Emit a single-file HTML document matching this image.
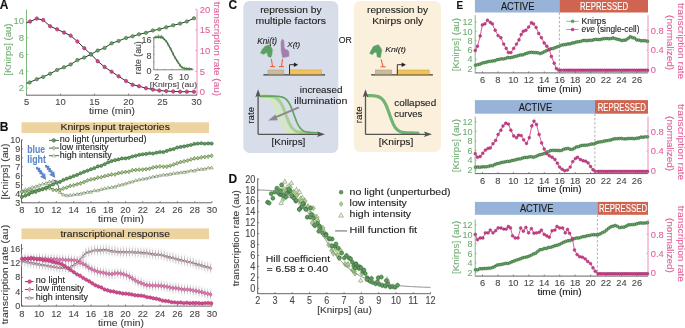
<!DOCTYPE html>
<html><head><meta charset="utf-8"><style>
html,body{margin:0;padding:0;background:#fff;}
body{width:685px;height:328px;overflow:hidden;}
svg{display:block;filter:blur(0.3px);}
svg text{font-family:"Liberation Sans", sans-serif;}
</style></head><body>
<svg width="685" height="328" viewBox="0 0 685 328">
<rect width="685" height="328" fill="#fff"/>
<text x="-0.30" y="8.80" font-size="12" text-anchor="start" fill="#111" font-weight="bold" font-style="normal" stroke="#111" stroke-width="0.1">A</text>
<line x1="26.50" y1="9.60" x2="26.50" y2="95.40" stroke="#7fb77f" stroke-width="1"/>
<line x1="26.50" y1="95.20" x2="197.00" y2="95.20" stroke="#666" stroke-width="1"/>
<line x1="197.00" y1="9.60" x2="197.00" y2="95.40" stroke="#ea8cb8" stroke-width="1"/>
<line x1="26.50" y1="88.00" x2="28.30" y2="88.00" stroke="#7fb77f" stroke-width="0.8"/>
<text x="24.00" y="91.34" font-size="9.4" text-anchor="end" fill="#6fae72" font-weight="normal" font-style="normal" stroke="#6fae72" stroke-width="0.1">2</text>
<line x1="26.50" y1="71.25" x2="28.30" y2="71.25" stroke="#7fb77f" stroke-width="0.8"/>
<text x="24.00" y="74.59" font-size="9.4" text-anchor="end" fill="#6fae72" font-weight="normal" font-style="normal" stroke="#6fae72" stroke-width="0.1">4</text>
<line x1="26.50" y1="54.50" x2="28.30" y2="54.50" stroke="#7fb77f" stroke-width="0.8"/>
<text x="24.00" y="57.84" font-size="9.4" text-anchor="end" fill="#6fae72" font-weight="normal" font-style="normal" stroke="#6fae72" stroke-width="0.1">6</text>
<line x1="26.50" y1="37.75" x2="28.30" y2="37.75" stroke="#7fb77f" stroke-width="0.8"/>
<text x="24.00" y="41.09" font-size="9.4" text-anchor="end" fill="#6fae72" font-weight="normal" font-style="normal" stroke="#6fae72" stroke-width="0.1">8</text>
<line x1="26.50" y1="21.00" x2="28.30" y2="21.00" stroke="#7fb77f" stroke-width="0.8"/>
<text x="24.00" y="24.34" font-size="9.4" text-anchor="end" fill="#6fae72" font-weight="normal" font-style="normal" stroke="#6fae72" stroke-width="0.1">10</text>
<line x1="195.20" y1="92.00" x2="197.00" y2="92.00" stroke="#ea8cb8" stroke-width="0.8"/>
<text x="199.80" y="95.34" font-size="9.4" text-anchor="start" fill="#e0609c" font-weight="normal" font-style="normal" stroke="#e0609c" stroke-width="0.1">0</text>
<line x1="195.20" y1="71.33" x2="197.00" y2="71.33" stroke="#ea8cb8" stroke-width="0.8"/>
<text x="199.80" y="74.66" font-size="9.4" text-anchor="start" fill="#e0609c" font-weight="normal" font-style="normal" stroke="#e0609c" stroke-width="0.1">5</text>
<line x1="195.20" y1="50.65" x2="197.00" y2="50.65" stroke="#ea8cb8" stroke-width="0.8"/>
<text x="199.80" y="53.99" font-size="9.4" text-anchor="start" fill="#e0609c" font-weight="normal" font-style="normal" stroke="#e0609c" stroke-width="0.1">10</text>
<line x1="195.20" y1="29.98" x2="197.00" y2="29.98" stroke="#ea8cb8" stroke-width="0.8"/>
<text x="199.80" y="33.31" font-size="9.4" text-anchor="start" fill="#e0609c" font-weight="normal" font-style="normal" stroke="#e0609c" stroke-width="0.1">15</text>
<line x1="195.20" y1="9.30" x2="197.00" y2="9.30" stroke="#ea8cb8" stroke-width="0.8"/>
<text x="199.80" y="12.64" font-size="9.4" text-anchor="start" fill="#e0609c" font-weight="normal" font-style="normal" stroke="#e0609c" stroke-width="0.1">20</text>
<line x1="26.50" y1="95.20" x2="26.50" y2="93.60" stroke="#666" stroke-width="0.8"/>
<text x="26.50" y="105.24" font-size="9.4" text-anchor="middle" fill="#474747" font-weight="normal" font-style="normal" stroke="#474747" stroke-width="0.1">5</text>
<line x1="60.50" y1="95.20" x2="60.50" y2="93.60" stroke="#666" stroke-width="0.8"/>
<text x="60.50" y="105.24" font-size="9.4" text-anchor="middle" fill="#474747" font-weight="normal" font-style="normal" stroke="#474747" stroke-width="0.1">10</text>
<line x1="94.50" y1="95.20" x2="94.50" y2="93.60" stroke="#666" stroke-width="0.8"/>
<text x="94.50" y="105.24" font-size="9.4" text-anchor="middle" fill="#474747" font-weight="normal" font-style="normal" stroke="#474747" stroke-width="0.1">15</text>
<line x1="128.50" y1="95.20" x2="128.50" y2="93.60" stroke="#666" stroke-width="0.8"/>
<text x="128.50" y="105.24" font-size="9.4" text-anchor="middle" fill="#474747" font-weight="normal" font-style="normal" stroke="#474747" stroke-width="0.1">20</text>
<line x1="162.50" y1="95.20" x2="162.50" y2="93.60" stroke="#666" stroke-width="0.8"/>
<text x="162.50" y="105.24" font-size="9.4" text-anchor="middle" fill="#474747" font-weight="normal" font-style="normal" stroke="#474747" stroke-width="0.1">25</text>
<line x1="196.50" y1="95.20" x2="196.50" y2="93.60" stroke="#666" stroke-width="0.8"/>
<text x="196.50" y="105.24" font-size="9.4" text-anchor="middle" fill="#474747" font-weight="normal" font-style="normal" stroke="#474747" stroke-width="0.1">30</text>
<text x="112.00" y="114.20" font-size="9.3" text-anchor="middle" fill="#3a3a3a" font-weight="normal" font-style="normal" textLength="46" lengthAdjust="spacingAndGlyphs" stroke="#3a3a3a" stroke-width="0.1">time (min)</text>
<text x="10.70" y="49.60" font-size="8.93" text-anchor="middle" fill="#6fae72" font-weight="normal" font-style="normal" transform="rotate(-90 10.70 49.60)" textLength="52.3" lengthAdjust="spacingAndGlyphs" stroke="#6fae72" stroke-width="0.1">[Knirps] (au)</text>
<text x="213.80" y="48.85" font-size="9.3" text-anchor="middle" fill="#e0609c" font-weight="normal" font-style="normal" transform="rotate(90 213.80 48.85)" textLength="94.3" lengthAdjust="spacingAndGlyphs" stroke="#e0609c" stroke-width="0.1">transcription rate (au)</text>
<polyline points="26.50,23.00 30.10,21.50 36.80,18.60 43.20,20.10 50.10,26.20 57.10,29.30 64.00,32.50 70.70,35.70 77.40,41.50 84.30,48.20 91.00,54.30 97.70,61.20 104.60,67.00 111.60,71.70 118.60,76.30 126.00,81.00 132.60,84.70 139.00,86.20 146.00,88.20 152.90,89.60 159.30,90.50 166.20,91.10 173.20,91.40 180.10,91.70 186.80,91.70 194.00,91.70" fill="none" stroke="#333" stroke-width="1" stroke-linejoin="round"/>
<polyline points="26.50,83.30 29.60,82.40 36.80,79.20 43.20,76.90 50.10,73.70 57.10,69.90 64.00,67.30 70.70,64.40 77.40,60.10 84.30,57.50 91.00,54.30 97.70,50.50 104.60,47.90 111.60,43.30 118.60,40.90 126.00,38.00 132.60,36.30 139.00,34.30 146.00,32.80 152.90,30.50 159.30,29.30 166.20,27.30 173.20,25.30 180.10,23.60 186.80,21.50 194.00,18.30" fill="none" stroke="#333" stroke-width="1" stroke-linejoin="round"/>
<line x1="30.10" y1="19.30" x2="30.10" y2="23.70" stroke="#888" stroke-width="0.5"/>
<circle cx="30.10" cy="21.50" r="1.75" fill="#d3458b" stroke="#8e2459" stroke-width="0.45"/>
<line x1="36.80" y1="16.40" x2="36.80" y2="20.80" stroke="#888" stroke-width="0.5"/>
<circle cx="36.80" cy="18.60" r="1.75" fill="#d3458b" stroke="#8e2459" stroke-width="0.45"/>
<line x1="43.20" y1="17.90" x2="43.20" y2="22.30" stroke="#888" stroke-width="0.5"/>
<circle cx="43.20" cy="20.10" r="1.75" fill="#d3458b" stroke="#8e2459" stroke-width="0.45"/>
<line x1="50.10" y1="24.00" x2="50.10" y2="28.40" stroke="#888" stroke-width="0.5"/>
<circle cx="50.10" cy="26.20" r="1.75" fill="#d3458b" stroke="#8e2459" stroke-width="0.45"/>
<line x1="57.10" y1="27.10" x2="57.10" y2="31.50" stroke="#888" stroke-width="0.5"/>
<circle cx="57.10" cy="29.30" r="1.75" fill="#d3458b" stroke="#8e2459" stroke-width="0.45"/>
<line x1="64.00" y1="30.30" x2="64.00" y2="34.70" stroke="#888" stroke-width="0.5"/>
<circle cx="64.00" cy="32.50" r="1.75" fill="#d3458b" stroke="#8e2459" stroke-width="0.45"/>
<line x1="70.70" y1="33.50" x2="70.70" y2="37.90" stroke="#888" stroke-width="0.5"/>
<circle cx="70.70" cy="35.70" r="1.75" fill="#d3458b" stroke="#8e2459" stroke-width="0.45"/>
<line x1="77.40" y1="39.30" x2="77.40" y2="43.70" stroke="#888" stroke-width="0.5"/>
<circle cx="77.40" cy="41.50" r="1.75" fill="#d3458b" stroke="#8e2459" stroke-width="0.45"/>
<line x1="84.30" y1="46.00" x2="84.30" y2="50.40" stroke="#888" stroke-width="0.5"/>
<circle cx="84.30" cy="48.20" r="1.75" fill="#d3458b" stroke="#8e2459" stroke-width="0.45"/>
<line x1="91.00" y1="52.10" x2="91.00" y2="56.50" stroke="#888" stroke-width="0.5"/>
<circle cx="91.00" cy="54.30" r="1.75" fill="#d3458b" stroke="#8e2459" stroke-width="0.45"/>
<line x1="97.70" y1="59.00" x2="97.70" y2="63.40" stroke="#888" stroke-width="0.5"/>
<circle cx="97.70" cy="61.20" r="1.75" fill="#d3458b" stroke="#8e2459" stroke-width="0.45"/>
<line x1="104.60" y1="64.80" x2="104.60" y2="69.20" stroke="#888" stroke-width="0.5"/>
<circle cx="104.60" cy="67.00" r="1.75" fill="#d3458b" stroke="#8e2459" stroke-width="0.45"/>
<line x1="111.60" y1="69.50" x2="111.60" y2="73.90" stroke="#888" stroke-width="0.5"/>
<circle cx="111.60" cy="71.70" r="1.75" fill="#d3458b" stroke="#8e2459" stroke-width="0.45"/>
<line x1="118.60" y1="74.10" x2="118.60" y2="78.50" stroke="#888" stroke-width="0.5"/>
<circle cx="118.60" cy="76.30" r="1.75" fill="#d3458b" stroke="#8e2459" stroke-width="0.45"/>
<line x1="126.00" y1="78.80" x2="126.00" y2="83.20" stroke="#888" stroke-width="0.5"/>
<circle cx="126.00" cy="81.00" r="1.75" fill="#d3458b" stroke="#8e2459" stroke-width="0.45"/>
<line x1="132.60" y1="82.50" x2="132.60" y2="86.90" stroke="#888" stroke-width="0.5"/>
<circle cx="132.60" cy="84.70" r="1.75" fill="#d3458b" stroke="#8e2459" stroke-width="0.45"/>
<line x1="139.00" y1="84.00" x2="139.00" y2="88.40" stroke="#888" stroke-width="0.5"/>
<circle cx="139.00" cy="86.20" r="1.75" fill="#d3458b" stroke="#8e2459" stroke-width="0.45"/>
<line x1="146.00" y1="86.00" x2="146.00" y2="90.40" stroke="#888" stroke-width="0.5"/>
<circle cx="146.00" cy="88.20" r="1.75" fill="#d3458b" stroke="#8e2459" stroke-width="0.45"/>
<line x1="152.90" y1="87.40" x2="152.90" y2="91.80" stroke="#888" stroke-width="0.5"/>
<circle cx="152.90" cy="89.60" r="1.75" fill="#d3458b" stroke="#8e2459" stroke-width="0.45"/>
<line x1="159.30" y1="88.30" x2="159.30" y2="92.70" stroke="#888" stroke-width="0.5"/>
<circle cx="159.30" cy="90.50" r="1.75" fill="#d3458b" stroke="#8e2459" stroke-width="0.45"/>
<line x1="166.20" y1="88.90" x2="166.20" y2="93.30" stroke="#888" stroke-width="0.5"/>
<circle cx="166.20" cy="91.10" r="1.75" fill="#d3458b" stroke="#8e2459" stroke-width="0.45"/>
<line x1="173.20" y1="89.20" x2="173.20" y2="93.60" stroke="#888" stroke-width="0.5"/>
<circle cx="173.20" cy="91.40" r="1.75" fill="#d3458b" stroke="#8e2459" stroke-width="0.45"/>
<line x1="180.10" y1="89.50" x2="180.10" y2="93.90" stroke="#888" stroke-width="0.5"/>
<circle cx="180.10" cy="91.70" r="1.75" fill="#d3458b" stroke="#8e2459" stroke-width="0.45"/>
<line x1="186.80" y1="89.50" x2="186.80" y2="93.90" stroke="#888" stroke-width="0.5"/>
<circle cx="186.80" cy="91.70" r="1.75" fill="#d3458b" stroke="#8e2459" stroke-width="0.45"/>
<line x1="194.00" y1="89.50" x2="194.00" y2="93.90" stroke="#888" stroke-width="0.5"/>
<circle cx="194.00" cy="91.70" r="1.75" fill="#d3458b" stroke="#8e2459" stroke-width="0.45"/>
<circle cx="29.60" cy="82.40" r="1.75" fill="#62a462" stroke="#2f5c2f" stroke-width="0.45"/>
<circle cx="36.80" cy="79.20" r="1.75" fill="#62a462" stroke="#2f5c2f" stroke-width="0.45"/>
<circle cx="43.20" cy="76.90" r="1.75" fill="#62a462" stroke="#2f5c2f" stroke-width="0.45"/>
<circle cx="50.10" cy="73.70" r="1.75" fill="#62a462" stroke="#2f5c2f" stroke-width="0.45"/>
<circle cx="57.10" cy="69.90" r="1.75" fill="#62a462" stroke="#2f5c2f" stroke-width="0.45"/>
<circle cx="64.00" cy="67.30" r="1.75" fill="#62a462" stroke="#2f5c2f" stroke-width="0.45"/>
<circle cx="70.70" cy="64.40" r="1.75" fill="#62a462" stroke="#2f5c2f" stroke-width="0.45"/>
<circle cx="77.40" cy="60.10" r="1.75" fill="#62a462" stroke="#2f5c2f" stroke-width="0.45"/>
<circle cx="84.30" cy="57.50" r="1.75" fill="#62a462" stroke="#2f5c2f" stroke-width="0.45"/>
<circle cx="91.00" cy="54.30" r="1.75" fill="#62a462" stroke="#2f5c2f" stroke-width="0.45"/>
<circle cx="97.70" cy="50.50" r="1.75" fill="#62a462" stroke="#2f5c2f" stroke-width="0.45"/>
<circle cx="104.60" cy="47.90" r="1.75" fill="#62a462" stroke="#2f5c2f" stroke-width="0.45"/>
<circle cx="111.60" cy="43.30" r="1.75" fill="#62a462" stroke="#2f5c2f" stroke-width="0.45"/>
<circle cx="118.60" cy="40.90" r="1.75" fill="#62a462" stroke="#2f5c2f" stroke-width="0.45"/>
<circle cx="126.00" cy="38.00" r="1.75" fill="#62a462" stroke="#2f5c2f" stroke-width="0.45"/>
<circle cx="132.60" cy="36.30" r="1.75" fill="#62a462" stroke="#2f5c2f" stroke-width="0.45"/>
<circle cx="139.00" cy="34.30" r="1.75" fill="#62a462" stroke="#2f5c2f" stroke-width="0.45"/>
<circle cx="146.00" cy="32.80" r="1.75" fill="#62a462" stroke="#2f5c2f" stroke-width="0.45"/>
<circle cx="152.90" cy="30.50" r="1.75" fill="#62a462" stroke="#2f5c2f" stroke-width="0.45"/>
<circle cx="159.30" cy="29.30" r="1.75" fill="#62a462" stroke="#2f5c2f" stroke-width="0.45"/>
<circle cx="166.20" cy="27.30" r="1.75" fill="#62a462" stroke="#2f5c2f" stroke-width="0.45"/>
<circle cx="173.20" cy="25.30" r="1.75" fill="#62a462" stroke="#2f5c2f" stroke-width="0.45"/>
<circle cx="180.10" cy="23.60" r="1.75" fill="#62a462" stroke="#2f5c2f" stroke-width="0.45"/>
<circle cx="186.80" cy="21.50" r="1.75" fill="#62a462" stroke="#2f5c2f" stroke-width="0.45"/>
<circle cx="194.00" cy="18.30" r="1.75" fill="#62a462" stroke="#2f5c2f" stroke-width="0.45"/>
<line x1="153.80" y1="37.10" x2="153.80" y2="70.00" stroke="#666" stroke-width="0.8"/>
<line x1="153.80" y1="69.80" x2="193.50" y2="69.80" stroke="#666" stroke-width="0.8"/>
<line x1="153.80" y1="39.00" x2="155.00" y2="39.00" stroke="#777" stroke-width="0.5"/>
<line x1="153.80" y1="46.70" x2="155.00" y2="46.70" stroke="#777" stroke-width="0.5"/>
<line x1="153.80" y1="54.40" x2="155.00" y2="54.40" stroke="#777" stroke-width="0.5"/>
<line x1="153.80" y1="62.10" x2="155.00" y2="62.10" stroke="#777" stroke-width="0.5"/>
<line x1="157.40" y1="69.80" x2="157.40" y2="68.60" stroke="#777" stroke-width="0.5"/>
<line x1="164.70" y1="69.80" x2="164.70" y2="68.60" stroke="#777" stroke-width="0.5"/>
<line x1="171.80" y1="69.80" x2="171.80" y2="68.60" stroke="#777" stroke-width="0.5"/>
<line x1="179.20" y1="69.80" x2="179.20" y2="68.60" stroke="#777" stroke-width="0.5"/>
<line x1="186.50" y1="69.80" x2="186.50" y2="68.60" stroke="#777" stroke-width="0.5"/>
<text x="151.50" y="43.49" font-size="9" text-anchor="end" fill="#474747" font-weight="normal" font-style="normal" stroke="#474747" stroke-width="0.1">16</text>
<text x="151.50" y="58.59" font-size="9" text-anchor="end" fill="#474747" font-weight="normal" font-style="normal" stroke="#474747" stroke-width="0.1">8</text>
<text x="151.50" y="73.69" font-size="9" text-anchor="end" fill="#474747" font-weight="normal" font-style="normal" stroke="#474747" stroke-width="0.1">0</text>
<text x="156.80" y="80.29" font-size="9" text-anchor="middle" fill="#474747" font-weight="normal" font-style="normal" stroke="#474747" stroke-width="0.1">2</text>
<text x="170.60" y="80.29" font-size="9" text-anchor="middle" fill="#474747" font-weight="normal" font-style="normal" stroke="#474747" stroke-width="0.1">6</text>
<text x="184.00" y="80.29" font-size="9" text-anchor="middle" fill="#474747" font-weight="normal" font-style="normal" stroke="#474747" stroke-width="0.1">10</text>
<text x="173.40" y="86.60" font-size="8.09" text-anchor="middle" fill="#474747" font-weight="normal" font-style="normal" textLength="47.3" lengthAdjust="spacingAndGlyphs" stroke="#474747" stroke-width="0.1">[Knirps] (au)</text>
<text x="141.20" y="57.70" font-size="8.18" text-anchor="middle" fill="#474747" font-weight="normal" font-style="normal" transform="rotate(-90 141.20 57.70)" textLength="33" lengthAdjust="spacingAndGlyphs" stroke="#474747" stroke-width="0.1">rate (au)</text>
<line x1="184.00" y1="68.60" x2="193.00" y2="69.10" stroke="#999" stroke-width="0.8"/>
<polyline points="153.80,37.40 158.00,37.20 162.20,37.20 166.60,41.60 170.50,48.60 174.30,56.30 178.20,62.70 181.40,67.20 184.60,68.50 192.30,69.10" fill="none" stroke="#3a5e3a" stroke-width="1.3" stroke-linejoin="round"/>
<line x1="156.00" y1="35.50" x2="156.00" y2="39.10" stroke="#6f926f" stroke-width="0.6"/>
<circle cx="156.00" cy="37.30" r="1.0" fill="#4f8a4f" stroke="none" stroke-width="0.5"/>
<line x1="158.50" y1="35.40" x2="158.50" y2="39.00" stroke="#6f926f" stroke-width="0.6"/>
<circle cx="158.50" cy="37.20" r="1.0" fill="#4f8a4f" stroke="none" stroke-width="0.5"/>
<line x1="161.00" y1="35.40" x2="161.00" y2="39.00" stroke="#6f926f" stroke-width="0.6"/>
<circle cx="161.00" cy="37.20" r="1.0" fill="#4f8a4f" stroke="none" stroke-width="0.5"/>
<line x1="163.50" y1="36.70" x2="163.50" y2="40.30" stroke="#6f926f" stroke-width="0.6"/>
<circle cx="163.50" cy="38.50" r="1.0" fill="#4f8a4f" stroke="none" stroke-width="0.5"/>
<line x1="166.00" y1="39.20" x2="166.00" y2="42.80" stroke="#6f926f" stroke-width="0.6"/>
<circle cx="166.00" cy="41.00" r="1.0" fill="#4f8a4f" stroke="none" stroke-width="0.5"/>
<line x1="168.30" y1="42.85" x2="168.30" y2="46.45" stroke="#6f926f" stroke-width="0.6"/>
<circle cx="168.30" cy="44.65" r="1.0" fill="#4f8a4f" stroke="none" stroke-width="0.5"/>
<line x1="170.60" y1="47.00" x2="170.60" y2="50.60" stroke="#6f926f" stroke-width="0.6"/>
<circle cx="170.60" cy="48.80" r="1.0" fill="#4f8a4f" stroke="none" stroke-width="0.5"/>
<line x1="172.90" y1="51.66" x2="172.90" y2="55.26" stroke="#6f926f" stroke-width="0.6"/>
<circle cx="172.90" cy="53.46" r="1.0" fill="#4f8a4f" stroke="none" stroke-width="0.5"/>
<line x1="175.20" y1="55.98" x2="175.20" y2="59.58" stroke="#6f926f" stroke-width="0.6"/>
<circle cx="175.20" cy="57.78" r="1.0" fill="#4f8a4f" stroke="none" stroke-width="0.5"/>
<line x1="177.50" y1="59.75" x2="177.50" y2="63.35" stroke="#6f926f" stroke-width="0.6"/>
<circle cx="177.50" cy="61.55" r="1.0" fill="#4f8a4f" stroke="none" stroke-width="0.5"/>
<line x1="179.80" y1="63.15" x2="179.80" y2="66.75" stroke="#6f926f" stroke-width="0.6"/>
<circle cx="179.80" cy="64.95" r="1.0" fill="#4f8a4f" stroke="none" stroke-width="0.5"/>
<line x1="182.10" y1="65.68" x2="182.10" y2="69.28" stroke="#6f926f" stroke-width="0.6"/>
<circle cx="182.10" cy="67.48" r="1.0" fill="#4f8a4f" stroke="none" stroke-width="0.5"/>
<line x1="184.40" y1="66.62" x2="184.40" y2="70.22" stroke="#6f926f" stroke-width="0.6"/>
<circle cx="184.40" cy="68.42" r="1.0" fill="#4f8a4f" stroke="none" stroke-width="0.5"/>
<line x1="186.70" y1="66.86" x2="186.70" y2="70.46" stroke="#6f926f" stroke-width="0.6"/>
<circle cx="186.70" cy="68.66" r="1.0" fill="#4f8a4f" stroke="none" stroke-width="0.5"/>
<line x1="189.00" y1="67.04" x2="189.00" y2="70.64" stroke="#6f926f" stroke-width="0.6"/>
<circle cx="189.00" cy="68.84" r="1.0" fill="#4f8a4f" stroke="none" stroke-width="0.5"/>
<path d="M158.50 34.60L160.20 37.57L156.80 37.57Z" fill="none" stroke="#557755" stroke-width="0.5"/>
<path d="M161.50 35.10L163.20 38.07L159.80 38.07Z" fill="none" stroke="#557755" stroke-width="0.5"/>
<text x="-0.30" y="130.60" font-size="12" text-anchor="start" fill="#111" font-weight="bold" font-style="normal" stroke="#111" stroke-width="0.1">B</text>
<rect x="21.50" y="122.30" width="187.50" height="10.80" rx="0" fill="#edd39f"/>
<text x="115.15" y="130.30" font-size="9.3" text-anchor="middle" fill="#222" font-weight="normal" font-style="normal" textLength="109.5" lengthAdjust="spacingAndGlyphs" stroke="#222" stroke-width="0.1">Knirps input trajectories</text>
<rect x="21.50" y="228.40" width="187.50" height="10.80" rx="0" fill="#edd39f"/>
<text x="115.15" y="236.80" font-size="9.3" text-anchor="middle" fill="#222" font-weight="normal" font-style="normal" textLength="109.5" lengthAdjust="spacingAndGlyphs" stroke="#222" stroke-width="0.1">transcriptional response</text>
<line x1="21.50" y1="139.80" x2="21.50" y2="203.00" stroke="#666" stroke-width="1"/>
<line x1="21.50" y1="202.80" x2="211.80" y2="202.80" stroke="#666" stroke-width="1"/>
<line x1="21.50" y1="202.70" x2="23.00" y2="202.70" stroke="#666" stroke-width="0.8"/>
<text x="20.20" y="205.89" font-size="9" text-anchor="end" fill="#474747" font-weight="normal" font-style="normal" stroke="#474747" stroke-width="0.1">3</text>
<line x1="21.50" y1="193.73" x2="23.00" y2="193.73" stroke="#666" stroke-width="0.8"/>
<text x="20.20" y="196.92" font-size="9" text-anchor="end" fill="#474747" font-weight="normal" font-style="normal" stroke="#474747" stroke-width="0.1">4</text>
<line x1="21.50" y1="184.76" x2="23.00" y2="184.76" stroke="#666" stroke-width="0.8"/>
<text x="20.20" y="187.95" font-size="9" text-anchor="end" fill="#474747" font-weight="normal" font-style="normal" stroke="#474747" stroke-width="0.1">5</text>
<line x1="21.50" y1="175.79" x2="23.00" y2="175.79" stroke="#666" stroke-width="0.8"/>
<text x="20.20" y="178.98" font-size="9" text-anchor="end" fill="#474747" font-weight="normal" font-style="normal" stroke="#474747" stroke-width="0.1">6</text>
<line x1="21.50" y1="166.82" x2="23.00" y2="166.82" stroke="#666" stroke-width="0.8"/>
<text x="20.20" y="170.01" font-size="9" text-anchor="end" fill="#474747" font-weight="normal" font-style="normal" stroke="#474747" stroke-width="0.1">7</text>
<line x1="21.50" y1="157.85" x2="23.00" y2="157.85" stroke="#666" stroke-width="0.8"/>
<text x="20.20" y="161.04" font-size="9" text-anchor="end" fill="#474747" font-weight="normal" font-style="normal" stroke="#474747" stroke-width="0.1">8</text>
<line x1="21.50" y1="148.88" x2="23.00" y2="148.88" stroke="#666" stroke-width="0.8"/>
<text x="20.20" y="152.07" font-size="9" text-anchor="end" fill="#474747" font-weight="normal" font-style="normal" stroke="#474747" stroke-width="0.1">9</text>
<line x1="21.50" y1="139.91" x2="23.00" y2="139.91" stroke="#666" stroke-width="0.8"/>
<text x="20.20" y="143.10" font-size="9" text-anchor="end" fill="#474747" font-weight="normal" font-style="normal" stroke="#474747" stroke-width="0.1">10</text>
<line x1="21.80" y1="202.80" x2="21.80" y2="201.20" stroke="#666" stroke-width="0.8"/>
<text x="21.80" y="212.60" font-size="9.3" text-anchor="middle" fill="#474747" font-weight="normal" font-style="normal" stroke="#474747" stroke-width="0.1">8</text>
<line x1="39.09" y1="202.80" x2="39.09" y2="201.20" stroke="#666" stroke-width="0.8"/>
<text x="39.09" y="212.60" font-size="9.3" text-anchor="middle" fill="#474747" font-weight="normal" font-style="normal" stroke="#474747" stroke-width="0.1">10</text>
<line x1="56.38" y1="202.80" x2="56.38" y2="201.20" stroke="#666" stroke-width="0.8"/>
<text x="56.38" y="212.60" font-size="9.3" text-anchor="middle" fill="#474747" font-weight="normal" font-style="normal" stroke="#474747" stroke-width="0.1">12</text>
<line x1="73.67" y1="202.80" x2="73.67" y2="201.20" stroke="#666" stroke-width="0.8"/>
<text x="73.67" y="212.60" font-size="9.3" text-anchor="middle" fill="#474747" font-weight="normal" font-style="normal" stroke="#474747" stroke-width="0.1">14</text>
<line x1="90.96" y1="202.80" x2="90.96" y2="201.20" stroke="#666" stroke-width="0.8"/>
<text x="90.96" y="212.60" font-size="9.3" text-anchor="middle" fill="#474747" font-weight="normal" font-style="normal" stroke="#474747" stroke-width="0.1">16</text>
<line x1="108.25" y1="202.80" x2="108.25" y2="201.20" stroke="#666" stroke-width="0.8"/>
<text x="108.25" y="212.60" font-size="9.3" text-anchor="middle" fill="#474747" font-weight="normal" font-style="normal" stroke="#474747" stroke-width="0.1">18</text>
<line x1="125.54" y1="202.80" x2="125.54" y2="201.20" stroke="#666" stroke-width="0.8"/>
<text x="125.54" y="212.60" font-size="9.3" text-anchor="middle" fill="#474747" font-weight="normal" font-style="normal" stroke="#474747" stroke-width="0.1">20</text>
<line x1="142.83" y1="202.80" x2="142.83" y2="201.20" stroke="#666" stroke-width="0.8"/>
<text x="142.83" y="212.60" font-size="9.3" text-anchor="middle" fill="#474747" font-weight="normal" font-style="normal" stroke="#474747" stroke-width="0.1">22</text>
<line x1="160.12" y1="202.80" x2="160.12" y2="201.20" stroke="#666" stroke-width="0.8"/>
<text x="160.12" y="212.60" font-size="9.3" text-anchor="middle" fill="#474747" font-weight="normal" font-style="normal" stroke="#474747" stroke-width="0.1">24</text>
<line x1="177.41" y1="202.80" x2="177.41" y2="201.20" stroke="#666" stroke-width="0.8"/>
<text x="177.41" y="212.60" font-size="9.3" text-anchor="middle" fill="#474747" font-weight="normal" font-style="normal" stroke="#474747" stroke-width="0.1">26</text>
<line x1="194.70" y1="202.80" x2="194.70" y2="201.20" stroke="#666" stroke-width="0.8"/>
<text x="194.70" y="212.60" font-size="9.3" text-anchor="middle" fill="#474747" font-weight="normal" font-style="normal" stroke="#474747" stroke-width="0.1">28</text>
<line x1="211.99" y1="202.80" x2="211.99" y2="201.20" stroke="#666" stroke-width="0.8"/>
<text x="211.99" y="212.60" font-size="9.3" text-anchor="middle" fill="#474747" font-weight="normal" font-style="normal" stroke="#474747" stroke-width="0.1">30</text>
<text x="121.00" y="222.30" font-size="9.3" text-anchor="middle" fill="#3a3a3a" font-weight="normal" font-style="normal" textLength="46" lengthAdjust="spacingAndGlyphs" stroke="#3a3a3a" stroke-width="0.1">time (min)</text>
<text x="8.00" y="171.50" font-size="9.3" text-anchor="middle" fill="#3a3a3a" font-weight="normal" font-style="normal" transform="rotate(-90 8.00 171.50)" textLength="56" lengthAdjust="spacingAndGlyphs" stroke="#3a3a3a" stroke-width="0.1">[Knirps] (au)</text>
<polyline points="21.90,190.80 55.40,180.20 58.00,185.00 60.00,193.00 63.80,195.00 70.00,195.50 90.00,191.70 112.80,187.10 135.70,180.70 158.50,175.70 181.40,172.30 211.10,167.70" fill="none" stroke="#444" stroke-width="0.8" stroke-linejoin="round"/>
<polyline points="21.90,192.30 50.80,187.80 53.10,190.00 60.00,189.60 90.00,179.80 112.80,174.60 135.70,170.00 147.10,168.80 158.50,166.60 170.00,166.10 181.40,162.00 192.80,159.20 211.10,155.60" fill="none" stroke="#444" stroke-width="0.8" stroke-linejoin="round"/>
<polyline points="21.90,196.90 56.20,183.20 90.00,170.00 112.80,160.80 135.70,155.80 149.40,153.50 158.50,152.80 170.00,150.10 183.70,146.00 197.40,143.70 211.10,143.30" fill="none" stroke="#333" stroke-width="0.8" stroke-linejoin="round"/>
<path d="M21.90 188.92L23.60 191.90L20.20 191.90Z" fill="#e9f1da" stroke="#72906a" stroke-width="0.55"/>
<path d="M25.35 187.66L27.05 190.63L23.65 190.63Z" fill="#e9f1da" stroke="#72906a" stroke-width="0.55"/>
<path d="M28.80 187.07L30.50 190.04L27.10 190.04Z" fill="#e9f1da" stroke="#72906a" stroke-width="0.55"/>
<path d="M32.25 185.40L33.95 188.37L30.55 188.37Z" fill="#e9f1da" stroke="#72906a" stroke-width="0.55"/>
<path d="M35.70 184.77L37.40 187.74L34.00 187.74Z" fill="#e9f1da" stroke="#72906a" stroke-width="0.55"/>
<path d="M39.15 183.51L40.85 186.48L37.45 186.48Z" fill="#e9f1da" stroke="#72906a" stroke-width="0.55"/>
<path d="M42.60 182.11L44.30 185.08L40.90 185.08Z" fill="#e9f1da" stroke="#72906a" stroke-width="0.55"/>
<path d="M46.05 181.47L47.75 184.44L44.35 184.44Z" fill="#e9f1da" stroke="#72906a" stroke-width="0.55"/>
<path d="M49.50 179.90L51.20 182.88L47.80 182.88Z" fill="#e9f1da" stroke="#72906a" stroke-width="0.55"/>
<path d="M52.95 179.21L54.65 182.18L51.25 182.18Z" fill="#e9f1da" stroke="#72906a" stroke-width="0.55"/>
<path d="M56.40 179.92L58.10 182.89L54.70 182.89Z" fill="#e9f1da" stroke="#72906a" stroke-width="0.55"/>
<path d="M59.85 190.29L61.55 193.27L58.15 193.27Z" fill="#e9f1da" stroke="#72906a" stroke-width="0.55"/>
<path d="M63.30 192.96L65.00 195.94L61.60 195.94Z" fill="#e9f1da" stroke="#72906a" stroke-width="0.55"/>
<path d="M66.75 193.86L68.45 196.84L65.05 196.84Z" fill="#e9f1da" stroke="#72906a" stroke-width="0.55"/>
<path d="M70.20 193.39L71.90 196.36L68.50 196.36Z" fill="#e9f1da" stroke="#72906a" stroke-width="0.55"/>
<path d="M73.65 192.83L75.35 195.80L71.95 195.80Z" fill="#e9f1da" stroke="#72906a" stroke-width="0.55"/>
<path d="M77.10 192.58L78.80 195.55L75.40 195.55Z" fill="#e9f1da" stroke="#72906a" stroke-width="0.55"/>
<path d="M80.55 192.24L82.25 195.22L78.85 195.22Z" fill="#e9f1da" stroke="#72906a" stroke-width="0.55"/>
<path d="M84.00 191.22L85.70 194.19L82.30 194.19Z" fill="#e9f1da" stroke="#72906a" stroke-width="0.55"/>
<path d="M87.45 190.38L89.15 193.36L85.75 193.36Z" fill="#e9f1da" stroke="#72906a" stroke-width="0.55"/>
<path d="M90.90 190.29L92.60 193.27L89.20 193.27Z" fill="#e9f1da" stroke="#72906a" stroke-width="0.55"/>
<path d="M94.35 188.67L96.05 191.64L92.65 191.64Z" fill="#e9f1da" stroke="#72906a" stroke-width="0.55"/>
<path d="M97.80 188.78L99.50 191.76L96.10 191.76Z" fill="#e9f1da" stroke="#72906a" stroke-width="0.55"/>
<path d="M101.25 187.52L102.95 190.49L99.55 190.49Z" fill="#e9f1da" stroke="#72906a" stroke-width="0.55"/>
<path d="M104.70 186.68L106.40 189.65L103.00 189.65Z" fill="#e9f1da" stroke="#72906a" stroke-width="0.55"/>
<path d="M108.15 185.96L109.85 188.93L106.45 188.93Z" fill="#e9f1da" stroke="#72906a" stroke-width="0.55"/>
<path d="M111.60 185.45L113.30 188.43L109.90 188.43Z" fill="#e9f1da" stroke="#72906a" stroke-width="0.55"/>
<path d="M115.05 185.09L116.75 188.06L113.35 188.06Z" fill="#e9f1da" stroke="#72906a" stroke-width="0.55"/>
<path d="M118.50 183.49L120.20 186.46L116.80 186.46Z" fill="#e9f1da" stroke="#72906a" stroke-width="0.55"/>
<path d="M121.95 182.92L123.65 185.90L120.25 185.90Z" fill="#e9f1da" stroke="#72906a" stroke-width="0.55"/>
<path d="M125.40 182.02L127.10 184.99L123.70 184.99Z" fill="#e9f1da" stroke="#72906a" stroke-width="0.55"/>
<path d="M128.85 180.79L130.55 183.76L127.15 183.76Z" fill="#e9f1da" stroke="#72906a" stroke-width="0.55"/>
<path d="M132.30 180.00L134.00 182.97L130.60 182.97Z" fill="#e9f1da" stroke="#72906a" stroke-width="0.55"/>
<path d="M135.75 178.55L137.45 181.53L134.05 181.53Z" fill="#e9f1da" stroke="#72906a" stroke-width="0.55"/>
<path d="M139.20 177.79L140.90 180.77L137.50 180.77Z" fill="#e9f1da" stroke="#72906a" stroke-width="0.55"/>
<path d="M142.65 177.18L144.35 180.16L140.95 180.16Z" fill="#e9f1da" stroke="#72906a" stroke-width="0.55"/>
<path d="M146.10 176.90L147.80 179.87L144.40 179.87Z" fill="#e9f1da" stroke="#72906a" stroke-width="0.55"/>
<path d="M149.55 175.89L151.25 178.87L147.85 178.87Z" fill="#e9f1da" stroke="#72906a" stroke-width="0.55"/>
<path d="M153.00 175.02L154.70 178.00L151.30 178.00Z" fill="#e9f1da" stroke="#72906a" stroke-width="0.55"/>
<path d="M156.45 174.54L158.15 177.51L154.75 177.51Z" fill="#e9f1da" stroke="#72906a" stroke-width="0.55"/>
<path d="M159.90 173.75L161.60 176.72L158.20 176.72Z" fill="#e9f1da" stroke="#72906a" stroke-width="0.55"/>
<path d="M163.35 173.08L165.05 176.05L161.65 176.05Z" fill="#e9f1da" stroke="#72906a" stroke-width="0.55"/>
<path d="M166.80 173.06L168.50 176.04L165.10 176.04Z" fill="#e9f1da" stroke="#72906a" stroke-width="0.55"/>
<path d="M170.25 172.45L171.95 175.43L168.55 175.43Z" fill="#e9f1da" stroke="#72906a" stroke-width="0.55"/>
<path d="M173.70 171.49L175.40 174.46L172.00 174.46Z" fill="#e9f1da" stroke="#72906a" stroke-width="0.55"/>
<path d="M177.15 171.31L178.85 174.28L175.45 174.28Z" fill="#e9f1da" stroke="#72906a" stroke-width="0.55"/>
<path d="M180.60 170.74L182.30 173.72L178.90 173.72Z" fill="#e9f1da" stroke="#72906a" stroke-width="0.55"/>
<path d="M184.05 170.56L185.75 173.54L182.35 173.54Z" fill="#e9f1da" stroke="#72906a" stroke-width="0.55"/>
<path d="M187.50 169.88L189.20 172.86L185.80 172.86Z" fill="#e9f1da" stroke="#72906a" stroke-width="0.55"/>
<path d="M190.95 168.91L192.65 171.88L189.25 171.88Z" fill="#e9f1da" stroke="#72906a" stroke-width="0.55"/>
<path d="M194.40 169.07L196.10 172.04L192.70 172.04Z" fill="#e9f1da" stroke="#72906a" stroke-width="0.55"/>
<path d="M197.85 167.67L199.55 170.65L196.15 170.65Z" fill="#e9f1da" stroke="#72906a" stroke-width="0.55"/>
<path d="M201.30 167.44L203.00 170.41L199.60 170.41Z" fill="#e9f1da" stroke="#72906a" stroke-width="0.55"/>
<path d="M204.75 167.24L206.45 170.22L203.05 170.22Z" fill="#e9f1da" stroke="#72906a" stroke-width="0.55"/>
<path d="M208.20 166.10L209.90 169.08L206.50 169.08Z" fill="#e9f1da" stroke="#72906a" stroke-width="0.55"/>
<path d="M211.65 165.99L213.35 168.96L209.95 168.96Z" fill="#e9f1da" stroke="#72906a" stroke-width="0.55"/>
<path d="M21.90 189.84L23.50 191.84L21.90 193.84L20.30 191.84Z" fill="#aacd86" stroke="#4f703c" stroke-width="0.55"/>
<path d="M25.35 189.93L26.95 191.93L25.35 193.93L23.75 191.93Z" fill="#aacd86" stroke="#4f703c" stroke-width="0.55"/>
<path d="M28.80 189.49L30.40 191.49L28.80 193.49L27.20 191.49Z" fill="#aacd86" stroke="#4f703c" stroke-width="0.55"/>
<path d="M32.25 188.76L33.85 190.76L32.25 192.76L30.65 190.76Z" fill="#aacd86" stroke="#4f703c" stroke-width="0.55"/>
<path d="M35.70 188.53L37.30 190.53L35.70 192.53L34.10 190.53Z" fill="#aacd86" stroke="#4f703c" stroke-width="0.55"/>
<path d="M39.15 187.43L40.75 189.43L39.15 191.43L37.55 189.43Z" fill="#aacd86" stroke="#4f703c" stroke-width="0.55"/>
<path d="M42.60 187.27L44.20 189.27L42.60 191.27L41.00 189.27Z" fill="#aacd86" stroke="#4f703c" stroke-width="0.55"/>
<path d="M46.05 186.63L47.65 188.63L46.05 190.63L44.45 188.63Z" fill="#aacd86" stroke="#4f703c" stroke-width="0.55"/>
<path d="M49.50 186.08L51.10 188.08L49.50 190.08L47.90 188.08Z" fill="#aacd86" stroke="#4f703c" stroke-width="0.55"/>
<path d="M52.95 187.81L54.55 189.81L52.95 191.81L51.35 189.81Z" fill="#aacd86" stroke="#4f703c" stroke-width="0.55"/>
<path d="M56.40 188.15L58.00 190.15L56.40 192.15L54.80 190.15Z" fill="#aacd86" stroke="#4f703c" stroke-width="0.55"/>
<path d="M59.85 188.05L61.45 190.05L59.85 192.05L58.25 190.05Z" fill="#aacd86" stroke="#4f703c" stroke-width="0.55"/>
<path d="M63.30 186.50L64.90 188.50L63.30 190.50L61.70 188.50Z" fill="#aacd86" stroke="#4f703c" stroke-width="0.55"/>
<path d="M66.75 185.56L68.35 187.56L66.75 189.56L65.15 187.56Z" fill="#aacd86" stroke="#4f703c" stroke-width="0.55"/>
<path d="M70.20 183.83L71.80 185.83L70.20 187.83L68.60 185.83Z" fill="#aacd86" stroke="#4f703c" stroke-width="0.55"/>
<path d="M73.65 183.34L75.25 185.34L73.65 187.34L72.05 185.34Z" fill="#aacd86" stroke="#4f703c" stroke-width="0.55"/>
<path d="M77.10 182.16L78.70 184.16L77.10 186.16L75.50 184.16Z" fill="#aacd86" stroke="#4f703c" stroke-width="0.55"/>
<path d="M80.55 181.38L82.15 183.38L80.55 185.38L78.95 183.38Z" fill="#aacd86" stroke="#4f703c" stroke-width="0.55"/>
<path d="M84.00 180.08L85.60 182.08L84.00 184.08L82.40 182.08Z" fill="#aacd86" stroke="#4f703c" stroke-width="0.55"/>
<path d="M87.45 178.42L89.05 180.42L87.45 182.42L85.85 180.42Z" fill="#aacd86" stroke="#4f703c" stroke-width="0.55"/>
<path d="M90.90 177.48L92.50 179.48L90.90 181.48L89.30 179.48Z" fill="#aacd86" stroke="#4f703c" stroke-width="0.55"/>
<path d="M94.35 176.98L95.95 178.98L94.35 180.98L92.75 178.98Z" fill="#aacd86" stroke="#4f703c" stroke-width="0.55"/>
<path d="M97.80 175.54L99.40 177.54L97.80 179.54L96.20 177.54Z" fill="#aacd86" stroke="#4f703c" stroke-width="0.55"/>
<path d="M101.25 175.20L102.85 177.20L101.25 179.20L99.65 177.20Z" fill="#aacd86" stroke="#4f703c" stroke-width="0.55"/>
<path d="M104.70 174.12L106.30 176.12L104.70 178.12L103.10 176.12Z" fill="#aacd86" stroke="#4f703c" stroke-width="0.55"/>
<path d="M108.15 173.28L109.75 175.28L108.15 177.28L106.55 175.28Z" fill="#aacd86" stroke="#4f703c" stroke-width="0.55"/>
<path d="M111.60 172.43L113.20 174.43L111.60 176.43L110.00 174.43Z" fill="#aacd86" stroke="#4f703c" stroke-width="0.55"/>
<path d="M115.05 172.42L116.65 174.42L115.05 176.42L113.45 174.42Z" fill="#aacd86" stroke="#4f703c" stroke-width="0.55"/>
<path d="M118.50 171.08L120.10 173.08L118.50 175.08L116.90 173.08Z" fill="#aacd86" stroke="#4f703c" stroke-width="0.55"/>
<path d="M121.95 170.51L123.55 172.51L121.95 174.51L120.35 172.51Z" fill="#aacd86" stroke="#4f703c" stroke-width="0.55"/>
<path d="M125.40 169.96L127.00 171.96L125.40 173.96L123.80 171.96Z" fill="#aacd86" stroke="#4f703c" stroke-width="0.55"/>
<path d="M128.85 169.75L130.45 171.75L128.85 173.75L127.25 171.75Z" fill="#aacd86" stroke="#4f703c" stroke-width="0.55"/>
<path d="M132.30 168.26L133.90 170.26L132.30 172.26L130.70 170.26Z" fill="#aacd86" stroke="#4f703c" stroke-width="0.55"/>
<path d="M135.75 167.94L137.35 169.94L135.75 171.94L134.15 169.94Z" fill="#aacd86" stroke="#4f703c" stroke-width="0.55"/>
<path d="M139.20 167.68L140.80 169.68L139.20 171.68L137.60 169.68Z" fill="#aacd86" stroke="#4f703c" stroke-width="0.55"/>
<path d="M142.65 167.65L144.25 169.65L142.65 171.65L141.05 169.65Z" fill="#aacd86" stroke="#4f703c" stroke-width="0.55"/>
<path d="M146.10 167.22L147.70 169.22L146.10 171.22L144.50 169.22Z" fill="#aacd86" stroke="#4f703c" stroke-width="0.55"/>
<path d="M149.55 166.69L151.15 168.69L149.55 170.69L147.95 168.69Z" fill="#aacd86" stroke="#4f703c" stroke-width="0.55"/>
<path d="M153.00 165.44L154.60 167.44L153.00 169.44L151.40 167.44Z" fill="#aacd86" stroke="#4f703c" stroke-width="0.55"/>
<path d="M156.45 164.91L158.05 166.91L156.45 168.91L154.85 166.91Z" fill="#aacd86" stroke="#4f703c" stroke-width="0.55"/>
<path d="M159.90 164.40L161.50 166.40L159.90 168.40L158.30 166.40Z" fill="#aacd86" stroke="#4f703c" stroke-width="0.55"/>
<path d="M163.35 164.77L164.95 166.77L163.35 168.77L161.75 166.77Z" fill="#aacd86" stroke="#4f703c" stroke-width="0.55"/>
<path d="M166.80 164.70L168.40 166.70L166.80 168.70L165.20 166.70Z" fill="#aacd86" stroke="#4f703c" stroke-width="0.55"/>
<path d="M170.25 163.66L171.85 165.66L170.25 167.66L168.65 165.66Z" fill="#aacd86" stroke="#4f703c" stroke-width="0.55"/>
<path d="M173.70 162.45L175.30 164.45L173.70 166.45L172.10 164.45Z" fill="#aacd86" stroke="#4f703c" stroke-width="0.55"/>
<path d="M177.15 161.26L178.75 163.26L177.15 165.26L175.55 163.26Z" fill="#aacd86" stroke="#4f703c" stroke-width="0.55"/>
<path d="M180.60 160.02L182.20 162.02L180.60 164.02L179.00 162.02Z" fill="#aacd86" stroke="#4f703c" stroke-width="0.55"/>
<path d="M184.05 159.33L185.65 161.33L184.05 163.33L182.45 161.33Z" fill="#aacd86" stroke="#4f703c" stroke-width="0.55"/>
<path d="M187.50 158.59L189.10 160.59L187.50 162.59L185.90 160.59Z" fill="#aacd86" stroke="#4f703c" stroke-width="0.55"/>
<path d="M190.95 157.42L192.55 159.42L190.95 161.42L189.35 159.42Z" fill="#aacd86" stroke="#4f703c" stroke-width="0.55"/>
<path d="M194.40 156.39L196.00 158.39L194.40 160.39L192.80 158.39Z" fill="#aacd86" stroke="#4f703c" stroke-width="0.55"/>
<path d="M197.85 156.13L199.45 158.13L197.85 160.13L196.25 158.13Z" fill="#aacd86" stroke="#4f703c" stroke-width="0.55"/>
<path d="M201.30 155.40L202.90 157.40L201.30 159.40L199.70 157.40Z" fill="#aacd86" stroke="#4f703c" stroke-width="0.55"/>
<path d="M204.75 154.92L206.35 156.92L204.75 158.92L203.15 156.92Z" fill="#aacd86" stroke="#4f703c" stroke-width="0.55"/>
<path d="M208.20 154.62L209.80 156.62L208.20 158.62L206.60 156.62Z" fill="#aacd86" stroke="#4f703c" stroke-width="0.55"/>
<path d="M211.65 153.79L213.25 155.79L211.65 157.79L210.05 155.79Z" fill="#aacd86" stroke="#4f703c" stroke-width="0.55"/>
<circle cx="21.90" cy="196.92" r="1.6" fill="#5f9f5f" stroke="#2f5c2f" stroke-width="0.55"/>
<circle cx="25.35" cy="195.64" r="1.6" fill="#5f9f5f" stroke="#2f5c2f" stroke-width="0.55"/>
<circle cx="28.80" cy="194.32" r="1.6" fill="#5f9f5f" stroke="#2f5c2f" stroke-width="0.55"/>
<circle cx="32.25" cy="192.32" r="1.6" fill="#5f9f5f" stroke="#2f5c2f" stroke-width="0.55"/>
<circle cx="35.70" cy="191.79" r="1.6" fill="#5f9f5f" stroke="#2f5c2f" stroke-width="0.55"/>
<circle cx="39.15" cy="190.29" r="1.6" fill="#5f9f5f" stroke="#2f5c2f" stroke-width="0.55"/>
<circle cx="42.60" cy="189.01" r="1.6" fill="#5f9f5f" stroke="#2f5c2f" stroke-width="0.55"/>
<circle cx="46.05" cy="187.55" r="1.6" fill="#5f9f5f" stroke="#2f5c2f" stroke-width="0.55"/>
<circle cx="49.50" cy="185.77" r="1.6" fill="#5f9f5f" stroke="#2f5c2f" stroke-width="0.55"/>
<circle cx="52.95" cy="184.40" r="1.6" fill="#5f9f5f" stroke="#2f5c2f" stroke-width="0.55"/>
<circle cx="56.40" cy="182.73" r="1.6" fill="#5f9f5f" stroke="#2f5c2f" stroke-width="0.55"/>
<circle cx="59.85" cy="181.91" r="1.6" fill="#5f9f5f" stroke="#2f5c2f" stroke-width="0.55"/>
<circle cx="63.30" cy="179.99" r="1.6" fill="#5f9f5f" stroke="#2f5c2f" stroke-width="0.55"/>
<circle cx="66.75" cy="178.65" r="1.6" fill="#5f9f5f" stroke="#2f5c2f" stroke-width="0.55"/>
<circle cx="70.20" cy="177.44" r="1.6" fill="#5f9f5f" stroke="#2f5c2f" stroke-width="0.55"/>
<circle cx="73.65" cy="176.05" r="1.6" fill="#5f9f5f" stroke="#2f5c2f" stroke-width="0.55"/>
<circle cx="77.10" cy="174.88" r="1.6" fill="#5f9f5f" stroke="#2f5c2f" stroke-width="0.55"/>
<circle cx="80.55" cy="173.24" r="1.6" fill="#5f9f5f" stroke="#2f5c2f" stroke-width="0.55"/>
<circle cx="84.00" cy="171.84" r="1.6" fill="#5f9f5f" stroke="#2f5c2f" stroke-width="0.55"/>
<circle cx="87.45" cy="170.65" r="1.6" fill="#5f9f5f" stroke="#2f5c2f" stroke-width="0.55"/>
<circle cx="90.90" cy="169.24" r="1.6" fill="#5f9f5f" stroke="#2f5c2f" stroke-width="0.55"/>
<circle cx="94.35" cy="168.11" r="1.6" fill="#5f9f5f" stroke="#2f5c2f" stroke-width="0.55"/>
<circle cx="97.80" cy="166.38" r="1.6" fill="#5f9f5f" stroke="#2f5c2f" stroke-width="0.55"/>
<circle cx="101.25" cy="165.83" r="1.6" fill="#5f9f5f" stroke="#2f5c2f" stroke-width="0.55"/>
<circle cx="104.70" cy="164.18" r="1.6" fill="#5f9f5f" stroke="#2f5c2f" stroke-width="0.55"/>
<circle cx="108.15" cy="162.32" r="1.6" fill="#5f9f5f" stroke="#2f5c2f" stroke-width="0.55"/>
<circle cx="111.60" cy="161.04" r="1.6" fill="#5f9f5f" stroke="#2f5c2f" stroke-width="0.55"/>
<circle cx="115.05" cy="160.16" r="1.6" fill="#5f9f5f" stroke="#2f5c2f" stroke-width="0.55"/>
<circle cx="118.50" cy="159.42" r="1.6" fill="#5f9f5f" stroke="#2f5c2f" stroke-width="0.55"/>
<circle cx="121.95" cy="158.43" r="1.6" fill="#5f9f5f" stroke="#2f5c2f" stroke-width="0.55"/>
<circle cx="125.40" cy="158.40" r="1.6" fill="#5f9f5f" stroke="#2f5c2f" stroke-width="0.55"/>
<circle cx="128.85" cy="157.79" r="1.6" fill="#5f9f5f" stroke="#2f5c2f" stroke-width="0.55"/>
<circle cx="132.30" cy="156.51" r="1.6" fill="#5f9f5f" stroke="#2f5c2f" stroke-width="0.55"/>
<circle cx="135.75" cy="155.78" r="1.6" fill="#5f9f5f" stroke="#2f5c2f" stroke-width="0.55"/>
<circle cx="139.20" cy="154.80" r="1.6" fill="#5f9f5f" stroke="#2f5c2f" stroke-width="0.55"/>
<circle cx="142.65" cy="154.24" r="1.6" fill="#5f9f5f" stroke="#2f5c2f" stroke-width="0.55"/>
<circle cx="146.10" cy="153.90" r="1.6" fill="#5f9f5f" stroke="#2f5c2f" stroke-width="0.55"/>
<circle cx="149.55" cy="153.25" r="1.6" fill="#5f9f5f" stroke="#2f5c2f" stroke-width="0.55"/>
<circle cx="153.00" cy="153.55" r="1.6" fill="#5f9f5f" stroke="#2f5c2f" stroke-width="0.55"/>
<circle cx="156.45" cy="152.62" r="1.6" fill="#5f9f5f" stroke="#2f5c2f" stroke-width="0.55"/>
<circle cx="159.90" cy="151.99" r="1.6" fill="#5f9f5f" stroke="#2f5c2f" stroke-width="0.55"/>
<circle cx="163.35" cy="152.11" r="1.6" fill="#5f9f5f" stroke="#2f5c2f" stroke-width="0.55"/>
<circle cx="166.80" cy="150.88" r="1.6" fill="#5f9f5f" stroke="#2f5c2f" stroke-width="0.55"/>
<circle cx="170.25" cy="149.67" r="1.6" fill="#5f9f5f" stroke="#2f5c2f" stroke-width="0.55"/>
<circle cx="173.70" cy="149.04" r="1.6" fill="#5f9f5f" stroke="#2f5c2f" stroke-width="0.55"/>
<circle cx="177.15" cy="147.49" r="1.6" fill="#5f9f5f" stroke="#2f5c2f" stroke-width="0.55"/>
<circle cx="180.60" cy="146.96" r="1.6" fill="#5f9f5f" stroke="#2f5c2f" stroke-width="0.55"/>
<circle cx="184.05" cy="146.42" r="1.6" fill="#5f9f5f" stroke="#2f5c2f" stroke-width="0.55"/>
<circle cx="187.50" cy="145.73" r="1.6" fill="#5f9f5f" stroke="#2f5c2f" stroke-width="0.55"/>
<circle cx="190.95" cy="144.98" r="1.6" fill="#5f9f5f" stroke="#2f5c2f" stroke-width="0.55"/>
<circle cx="194.40" cy="143.96" r="1.6" fill="#5f9f5f" stroke="#2f5c2f" stroke-width="0.55"/>
<circle cx="197.85" cy="143.55" r="1.6" fill="#5f9f5f" stroke="#2f5c2f" stroke-width="0.55"/>
<circle cx="201.30" cy="143.25" r="1.6" fill="#5f9f5f" stroke="#2f5c2f" stroke-width="0.55"/>
<circle cx="204.75" cy="143.76" r="1.6" fill="#5f9f5f" stroke="#2f5c2f" stroke-width="0.55"/>
<circle cx="208.20" cy="143.42" r="1.6" fill="#5f9f5f" stroke="#2f5c2f" stroke-width="0.55"/>
<circle cx="211.65" cy="143.58" r="1.6" fill="#5f9f5f" stroke="#2f5c2f" stroke-width="0.55"/>
<line x1="49.00" y1="140.40" x2="59.10" y2="140.40" stroke="#333" stroke-width="0.8"/>
<circle cx="53.80" cy="140.40" r="1.8" fill="#5c9e5c" stroke="#3a6a3a" stroke-width="0.5"/>
<text x="59.80" y="142.40" font-size="8.37" text-anchor="start" fill="#222" font-weight="normal" font-style="normal" textLength="86.7" lengthAdjust="spacingAndGlyphs" stroke="#222" stroke-width="0.1">no light (unperturbed)</text>
<line x1="49.00" y1="148.10" x2="59.10" y2="148.10" stroke="#333" stroke-width="0.8"/>
<path d="M53.80 146.00L55.48 148.10L53.80 150.20L52.12 148.10Z" fill="#b9d89a" stroke="#6f8f5a" stroke-width="0.5"/>
<text x="59.80" y="150.10" font-size="8.37" text-anchor="start" fill="#222" font-weight="normal" font-style="normal" textLength="48.6" lengthAdjust="spacingAndGlyphs" stroke="#222" stroke-width="0.1">low intensity</text>
<line x1="49.00" y1="155.70" x2="59.10" y2="155.70" stroke="#333" stroke-width="0.8"/>
<path d="M53.80 153.90L55.60 157.05L52.00 157.05Z" fill="#eef5e0" stroke="#8aa878" stroke-width="0.5"/>
<text x="59.80" y="158.10" font-size="8.37" text-anchor="start" fill="#222" font-weight="normal" font-style="normal" textLength="51.8" lengthAdjust="spacingAndGlyphs" stroke="#222" stroke-width="0.1">high intensity</text>
<text x="36.20" y="153.00" font-size="10" text-anchor="middle" fill="#5b87c9" font-weight="bold" font-style="normal" textLength="17.8" lengthAdjust="spacingAndGlyphs" stroke="#5b87c9" stroke-width="0.1">blue</text>
<text x="36.60" y="162.70" font-size="10" text-anchor="middle" fill="#5b87c9" font-weight="bold" font-style="normal" textLength="18.6" lengthAdjust="spacingAndGlyphs" stroke="#5b87c9" stroke-width="0.1">light</text>
<polyline points="37.00,167.00 37.06,168.66 39.33,168.77 38.64,170.95 40.92,171.06 40.23,173.23 42.51,173.35 42.56,175.01" fill="none" stroke="#5b87c9" stroke-width="2.1" stroke-linejoin="round"/>
<path d="M46.10 180.10L40.02 176.78L45.11 173.24Z" fill="#5b87c9"/>
<polyline points="46.10,165.00 46.16,166.66 48.43,166.77 47.74,168.95 50.02,169.06 49.33,171.23 51.61,171.35 51.66,173.01" fill="none" stroke="#5b87c9" stroke-width="2.1" stroke-linejoin="round"/>
<path d="M55.20 178.10L49.12 174.78L54.21 171.24Z" fill="#5b87c9"/>
<line x1="21.50" y1="244.00" x2="21.50" y2="306.30" stroke="#666" stroke-width="1"/>
<line x1="21.50" y1="306.10" x2="211.80" y2="306.10" stroke="#666" stroke-width="1"/>
<line x1="21.50" y1="305.80" x2="23.00" y2="305.80" stroke="#666" stroke-width="0.8"/>
<text x="20.20" y="309.00" font-size="9" text-anchor="end" fill="#474747" font-weight="normal" font-style="normal" stroke="#474747" stroke-width="0.1">0</text>
<line x1="21.50" y1="291.52" x2="23.00" y2="291.52" stroke="#666" stroke-width="0.8"/>
<text x="20.20" y="294.72" font-size="9" text-anchor="end" fill="#474747" font-weight="normal" font-style="normal" stroke="#474747" stroke-width="0.1">4</text>
<line x1="21.50" y1="277.24" x2="23.00" y2="277.24" stroke="#666" stroke-width="0.8"/>
<text x="20.20" y="280.44" font-size="9" text-anchor="end" fill="#474747" font-weight="normal" font-style="normal" stroke="#474747" stroke-width="0.1">8</text>
<line x1="21.50" y1="262.96" x2="23.00" y2="262.96" stroke="#666" stroke-width="0.8"/>
<text x="20.20" y="266.16" font-size="9" text-anchor="end" fill="#474747" font-weight="normal" font-style="normal" stroke="#474747" stroke-width="0.1">12</text>
<line x1="21.50" y1="248.68" x2="23.00" y2="248.68" stroke="#666" stroke-width="0.8"/>
<text x="20.20" y="251.88" font-size="9" text-anchor="end" fill="#474747" font-weight="normal" font-style="normal" stroke="#474747" stroke-width="0.1">16</text>
<line x1="21.80" y1="306.10" x2="21.80" y2="304.50" stroke="#666" stroke-width="0.8"/>
<text x="21.80" y="316.70" font-size="9.3" text-anchor="middle" fill="#474747" font-weight="normal" font-style="normal" stroke="#474747" stroke-width="0.1">8</text>
<line x1="39.09" y1="306.10" x2="39.09" y2="304.50" stroke="#666" stroke-width="0.8"/>
<text x="39.09" y="316.70" font-size="9.3" text-anchor="middle" fill="#474747" font-weight="normal" font-style="normal" stroke="#474747" stroke-width="0.1">10</text>
<line x1="56.38" y1="306.10" x2="56.38" y2="304.50" stroke="#666" stroke-width="0.8"/>
<text x="56.38" y="316.70" font-size="9.3" text-anchor="middle" fill="#474747" font-weight="normal" font-style="normal" stroke="#474747" stroke-width="0.1">12</text>
<line x1="73.67" y1="306.10" x2="73.67" y2="304.50" stroke="#666" stroke-width="0.8"/>
<text x="73.67" y="316.70" font-size="9.3" text-anchor="middle" fill="#474747" font-weight="normal" font-style="normal" stroke="#474747" stroke-width="0.1">14</text>
<line x1="90.96" y1="306.10" x2="90.96" y2="304.50" stroke="#666" stroke-width="0.8"/>
<text x="90.96" y="316.70" font-size="9.3" text-anchor="middle" fill="#474747" font-weight="normal" font-style="normal" stroke="#474747" stroke-width="0.1">16</text>
<line x1="108.25" y1="306.10" x2="108.25" y2="304.50" stroke="#666" stroke-width="0.8"/>
<text x="108.25" y="316.70" font-size="9.3" text-anchor="middle" fill="#474747" font-weight="normal" font-style="normal" stroke="#474747" stroke-width="0.1">18</text>
<line x1="125.54" y1="306.10" x2="125.54" y2="304.50" stroke="#666" stroke-width="0.8"/>
<text x="125.54" y="316.70" font-size="9.3" text-anchor="middle" fill="#474747" font-weight="normal" font-style="normal" stroke="#474747" stroke-width="0.1">20</text>
<line x1="142.83" y1="306.10" x2="142.83" y2="304.50" stroke="#666" stroke-width="0.8"/>
<text x="142.83" y="316.70" font-size="9.3" text-anchor="middle" fill="#474747" font-weight="normal" font-style="normal" stroke="#474747" stroke-width="0.1">22</text>
<line x1="160.12" y1="306.10" x2="160.12" y2="304.50" stroke="#666" stroke-width="0.8"/>
<text x="160.12" y="316.70" font-size="9.3" text-anchor="middle" fill="#474747" font-weight="normal" font-style="normal" stroke="#474747" stroke-width="0.1">24</text>
<line x1="177.41" y1="306.10" x2="177.41" y2="304.50" stroke="#666" stroke-width="0.8"/>
<text x="177.41" y="316.70" font-size="9.3" text-anchor="middle" fill="#474747" font-weight="normal" font-style="normal" stroke="#474747" stroke-width="0.1">26</text>
<line x1="194.70" y1="306.10" x2="194.70" y2="304.50" stroke="#666" stroke-width="0.8"/>
<text x="194.70" y="316.70" font-size="9.3" text-anchor="middle" fill="#474747" font-weight="normal" font-style="normal" stroke="#474747" stroke-width="0.1">28</text>
<line x1="211.99" y1="306.10" x2="211.99" y2="304.50" stroke="#666" stroke-width="0.8"/>
<text x="211.99" y="316.70" font-size="9.3" text-anchor="middle" fill="#474747" font-weight="normal" font-style="normal" stroke="#474747" stroke-width="0.1">30</text>
<text x="121.00" y="326.00" font-size="9.3" text-anchor="middle" fill="#3a3a3a" font-weight="normal" font-style="normal" textLength="46" lengthAdjust="spacingAndGlyphs" stroke="#3a3a3a" stroke-width="0.1">time (min)</text>
<text x="8.00" y="274.60" font-size="9.3" text-anchor="middle" fill="#3a3a3a" font-weight="normal" font-style="normal" transform="rotate(-90 8.00 274.60)" textLength="99.5" lengthAdjust="spacingAndGlyphs" stroke="#3a3a3a" stroke-width="0.1">transcription rate (au)</text>
<line x1="22.10" y1="254.78" x2="22.10" y2="266.78" stroke="#e4e4e4" stroke-width="0.7"/>
<line x1="22.10" y1="256.58" x2="22.10" y2="264.98" stroke="#a0a0a0" stroke-width="0.5"/>
<line x1="25.00" y1="255.25" x2="25.00" y2="267.25" stroke="#e4e4e4" stroke-width="0.7"/>
<line x1="25.00" y1="257.05" x2="25.00" y2="265.45" stroke="#a0a0a0" stroke-width="0.5"/>
<line x1="27.90" y1="256.21" x2="27.90" y2="268.21" stroke="#e4e4e4" stroke-width="0.7"/>
<line x1="27.90" y1="258.01" x2="27.90" y2="266.41" stroke="#a0a0a0" stroke-width="0.5"/>
<line x1="30.80" y1="256.87" x2="30.80" y2="268.87" stroke="#e4e4e4" stroke-width="0.7"/>
<line x1="30.80" y1="258.67" x2="30.80" y2="267.07" stroke="#a0a0a0" stroke-width="0.5"/>
<line x1="33.70" y1="257.32" x2="33.70" y2="269.32" stroke="#e4e4e4" stroke-width="0.7"/>
<line x1="33.70" y1="259.12" x2="33.70" y2="267.52" stroke="#a0a0a0" stroke-width="0.5"/>
<line x1="36.60" y1="257.83" x2="36.60" y2="269.83" stroke="#e4e4e4" stroke-width="0.7"/>
<line x1="36.60" y1="259.63" x2="36.60" y2="268.03" stroke="#a0a0a0" stroke-width="0.5"/>
<line x1="39.50" y1="258.39" x2="39.50" y2="270.39" stroke="#e4e4e4" stroke-width="0.7"/>
<line x1="39.50" y1="260.19" x2="39.50" y2="268.59" stroke="#a0a0a0" stroke-width="0.5"/>
<line x1="42.40" y1="258.87" x2="42.40" y2="270.87" stroke="#e4e4e4" stroke-width="0.7"/>
<line x1="42.40" y1="260.67" x2="42.40" y2="269.07" stroke="#a0a0a0" stroke-width="0.5"/>
<line x1="45.30" y1="259.06" x2="45.30" y2="271.06" stroke="#e4e4e4" stroke-width="0.7"/>
<line x1="45.30" y1="260.86" x2="45.30" y2="269.26" stroke="#a0a0a0" stroke-width="0.5"/>
<line x1="48.20" y1="259.80" x2="48.20" y2="271.80" stroke="#e4e4e4" stroke-width="0.7"/>
<line x1="48.20" y1="261.60" x2="48.20" y2="270.00" stroke="#a0a0a0" stroke-width="0.5"/>
<line x1="51.10" y1="260.23" x2="51.10" y2="272.23" stroke="#e4e4e4" stroke-width="0.7"/>
<line x1="51.10" y1="262.03" x2="51.10" y2="270.43" stroke="#a0a0a0" stroke-width="0.5"/>
<line x1="54.00" y1="260.55" x2="54.00" y2="272.55" stroke="#e4e4e4" stroke-width="0.7"/>
<line x1="54.00" y1="262.35" x2="54.00" y2="270.75" stroke="#a0a0a0" stroke-width="0.5"/>
<line x1="56.90" y1="261.09" x2="56.90" y2="273.09" stroke="#e4e4e4" stroke-width="0.7"/>
<line x1="56.90" y1="262.89" x2="56.90" y2="271.29" stroke="#a0a0a0" stroke-width="0.5"/>
<line x1="59.80" y1="261.55" x2="59.80" y2="273.55" stroke="#e4e4e4" stroke-width="0.7"/>
<line x1="59.80" y1="263.35" x2="59.80" y2="271.75" stroke="#a0a0a0" stroke-width="0.5"/>
<line x1="62.70" y1="261.53" x2="62.70" y2="273.53" stroke="#e4e4e4" stroke-width="0.7"/>
<line x1="62.70" y1="263.33" x2="62.70" y2="271.73" stroke="#a0a0a0" stroke-width="0.5"/>
<line x1="65.60" y1="261.83" x2="65.60" y2="273.83" stroke="#e4e4e4" stroke-width="0.7"/>
<line x1="65.60" y1="263.63" x2="65.60" y2="272.03" stroke="#a0a0a0" stroke-width="0.5"/>
<line x1="68.50" y1="262.02" x2="68.50" y2="274.02" stroke="#e4e4e4" stroke-width="0.7"/>
<line x1="68.50" y1="263.82" x2="68.50" y2="272.22" stroke="#a0a0a0" stroke-width="0.5"/>
<line x1="71.40" y1="260.18" x2="71.40" y2="272.18" stroke="#e4e4e4" stroke-width="0.7"/>
<line x1="71.40" y1="261.98" x2="71.40" y2="270.38" stroke="#a0a0a0" stroke-width="0.5"/>
<line x1="74.30" y1="258.74" x2="74.30" y2="270.74" stroke="#e4e4e4" stroke-width="0.7"/>
<line x1="74.30" y1="260.54" x2="74.30" y2="268.94" stroke="#a0a0a0" stroke-width="0.5"/>
<line x1="77.20" y1="256.99" x2="77.20" y2="268.99" stroke="#e4e4e4" stroke-width="0.7"/>
<line x1="77.20" y1="258.79" x2="77.20" y2="267.19" stroke="#a0a0a0" stroke-width="0.5"/>
<line x1="80.10" y1="253.89" x2="80.10" y2="265.89" stroke="#e4e4e4" stroke-width="0.7"/>
<line x1="80.10" y1="255.69" x2="80.10" y2="264.09" stroke="#a0a0a0" stroke-width="0.5"/>
<line x1="83.00" y1="250.21" x2="83.00" y2="262.21" stroke="#e4e4e4" stroke-width="0.7"/>
<line x1="83.00" y1="252.01" x2="83.00" y2="260.41" stroke="#a0a0a0" stroke-width="0.5"/>
<line x1="85.90" y1="246.83" x2="85.90" y2="258.83" stroke="#e4e4e4" stroke-width="0.7"/>
<line x1="85.90" y1="248.63" x2="85.90" y2="257.03" stroke="#a0a0a0" stroke-width="0.5"/>
<line x1="88.80" y1="245.78" x2="88.80" y2="257.78" stroke="#e4e4e4" stroke-width="0.7"/>
<line x1="88.80" y1="247.58" x2="88.80" y2="255.98" stroke="#a0a0a0" stroke-width="0.5"/>
<line x1="91.70" y1="244.87" x2="91.70" y2="256.87" stroke="#e4e4e4" stroke-width="0.7"/>
<line x1="91.70" y1="246.67" x2="91.70" y2="255.07" stroke="#a0a0a0" stroke-width="0.5"/>
<line x1="94.60" y1="243.99" x2="94.60" y2="255.99" stroke="#e4e4e4" stroke-width="0.7"/>
<line x1="94.60" y1="245.79" x2="94.60" y2="254.19" stroke="#a0a0a0" stroke-width="0.5"/>
<line x1="97.50" y1="244.12" x2="97.50" y2="256.12" stroke="#e4e4e4" stroke-width="0.7"/>
<line x1="97.50" y1="245.92" x2="97.50" y2="254.32" stroke="#a0a0a0" stroke-width="0.5"/>
<line x1="100.40" y1="244.15" x2="100.40" y2="256.15" stroke="#e4e4e4" stroke-width="0.7"/>
<line x1="100.40" y1="245.95" x2="100.40" y2="254.35" stroke="#a0a0a0" stroke-width="0.5"/>
<line x1="103.30" y1="243.95" x2="103.30" y2="255.95" stroke="#e4e4e4" stroke-width="0.7"/>
<line x1="103.30" y1="245.75" x2="103.30" y2="254.15" stroke="#a0a0a0" stroke-width="0.5"/>
<line x1="106.20" y1="243.76" x2="106.20" y2="255.76" stroke="#e4e4e4" stroke-width="0.7"/>
<line x1="106.20" y1="245.56" x2="106.20" y2="253.96" stroke="#a0a0a0" stroke-width="0.5"/>
<line x1="109.10" y1="244.45" x2="109.10" y2="256.45" stroke="#e4e4e4" stroke-width="0.7"/>
<line x1="109.10" y1="246.25" x2="109.10" y2="254.65" stroke="#a0a0a0" stroke-width="0.5"/>
<line x1="112.00" y1="245.12" x2="112.00" y2="257.12" stroke="#e4e4e4" stroke-width="0.7"/>
<line x1="112.00" y1="246.92" x2="112.00" y2="255.32" stroke="#a0a0a0" stroke-width="0.5"/>
<line x1="114.90" y1="245.19" x2="114.90" y2="257.19" stroke="#e4e4e4" stroke-width="0.7"/>
<line x1="114.90" y1="246.99" x2="114.90" y2="255.39" stroke="#a0a0a0" stroke-width="0.5"/>
<line x1="117.80" y1="245.81" x2="117.80" y2="257.81" stroke="#e4e4e4" stroke-width="0.7"/>
<line x1="117.80" y1="247.61" x2="117.80" y2="256.01" stroke="#a0a0a0" stroke-width="0.5"/>
<line x1="120.70" y1="245.99" x2="120.70" y2="257.99" stroke="#e4e4e4" stroke-width="0.7"/>
<line x1="120.70" y1="247.79" x2="120.70" y2="256.19" stroke="#a0a0a0" stroke-width="0.5"/>
<line x1="123.60" y1="245.93" x2="123.60" y2="257.93" stroke="#e4e4e4" stroke-width="0.7"/>
<line x1="123.60" y1="247.73" x2="123.60" y2="256.13" stroke="#a0a0a0" stroke-width="0.5"/>
<line x1="126.50" y1="246.01" x2="126.50" y2="258.01" stroke="#e4e4e4" stroke-width="0.7"/>
<line x1="126.50" y1="247.81" x2="126.50" y2="256.21" stroke="#a0a0a0" stroke-width="0.5"/>
<line x1="129.40" y1="245.93" x2="129.40" y2="257.93" stroke="#e4e4e4" stroke-width="0.7"/>
<line x1="129.40" y1="247.73" x2="129.40" y2="256.13" stroke="#a0a0a0" stroke-width="0.5"/>
<line x1="132.30" y1="245.82" x2="132.30" y2="257.82" stroke="#e4e4e4" stroke-width="0.7"/>
<line x1="132.30" y1="247.62" x2="132.30" y2="256.02" stroke="#a0a0a0" stroke-width="0.5"/>
<line x1="135.20" y1="246.35" x2="135.20" y2="258.35" stroke="#e4e4e4" stroke-width="0.7"/>
<line x1="135.20" y1="248.15" x2="135.20" y2="256.55" stroke="#a0a0a0" stroke-width="0.5"/>
<line x1="138.10" y1="246.14" x2="138.10" y2="258.14" stroke="#e4e4e4" stroke-width="0.7"/>
<line x1="138.10" y1="247.94" x2="138.10" y2="256.34" stroke="#a0a0a0" stroke-width="0.5"/>
<line x1="141.00" y1="246.57" x2="141.00" y2="258.57" stroke="#e4e4e4" stroke-width="0.7"/>
<line x1="141.00" y1="248.37" x2="141.00" y2="256.77" stroke="#a0a0a0" stroke-width="0.5"/>
<line x1="143.90" y1="246.98" x2="143.90" y2="258.98" stroke="#e4e4e4" stroke-width="0.7"/>
<line x1="143.90" y1="248.78" x2="143.90" y2="257.18" stroke="#a0a0a0" stroke-width="0.5"/>
<line x1="146.80" y1="246.95" x2="146.80" y2="258.95" stroke="#e4e4e4" stroke-width="0.7"/>
<line x1="146.80" y1="248.75" x2="146.80" y2="257.15" stroke="#a0a0a0" stroke-width="0.5"/>
<line x1="149.70" y1="247.33" x2="149.70" y2="259.33" stroke="#e4e4e4" stroke-width="0.7"/>
<line x1="149.70" y1="249.13" x2="149.70" y2="257.53" stroke="#a0a0a0" stroke-width="0.5"/>
<line x1="152.60" y1="248.09" x2="152.60" y2="260.09" stroke="#e4e4e4" stroke-width="0.7"/>
<line x1="152.60" y1="249.89" x2="152.60" y2="258.29" stroke="#a0a0a0" stroke-width="0.5"/>
<line x1="155.50" y1="248.32" x2="155.50" y2="260.32" stroke="#e4e4e4" stroke-width="0.7"/>
<line x1="155.50" y1="250.12" x2="155.50" y2="258.52" stroke="#a0a0a0" stroke-width="0.5"/>
<line x1="158.40" y1="248.30" x2="158.40" y2="260.30" stroke="#e4e4e4" stroke-width="0.7"/>
<line x1="158.40" y1="250.10" x2="158.40" y2="258.50" stroke="#a0a0a0" stroke-width="0.5"/>
<line x1="161.30" y1="248.66" x2="161.30" y2="260.66" stroke="#e4e4e4" stroke-width="0.7"/>
<line x1="161.30" y1="250.46" x2="161.30" y2="258.86" stroke="#a0a0a0" stroke-width="0.5"/>
<line x1="164.20" y1="249.41" x2="164.20" y2="261.41" stroke="#e4e4e4" stroke-width="0.7"/>
<line x1="164.20" y1="251.21" x2="164.20" y2="259.61" stroke="#a0a0a0" stroke-width="0.5"/>
<line x1="167.10" y1="250.66" x2="167.10" y2="262.66" stroke="#e4e4e4" stroke-width="0.7"/>
<line x1="167.10" y1="252.46" x2="167.10" y2="260.86" stroke="#a0a0a0" stroke-width="0.5"/>
<line x1="170.00" y1="251.31" x2="170.00" y2="263.31" stroke="#e4e4e4" stroke-width="0.7"/>
<line x1="170.00" y1="253.11" x2="170.00" y2="261.51" stroke="#a0a0a0" stroke-width="0.5"/>
<line x1="172.90" y1="251.58" x2="172.90" y2="263.58" stroke="#e4e4e4" stroke-width="0.7"/>
<line x1="172.90" y1="253.38" x2="172.90" y2="261.78" stroke="#a0a0a0" stroke-width="0.5"/>
<line x1="175.80" y1="252.78" x2="175.80" y2="264.78" stroke="#e4e4e4" stroke-width="0.7"/>
<line x1="175.80" y1="254.58" x2="175.80" y2="262.98" stroke="#a0a0a0" stroke-width="0.5"/>
<line x1="178.70" y1="253.62" x2="178.70" y2="265.62" stroke="#e4e4e4" stroke-width="0.7"/>
<line x1="178.70" y1="255.42" x2="178.70" y2="263.82" stroke="#a0a0a0" stroke-width="0.5"/>
<line x1="181.60" y1="254.12" x2="181.60" y2="266.12" stroke="#e4e4e4" stroke-width="0.7"/>
<line x1="181.60" y1="255.92" x2="181.60" y2="264.32" stroke="#a0a0a0" stroke-width="0.5"/>
<line x1="184.50" y1="254.64" x2="184.50" y2="266.64" stroke="#e4e4e4" stroke-width="0.7"/>
<line x1="184.50" y1="256.44" x2="184.50" y2="264.84" stroke="#a0a0a0" stroke-width="0.5"/>
<line x1="187.40" y1="255.50" x2="187.40" y2="267.50" stroke="#e4e4e4" stroke-width="0.7"/>
<line x1="187.40" y1="257.30" x2="187.40" y2="265.70" stroke="#a0a0a0" stroke-width="0.5"/>
<line x1="190.30" y1="255.94" x2="190.30" y2="267.94" stroke="#e4e4e4" stroke-width="0.7"/>
<line x1="190.30" y1="257.74" x2="190.30" y2="266.14" stroke="#a0a0a0" stroke-width="0.5"/>
<line x1="193.20" y1="256.64" x2="193.20" y2="268.64" stroke="#e4e4e4" stroke-width="0.7"/>
<line x1="193.20" y1="258.44" x2="193.20" y2="266.84" stroke="#a0a0a0" stroke-width="0.5"/>
<line x1="196.10" y1="258.11" x2="196.10" y2="270.11" stroke="#e4e4e4" stroke-width="0.7"/>
<line x1="196.10" y1="259.91" x2="196.10" y2="268.31" stroke="#a0a0a0" stroke-width="0.5"/>
<line x1="199.00" y1="258.69" x2="199.00" y2="270.69" stroke="#e4e4e4" stroke-width="0.7"/>
<line x1="199.00" y1="260.49" x2="199.00" y2="268.89" stroke="#a0a0a0" stroke-width="0.5"/>
<line x1="201.90" y1="259.40" x2="201.90" y2="271.40" stroke="#e4e4e4" stroke-width="0.7"/>
<line x1="201.90" y1="261.20" x2="201.90" y2="269.60" stroke="#a0a0a0" stroke-width="0.5"/>
<line x1="204.80" y1="260.49" x2="204.80" y2="272.49" stroke="#e4e4e4" stroke-width="0.7"/>
<line x1="204.80" y1="262.29" x2="204.80" y2="270.69" stroke="#a0a0a0" stroke-width="0.5"/>
<line x1="207.70" y1="260.94" x2="207.70" y2="272.94" stroke="#e4e4e4" stroke-width="0.7"/>
<line x1="207.70" y1="262.74" x2="207.70" y2="271.14" stroke="#a0a0a0" stroke-width="0.5"/>
<line x1="210.60" y1="261.96" x2="210.60" y2="273.96" stroke="#e4e4e4" stroke-width="0.7"/>
<line x1="210.60" y1="263.76" x2="210.60" y2="272.16" stroke="#a0a0a0" stroke-width="0.5"/>
<line x1="22.10" y1="253.43" x2="22.10" y2="265.43" stroke="#e4e4e4" stroke-width="0.7"/>
<line x1="22.10" y1="255.23" x2="22.10" y2="263.63" stroke="#a0a0a0" stroke-width="0.5"/>
<line x1="25.00" y1="252.94" x2="25.00" y2="264.94" stroke="#e4e4e4" stroke-width="0.7"/>
<line x1="25.00" y1="254.74" x2="25.00" y2="263.14" stroke="#a0a0a0" stroke-width="0.5"/>
<line x1="27.90" y1="252.91" x2="27.90" y2="264.91" stroke="#e4e4e4" stroke-width="0.7"/>
<line x1="27.90" y1="254.71" x2="27.90" y2="263.11" stroke="#a0a0a0" stroke-width="0.5"/>
<line x1="30.80" y1="252.87" x2="30.80" y2="264.87" stroke="#e4e4e4" stroke-width="0.7"/>
<line x1="30.80" y1="254.67" x2="30.80" y2="263.07" stroke="#a0a0a0" stroke-width="0.5"/>
<line x1="33.70" y1="252.78" x2="33.70" y2="264.78" stroke="#e4e4e4" stroke-width="0.7"/>
<line x1="33.70" y1="254.58" x2="33.70" y2="262.98" stroke="#a0a0a0" stroke-width="0.5"/>
<line x1="36.60" y1="252.96" x2="36.60" y2="264.96" stroke="#e4e4e4" stroke-width="0.7"/>
<line x1="36.60" y1="254.76" x2="36.60" y2="263.16" stroke="#a0a0a0" stroke-width="0.5"/>
<line x1="39.50" y1="252.67" x2="39.50" y2="264.67" stroke="#e4e4e4" stroke-width="0.7"/>
<line x1="39.50" y1="254.47" x2="39.50" y2="262.87" stroke="#a0a0a0" stroke-width="0.5"/>
<line x1="42.40" y1="252.78" x2="42.40" y2="264.78" stroke="#e4e4e4" stroke-width="0.7"/>
<line x1="42.40" y1="254.58" x2="42.40" y2="262.98" stroke="#a0a0a0" stroke-width="0.5"/>
<line x1="45.30" y1="252.69" x2="45.30" y2="264.69" stroke="#e4e4e4" stroke-width="0.7"/>
<line x1="45.30" y1="254.49" x2="45.30" y2="262.89" stroke="#a0a0a0" stroke-width="0.5"/>
<line x1="48.20" y1="253.35" x2="48.20" y2="265.35" stroke="#e4e4e4" stroke-width="0.7"/>
<line x1="48.20" y1="255.15" x2="48.20" y2="263.55" stroke="#a0a0a0" stroke-width="0.5"/>
<line x1="51.10" y1="253.07" x2="51.10" y2="265.07" stroke="#e4e4e4" stroke-width="0.7"/>
<line x1="51.10" y1="254.87" x2="51.10" y2="263.27" stroke="#a0a0a0" stroke-width="0.5"/>
<line x1="54.00" y1="253.25" x2="54.00" y2="265.25" stroke="#e4e4e4" stroke-width="0.7"/>
<line x1="54.00" y1="255.05" x2="54.00" y2="263.45" stroke="#a0a0a0" stroke-width="0.5"/>
<line x1="56.90" y1="253.44" x2="56.90" y2="265.44" stroke="#e4e4e4" stroke-width="0.7"/>
<line x1="56.90" y1="255.24" x2="56.90" y2="263.64" stroke="#a0a0a0" stroke-width="0.5"/>
<line x1="59.80" y1="253.78" x2="59.80" y2="265.78" stroke="#e4e4e4" stroke-width="0.7"/>
<line x1="59.80" y1="255.58" x2="59.80" y2="263.98" stroke="#a0a0a0" stroke-width="0.5"/>
<line x1="62.70" y1="253.55" x2="62.70" y2="265.55" stroke="#e4e4e4" stroke-width="0.7"/>
<line x1="62.70" y1="255.35" x2="62.70" y2="263.75" stroke="#a0a0a0" stroke-width="0.5"/>
<line x1="65.60" y1="254.06" x2="65.60" y2="266.06" stroke="#e4e4e4" stroke-width="0.7"/>
<line x1="65.60" y1="255.86" x2="65.60" y2="264.26" stroke="#a0a0a0" stroke-width="0.5"/>
<line x1="68.50" y1="253.92" x2="68.50" y2="265.92" stroke="#e4e4e4" stroke-width="0.7"/>
<line x1="68.50" y1="255.72" x2="68.50" y2="264.12" stroke="#a0a0a0" stroke-width="0.5"/>
<line x1="71.40" y1="254.10" x2="71.40" y2="266.10" stroke="#e4e4e4" stroke-width="0.7"/>
<line x1="71.40" y1="255.90" x2="71.40" y2="264.30" stroke="#a0a0a0" stroke-width="0.5"/>
<line x1="74.30" y1="254.26" x2="74.30" y2="266.26" stroke="#e4e4e4" stroke-width="0.7"/>
<line x1="74.30" y1="256.06" x2="74.30" y2="264.46" stroke="#a0a0a0" stroke-width="0.5"/>
<line x1="77.20" y1="254.84" x2="77.20" y2="266.84" stroke="#e4e4e4" stroke-width="0.7"/>
<line x1="77.20" y1="256.64" x2="77.20" y2="265.04" stroke="#a0a0a0" stroke-width="0.5"/>
<line x1="80.10" y1="256.55" x2="80.10" y2="268.55" stroke="#e4e4e4" stroke-width="0.7"/>
<line x1="80.10" y1="258.35" x2="80.10" y2="266.75" stroke="#a0a0a0" stroke-width="0.5"/>
<line x1="83.00" y1="257.79" x2="83.00" y2="269.79" stroke="#e4e4e4" stroke-width="0.7"/>
<line x1="83.00" y1="259.59" x2="83.00" y2="267.99" stroke="#a0a0a0" stroke-width="0.5"/>
<line x1="85.90" y1="259.36" x2="85.90" y2="271.36" stroke="#e4e4e4" stroke-width="0.7"/>
<line x1="85.90" y1="261.16" x2="85.90" y2="269.56" stroke="#a0a0a0" stroke-width="0.5"/>
<line x1="88.80" y1="261.76" x2="88.80" y2="273.76" stroke="#e4e4e4" stroke-width="0.7"/>
<line x1="88.80" y1="263.56" x2="88.80" y2="271.96" stroke="#a0a0a0" stroke-width="0.5"/>
<line x1="91.70" y1="263.16" x2="91.70" y2="275.16" stroke="#e4e4e4" stroke-width="0.7"/>
<line x1="91.70" y1="264.96" x2="91.70" y2="273.36" stroke="#a0a0a0" stroke-width="0.5"/>
<line x1="94.60" y1="264.50" x2="94.60" y2="276.50" stroke="#e4e4e4" stroke-width="0.7"/>
<line x1="94.60" y1="266.30" x2="94.60" y2="274.70" stroke="#a0a0a0" stroke-width="0.5"/>
<line x1="97.50" y1="265.53" x2="97.50" y2="277.53" stroke="#e4e4e4" stroke-width="0.7"/>
<line x1="97.50" y1="267.33" x2="97.50" y2="275.73" stroke="#a0a0a0" stroke-width="0.5"/>
<line x1="100.40" y1="266.26" x2="100.40" y2="278.26" stroke="#e4e4e4" stroke-width="0.7"/>
<line x1="100.40" y1="268.06" x2="100.40" y2="276.46" stroke="#a0a0a0" stroke-width="0.5"/>
<line x1="103.30" y1="266.71" x2="103.30" y2="278.71" stroke="#e4e4e4" stroke-width="0.7"/>
<line x1="103.30" y1="268.51" x2="103.30" y2="276.91" stroke="#a0a0a0" stroke-width="0.5"/>
<line x1="106.20" y1="267.40" x2="106.20" y2="279.40" stroke="#e4e4e4" stroke-width="0.7"/>
<line x1="106.20" y1="269.20" x2="106.20" y2="277.60" stroke="#a0a0a0" stroke-width="0.5"/>
<line x1="109.10" y1="267.97" x2="109.10" y2="279.97" stroke="#e4e4e4" stroke-width="0.7"/>
<line x1="109.10" y1="269.77" x2="109.10" y2="278.17" stroke="#a0a0a0" stroke-width="0.5"/>
<line x1="112.00" y1="268.06" x2="112.00" y2="280.06" stroke="#e4e4e4" stroke-width="0.7"/>
<line x1="112.00" y1="269.86" x2="112.00" y2="278.26" stroke="#a0a0a0" stroke-width="0.5"/>
<line x1="114.90" y1="267.25" x2="114.90" y2="279.25" stroke="#e4e4e4" stroke-width="0.7"/>
<line x1="114.90" y1="269.05" x2="114.90" y2="277.45" stroke="#a0a0a0" stroke-width="0.5"/>
<line x1="117.80" y1="267.22" x2="117.80" y2="279.22" stroke="#e4e4e4" stroke-width="0.7"/>
<line x1="117.80" y1="269.02" x2="117.80" y2="277.42" stroke="#a0a0a0" stroke-width="0.5"/>
<line x1="120.70" y1="267.46" x2="120.70" y2="279.46" stroke="#e4e4e4" stroke-width="0.7"/>
<line x1="120.70" y1="269.26" x2="120.70" y2="277.66" stroke="#a0a0a0" stroke-width="0.5"/>
<line x1="123.60" y1="268.19" x2="123.60" y2="280.19" stroke="#e4e4e4" stroke-width="0.7"/>
<line x1="123.60" y1="269.99" x2="123.60" y2="278.39" stroke="#a0a0a0" stroke-width="0.5"/>
<line x1="126.50" y1="269.24" x2="126.50" y2="281.24" stroke="#e4e4e4" stroke-width="0.7"/>
<line x1="126.50" y1="271.04" x2="126.50" y2="279.44" stroke="#a0a0a0" stroke-width="0.5"/>
<line x1="129.40" y1="270.59" x2="129.40" y2="282.59" stroke="#e4e4e4" stroke-width="0.7"/>
<line x1="129.40" y1="272.39" x2="129.40" y2="280.79" stroke="#a0a0a0" stroke-width="0.5"/>
<line x1="132.30" y1="272.38" x2="132.30" y2="284.38" stroke="#e4e4e4" stroke-width="0.7"/>
<line x1="132.30" y1="274.18" x2="132.30" y2="282.58" stroke="#a0a0a0" stroke-width="0.5"/>
<line x1="135.20" y1="274.27" x2="135.20" y2="286.27" stroke="#e4e4e4" stroke-width="0.7"/>
<line x1="135.20" y1="276.07" x2="135.20" y2="284.47" stroke="#a0a0a0" stroke-width="0.5"/>
<line x1="138.10" y1="276.06" x2="138.10" y2="288.06" stroke="#e4e4e4" stroke-width="0.7"/>
<line x1="138.10" y1="277.86" x2="138.10" y2="286.26" stroke="#a0a0a0" stroke-width="0.5"/>
<line x1="141.00" y1="276.94" x2="141.00" y2="288.94" stroke="#e4e4e4" stroke-width="0.7"/>
<line x1="141.00" y1="278.74" x2="141.00" y2="287.14" stroke="#a0a0a0" stroke-width="0.5"/>
<line x1="143.90" y1="278.27" x2="143.90" y2="290.27" stroke="#e4e4e4" stroke-width="0.7"/>
<line x1="143.90" y1="280.07" x2="143.90" y2="288.47" stroke="#a0a0a0" stroke-width="0.5"/>
<line x1="146.80" y1="279.22" x2="146.80" y2="291.22" stroke="#e4e4e4" stroke-width="0.7"/>
<line x1="146.80" y1="281.02" x2="146.80" y2="289.42" stroke="#a0a0a0" stroke-width="0.5"/>
<line x1="149.70" y1="279.35" x2="149.70" y2="291.35" stroke="#e4e4e4" stroke-width="0.7"/>
<line x1="149.70" y1="281.15" x2="149.70" y2="289.55" stroke="#a0a0a0" stroke-width="0.5"/>
<line x1="152.60" y1="279.59" x2="152.60" y2="291.59" stroke="#e4e4e4" stroke-width="0.7"/>
<line x1="152.60" y1="281.39" x2="152.60" y2="289.79" stroke="#a0a0a0" stroke-width="0.5"/>
<line x1="155.50" y1="279.54" x2="155.50" y2="291.54" stroke="#e4e4e4" stroke-width="0.7"/>
<line x1="155.50" y1="281.34" x2="155.50" y2="289.74" stroke="#a0a0a0" stroke-width="0.5"/>
<line x1="158.40" y1="279.72" x2="158.40" y2="291.72" stroke="#e4e4e4" stroke-width="0.7"/>
<line x1="158.40" y1="281.52" x2="158.40" y2="289.92" stroke="#a0a0a0" stroke-width="0.5"/>
<line x1="161.30" y1="279.80" x2="161.30" y2="291.80" stroke="#e4e4e4" stroke-width="0.7"/>
<line x1="161.30" y1="281.60" x2="161.30" y2="290.00" stroke="#a0a0a0" stroke-width="0.5"/>
<line x1="164.20" y1="280.37" x2="164.20" y2="292.37" stroke="#e4e4e4" stroke-width="0.7"/>
<line x1="164.20" y1="282.17" x2="164.20" y2="290.57" stroke="#a0a0a0" stroke-width="0.5"/>
<line x1="167.10" y1="280.77" x2="167.10" y2="292.77" stroke="#e4e4e4" stroke-width="0.7"/>
<line x1="167.10" y1="282.57" x2="167.10" y2="290.97" stroke="#a0a0a0" stroke-width="0.5"/>
<line x1="170.00" y1="281.47" x2="170.00" y2="293.47" stroke="#e4e4e4" stroke-width="0.7"/>
<line x1="170.00" y1="283.27" x2="170.00" y2="291.67" stroke="#a0a0a0" stroke-width="0.5"/>
<line x1="172.90" y1="282.09" x2="172.90" y2="294.09" stroke="#e4e4e4" stroke-width="0.7"/>
<line x1="172.90" y1="283.89" x2="172.90" y2="292.29" stroke="#a0a0a0" stroke-width="0.5"/>
<line x1="175.80" y1="282.05" x2="175.80" y2="294.05" stroke="#e4e4e4" stroke-width="0.7"/>
<line x1="175.80" y1="283.85" x2="175.80" y2="292.25" stroke="#a0a0a0" stroke-width="0.5"/>
<line x1="178.70" y1="282.62" x2="178.70" y2="294.62" stroke="#e4e4e4" stroke-width="0.7"/>
<line x1="178.70" y1="284.42" x2="178.70" y2="292.82" stroke="#a0a0a0" stroke-width="0.5"/>
<line x1="181.60" y1="283.24" x2="181.60" y2="295.24" stroke="#e4e4e4" stroke-width="0.7"/>
<line x1="181.60" y1="285.04" x2="181.60" y2="293.44" stroke="#a0a0a0" stroke-width="0.5"/>
<line x1="184.50" y1="283.53" x2="184.50" y2="295.53" stroke="#e4e4e4" stroke-width="0.7"/>
<line x1="184.50" y1="285.33" x2="184.50" y2="293.73" stroke="#a0a0a0" stroke-width="0.5"/>
<line x1="187.40" y1="283.39" x2="187.40" y2="295.39" stroke="#e4e4e4" stroke-width="0.7"/>
<line x1="187.40" y1="285.19" x2="187.40" y2="293.59" stroke="#a0a0a0" stroke-width="0.5"/>
<line x1="190.30" y1="283.74" x2="190.30" y2="295.74" stroke="#e4e4e4" stroke-width="0.7"/>
<line x1="190.30" y1="285.54" x2="190.30" y2="293.94" stroke="#a0a0a0" stroke-width="0.5"/>
<line x1="193.20" y1="284.50" x2="193.20" y2="296.50" stroke="#e4e4e4" stroke-width="0.7"/>
<line x1="193.20" y1="286.30" x2="193.20" y2="294.70" stroke="#a0a0a0" stroke-width="0.5"/>
<line x1="196.10" y1="284.84" x2="196.10" y2="296.84" stroke="#e4e4e4" stroke-width="0.7"/>
<line x1="196.10" y1="286.64" x2="196.10" y2="295.04" stroke="#a0a0a0" stroke-width="0.5"/>
<line x1="199.00" y1="285.56" x2="199.00" y2="297.56" stroke="#e4e4e4" stroke-width="0.7"/>
<line x1="199.00" y1="287.36" x2="199.00" y2="295.76" stroke="#a0a0a0" stroke-width="0.5"/>
<line x1="201.90" y1="286.04" x2="201.90" y2="298.04" stroke="#e4e4e4" stroke-width="0.7"/>
<line x1="201.90" y1="287.84" x2="201.90" y2="296.24" stroke="#a0a0a0" stroke-width="0.5"/>
<line x1="204.80" y1="287.06" x2="204.80" y2="299.06" stroke="#e4e4e4" stroke-width="0.7"/>
<line x1="204.80" y1="288.86" x2="204.80" y2="297.26" stroke="#a0a0a0" stroke-width="0.5"/>
<line x1="207.70" y1="287.75" x2="207.70" y2="299.75" stroke="#e4e4e4" stroke-width="0.7"/>
<line x1="207.70" y1="289.55" x2="207.70" y2="297.95" stroke="#a0a0a0" stroke-width="0.5"/>
<line x1="210.60" y1="288.43" x2="210.60" y2="300.43" stroke="#e4e4e4" stroke-width="0.7"/>
<line x1="210.60" y1="290.23" x2="210.60" y2="298.63" stroke="#a0a0a0" stroke-width="0.5"/>
<line x1="22.10" y1="256.09" x2="22.10" y2="261.09" stroke="#b8b8b8" stroke-width="0.5"/>
<line x1="25.15" y1="256.23" x2="25.15" y2="261.23" stroke="#b8b8b8" stroke-width="0.5"/>
<line x1="28.20" y1="256.00" x2="28.20" y2="261.00" stroke="#b8b8b8" stroke-width="0.5"/>
<line x1="31.25" y1="255.49" x2="31.25" y2="260.49" stroke="#b8b8b8" stroke-width="0.5"/>
<line x1="34.30" y1="256.09" x2="34.30" y2="261.09" stroke="#b8b8b8" stroke-width="0.5"/>
<line x1="37.35" y1="256.68" x2="37.35" y2="261.68" stroke="#b8b8b8" stroke-width="0.5"/>
<line x1="40.40" y1="256.77" x2="40.40" y2="261.77" stroke="#b8b8b8" stroke-width="0.5"/>
<line x1="43.45" y1="257.71" x2="43.45" y2="262.71" stroke="#b8b8b8" stroke-width="0.5"/>
<line x1="46.50" y1="257.87" x2="46.50" y2="262.87" stroke="#b8b8b8" stroke-width="0.5"/>
<line x1="49.55" y1="258.40" x2="49.55" y2="263.40" stroke="#b8b8b8" stroke-width="0.5"/>
<line x1="52.60" y1="259.28" x2="52.60" y2="264.28" stroke="#b8b8b8" stroke-width="0.5"/>
<line x1="55.65" y1="260.10" x2="55.65" y2="265.10" stroke="#b8b8b8" stroke-width="0.5"/>
<line x1="58.70" y1="260.62" x2="58.70" y2="265.62" stroke="#b8b8b8" stroke-width="0.5"/>
<line x1="61.75" y1="261.70" x2="61.75" y2="266.70" stroke="#b8b8b8" stroke-width="0.5"/>
<line x1="64.80" y1="263.55" x2="64.80" y2="268.55" stroke="#b8b8b8" stroke-width="0.5"/>
<line x1="67.85" y1="265.58" x2="67.85" y2="270.58" stroke="#b8b8b8" stroke-width="0.5"/>
<line x1="70.90" y1="267.64" x2="70.90" y2="272.64" stroke="#b8b8b8" stroke-width="0.5"/>
<line x1="73.95" y1="269.78" x2="73.95" y2="274.78" stroke="#b8b8b8" stroke-width="0.5"/>
<line x1="77.00" y1="271.85" x2="77.00" y2="276.85" stroke="#b8b8b8" stroke-width="0.5"/>
<line x1="80.05" y1="273.25" x2="80.05" y2="278.25" stroke="#b8b8b8" stroke-width="0.5"/>
<line x1="83.10" y1="275.39" x2="83.10" y2="280.39" stroke="#b8b8b8" stroke-width="0.5"/>
<line x1="86.15" y1="277.16" x2="86.15" y2="282.16" stroke="#b8b8b8" stroke-width="0.5"/>
<line x1="89.20" y1="278.75" x2="89.20" y2="283.75" stroke="#b8b8b8" stroke-width="0.5"/>
<line x1="92.25" y1="280.78" x2="92.25" y2="285.78" stroke="#b8b8b8" stroke-width="0.5"/>
<line x1="95.30" y1="282.68" x2="95.30" y2="287.68" stroke="#b8b8b8" stroke-width="0.5"/>
<line x1="98.35" y1="283.95" x2="98.35" y2="288.95" stroke="#b8b8b8" stroke-width="0.5"/>
<line x1="101.40" y1="285.03" x2="101.40" y2="290.03" stroke="#b8b8b8" stroke-width="0.5"/>
<line x1="104.45" y1="286.92" x2="104.45" y2="291.92" stroke="#b8b8b8" stroke-width="0.5"/>
<line x1="107.50" y1="287.76" x2="107.50" y2="292.76" stroke="#b8b8b8" stroke-width="0.5"/>
<line x1="110.55" y1="288.69" x2="110.55" y2="293.69" stroke="#b8b8b8" stroke-width="0.5"/>
<line x1="113.60" y1="288.98" x2="113.60" y2="293.98" stroke="#b8b8b8" stroke-width="0.5"/>
<line x1="116.65" y1="289.90" x2="116.65" y2="294.90" stroke="#b8b8b8" stroke-width="0.5"/>
<line x1="119.70" y1="290.30" x2="119.70" y2="295.30" stroke="#b8b8b8" stroke-width="0.5"/>
<line x1="122.75" y1="291.06" x2="122.75" y2="296.06" stroke="#b8b8b8" stroke-width="0.5"/>
<line x1="125.80" y1="291.15" x2="125.80" y2="296.15" stroke="#b8b8b8" stroke-width="0.5"/>
<line x1="128.85" y1="291.47" x2="128.85" y2="296.47" stroke="#b8b8b8" stroke-width="0.5"/>
<line x1="131.90" y1="292.04" x2="131.90" y2="297.04" stroke="#b8b8b8" stroke-width="0.5"/>
<line x1="134.95" y1="292.73" x2="134.95" y2="297.73" stroke="#b8b8b8" stroke-width="0.5"/>
<line x1="138.00" y1="293.07" x2="138.00" y2="298.07" stroke="#b8b8b8" stroke-width="0.5"/>
<line x1="141.05" y1="293.13" x2="141.05" y2="298.13" stroke="#b8b8b8" stroke-width="0.5"/>
<line x1="144.10" y1="293.60" x2="144.10" y2="298.60" stroke="#b8b8b8" stroke-width="0.5"/>
<line x1="147.15" y1="294.66" x2="147.15" y2="299.66" stroke="#b8b8b8" stroke-width="0.5"/>
<line x1="150.20" y1="295.05" x2="150.20" y2="300.05" stroke="#b8b8b8" stroke-width="0.5"/>
<line x1="153.25" y1="295.76" x2="153.25" y2="300.76" stroke="#b8b8b8" stroke-width="0.5"/>
<line x1="156.30" y1="296.20" x2="156.30" y2="301.20" stroke="#b8b8b8" stroke-width="0.5"/>
<line x1="159.35" y1="296.97" x2="159.35" y2="301.97" stroke="#b8b8b8" stroke-width="0.5"/>
<line x1="162.40" y1="298.15" x2="162.40" y2="303.15" stroke="#b8b8b8" stroke-width="0.5"/>
<line x1="165.45" y1="298.53" x2="165.45" y2="303.53" stroke="#b8b8b8" stroke-width="0.5"/>
<line x1="168.50" y1="298.72" x2="168.50" y2="303.72" stroke="#b8b8b8" stroke-width="0.5"/>
<line x1="171.55" y1="299.65" x2="171.55" y2="304.65" stroke="#b8b8b8" stroke-width="0.5"/>
<line x1="174.60" y1="299.87" x2="174.60" y2="304.87" stroke="#b8b8b8" stroke-width="0.5"/>
<line x1="177.65" y1="300.27" x2="177.65" y2="305.27" stroke="#b8b8b8" stroke-width="0.5"/>
<line x1="180.70" y1="300.01" x2="180.70" y2="305.01" stroke="#b8b8b8" stroke-width="0.5"/>
<line x1="183.75" y1="300.66" x2="183.75" y2="305.66" stroke="#b8b8b8" stroke-width="0.5"/>
<line x1="186.80" y1="300.26" x2="186.80" y2="305.26" stroke="#b8b8b8" stroke-width="0.5"/>
<line x1="189.85" y1="300.77" x2="189.85" y2="305.77" stroke="#b8b8b8" stroke-width="0.5"/>
<line x1="192.90" y1="300.56" x2="192.90" y2="305.56" stroke="#b8b8b8" stroke-width="0.5"/>
<line x1="195.95" y1="300.53" x2="195.95" y2="305.53" stroke="#b8b8b8" stroke-width="0.5"/>
<line x1="199.00" y1="300.69" x2="199.00" y2="305.69" stroke="#b8b8b8" stroke-width="0.5"/>
<line x1="202.05" y1="300.95" x2="202.05" y2="305.95" stroke="#b8b8b8" stroke-width="0.5"/>
<line x1="205.10" y1="300.59" x2="205.10" y2="305.59" stroke="#b8b8b8" stroke-width="0.5"/>
<line x1="208.15" y1="300.54" x2="208.15" y2="305.54" stroke="#b8b8b8" stroke-width="0.5"/>
<line x1="211.20" y1="300.81" x2="211.20" y2="305.81" stroke="#b8b8b8" stroke-width="0.5"/>
<polyline points="22.10,260.90 41.30,264.50 58.40,267.70 69.00,267.70 77.60,262.40 86.10,252.80 94.60,250.20 105.30,249.60 116.00,251.70 122.80,251.70 142.00,252.40 161.20,254.90 174.00,258.10 191.10,262.40 210.30,267.70" fill="none" stroke="#444" stroke-width="0.8" stroke-linejoin="round"/>
<polyline points="22.10,259.20 41.30,258.80 62.60,259.60 75.40,260.30 84.00,264.50 92.50,269.90 101.00,272.40 110.00,274.10 118.50,273.10 127.10,275.20 137.70,281.60 146.30,285.20 163.40,285.90 174.00,288.00 191.10,290.10 211.80,294.40" fill="none" stroke="#444" stroke-width="0.8" stroke-linejoin="round"/>
<polyline points="22.10,258.80 32.80,258.10 41.30,259.60 52.00,261.30 62.60,264.50 73.30,272.00 84.00,278.40 94.60,284.80 105.30,289.50 118.00,292.90 122.80,293.40 142.00,295.90 152.70,298.00 163.40,300.80 176.20,302.50 184.70,303.00 211.80,303.30" fill="none" stroke="#333" stroke-width="0.8" stroke-linejoin="round"/>
<path d="M22.10 259.33L23.55 261.87L20.65 261.87Z" fill="#e8c8d8" stroke="#86687a" stroke-width="0.5"/>
<path d="M25.00 259.80L26.45 262.34L23.55 262.34Z" fill="#e8c8d8" stroke="#86687a" stroke-width="0.5"/>
<path d="M27.90 260.76L29.35 263.29L26.45 263.29Z" fill="#e8c8d8" stroke="#86687a" stroke-width="0.5"/>
<path d="M30.80 261.42L32.25 263.96L29.35 263.96Z" fill="#e8c8d8" stroke="#86687a" stroke-width="0.5"/>
<path d="M33.70 261.87L35.15 264.41L32.25 264.41Z" fill="#e8c8d8" stroke="#86687a" stroke-width="0.5"/>
<path d="M36.60 262.38L38.05 264.92L35.15 264.92Z" fill="#e8c8d8" stroke="#86687a" stroke-width="0.5"/>
<path d="M39.50 262.94L40.95 265.47L38.05 265.47Z" fill="#e8c8d8" stroke="#86687a" stroke-width="0.5"/>
<path d="M42.40 263.42L43.85 265.96L40.95 265.96Z" fill="#e8c8d8" stroke="#86687a" stroke-width="0.5"/>
<path d="M45.30 263.61L46.75 266.14L43.85 266.14Z" fill="#e8c8d8" stroke="#86687a" stroke-width="0.5"/>
<path d="M48.20 264.35L49.65 266.89L46.75 266.89Z" fill="#e8c8d8" stroke="#86687a" stroke-width="0.5"/>
<path d="M51.10 264.78L52.55 267.32L49.65 267.32Z" fill="#e8c8d8" stroke="#86687a" stroke-width="0.5"/>
<path d="M54.00 265.10L55.45 267.63L52.55 267.63Z" fill="#e8c8d8" stroke="#86687a" stroke-width="0.5"/>
<path d="M56.90 265.64L58.35 268.18L55.45 268.18Z" fill="#e8c8d8" stroke="#86687a" stroke-width="0.5"/>
<path d="M59.80 266.10L61.25 268.63L58.35 268.63Z" fill="#e8c8d8" stroke="#86687a" stroke-width="0.5"/>
<path d="M62.70 266.08L64.15 268.62L61.25 268.62Z" fill="#e8c8d8" stroke="#86687a" stroke-width="0.5"/>
<path d="M65.60 266.38L67.05 268.92L64.15 268.92Z" fill="#e8c8d8" stroke="#86687a" stroke-width="0.5"/>
<path d="M68.50 266.57L69.95 269.11L67.05 269.11Z" fill="#e8c8d8" stroke="#86687a" stroke-width="0.5"/>
<path d="M71.40 264.73L72.85 267.27L69.95 267.27Z" fill="#e8c8d8" stroke="#86687a" stroke-width="0.5"/>
<path d="M74.30 263.29L75.75 265.83L72.85 265.83Z" fill="#e8c8d8" stroke="#86687a" stroke-width="0.5"/>
<path d="M77.20 261.54L78.65 264.08L75.75 264.08Z" fill="#e8c8d8" stroke="#86687a" stroke-width="0.5"/>
<path d="M80.10 258.44L81.55 260.98L78.65 260.98Z" fill="#e8c8d8" stroke="#86687a" stroke-width="0.5"/>
<path d="M83.00 254.76L84.45 257.29L81.55 257.29Z" fill="#e8c8d8" stroke="#86687a" stroke-width="0.5"/>
<path d="M85.90 251.38L87.35 253.92L84.45 253.92Z" fill="#e8c8d8" stroke="#86687a" stroke-width="0.5"/>
<path d="M88.80 250.33L90.25 252.87L87.35 252.87Z" fill="#e8c8d8" stroke="#86687a" stroke-width="0.5"/>
<path d="M91.70 249.42L93.15 251.96L90.25 251.96Z" fill="#e8c8d8" stroke="#86687a" stroke-width="0.5"/>
<path d="M94.60 248.54L96.05 251.08L93.15 251.08Z" fill="#e8c8d8" stroke="#86687a" stroke-width="0.5"/>
<path d="M97.50 248.67L98.95 251.21L96.05 251.21Z" fill="#e8c8d8" stroke="#86687a" stroke-width="0.5"/>
<path d="M100.40 248.70L101.85 251.24L98.95 251.24Z" fill="#e8c8d8" stroke="#86687a" stroke-width="0.5"/>
<path d="M103.30 248.50L104.75 251.04L101.85 251.04Z" fill="#e8c8d8" stroke="#86687a" stroke-width="0.5"/>
<path d="M106.20 248.31L107.65 250.85L104.75 250.85Z" fill="#e8c8d8" stroke="#86687a" stroke-width="0.5"/>
<path d="M109.10 249.00L110.55 251.54L107.65 251.54Z" fill="#e8c8d8" stroke="#86687a" stroke-width="0.5"/>
<path d="M112.00 249.67L113.45 252.21L110.55 252.21Z" fill="#e8c8d8" stroke="#86687a" stroke-width="0.5"/>
<path d="M114.90 249.74L116.35 252.28L113.45 252.28Z" fill="#e8c8d8" stroke="#86687a" stroke-width="0.5"/>
<path d="M117.80 250.36L119.25 252.90L116.35 252.90Z" fill="#e8c8d8" stroke="#86687a" stroke-width="0.5"/>
<path d="M120.70 250.54L122.15 253.07L119.25 253.07Z" fill="#e8c8d8" stroke="#86687a" stroke-width="0.5"/>
<path d="M123.60 250.48L125.05 253.01L122.15 253.01Z" fill="#e8c8d8" stroke="#86687a" stroke-width="0.5"/>
<path d="M126.50 250.56L127.95 253.10L125.05 253.10Z" fill="#e8c8d8" stroke="#86687a" stroke-width="0.5"/>
<path d="M129.40 250.48L130.85 253.01L127.95 253.01Z" fill="#e8c8d8" stroke="#86687a" stroke-width="0.5"/>
<path d="M132.30 250.37L133.75 252.91L130.85 252.91Z" fill="#e8c8d8" stroke="#86687a" stroke-width="0.5"/>
<path d="M135.20 250.90L136.65 253.44L133.75 253.44Z" fill="#e8c8d8" stroke="#86687a" stroke-width="0.5"/>
<path d="M138.10 250.69L139.55 253.23L136.65 253.23Z" fill="#e8c8d8" stroke="#86687a" stroke-width="0.5"/>
<path d="M141.00 251.12L142.45 253.66L139.55 253.66Z" fill="#e8c8d8" stroke="#86687a" stroke-width="0.5"/>
<path d="M143.90 251.53L145.35 254.07L142.45 254.07Z" fill="#e8c8d8" stroke="#86687a" stroke-width="0.5"/>
<path d="M146.80 251.50L148.25 254.04L145.35 254.04Z" fill="#e8c8d8" stroke="#86687a" stroke-width="0.5"/>
<path d="M149.70 251.88L151.15 254.42L148.25 254.42Z" fill="#e8c8d8" stroke="#86687a" stroke-width="0.5"/>
<path d="M152.60 252.64L154.05 255.18L151.15 255.18Z" fill="#e8c8d8" stroke="#86687a" stroke-width="0.5"/>
<path d="M155.50 252.87L156.95 255.40L154.05 255.40Z" fill="#e8c8d8" stroke="#86687a" stroke-width="0.5"/>
<path d="M158.40 252.85L159.85 255.39L156.95 255.39Z" fill="#e8c8d8" stroke="#86687a" stroke-width="0.5"/>
<path d="M161.30 253.21L162.75 255.75L159.85 255.75Z" fill="#e8c8d8" stroke="#86687a" stroke-width="0.5"/>
<path d="M164.20 253.96L165.65 256.49L162.75 256.49Z" fill="#e8c8d8" stroke="#86687a" stroke-width="0.5"/>
<path d="M167.10 255.21L168.55 257.75L165.65 257.75Z" fill="#e8c8d8" stroke="#86687a" stroke-width="0.5"/>
<path d="M170.00 255.86L171.45 258.40L168.55 258.40Z" fill="#e8c8d8" stroke="#86687a" stroke-width="0.5"/>
<path d="M172.90 256.13L174.35 258.66L171.45 258.66Z" fill="#e8c8d8" stroke="#86687a" stroke-width="0.5"/>
<path d="M175.80 257.33L177.25 259.87L174.35 259.87Z" fill="#e8c8d8" stroke="#86687a" stroke-width="0.5"/>
<path d="M178.70 258.17L180.15 260.71L177.25 260.71Z" fill="#e8c8d8" stroke="#86687a" stroke-width="0.5"/>
<path d="M181.60 258.67L183.05 261.21L180.15 261.21Z" fill="#e8c8d8" stroke="#86687a" stroke-width="0.5"/>
<path d="M184.50 259.19L185.95 261.72L183.05 261.72Z" fill="#e8c8d8" stroke="#86687a" stroke-width="0.5"/>
<path d="M187.40 260.05L188.85 262.59L185.95 262.59Z" fill="#e8c8d8" stroke="#86687a" stroke-width="0.5"/>
<path d="M190.30 260.49L191.75 263.03L188.85 263.03Z" fill="#e8c8d8" stroke="#86687a" stroke-width="0.5"/>
<path d="M193.20 261.19L194.65 263.73L191.75 263.73Z" fill="#e8c8d8" stroke="#86687a" stroke-width="0.5"/>
<path d="M196.10 262.66L197.55 265.20L194.65 265.20Z" fill="#e8c8d8" stroke="#86687a" stroke-width="0.5"/>
<path d="M199.00 263.24L200.45 265.77L197.55 265.77Z" fill="#e8c8d8" stroke="#86687a" stroke-width="0.5"/>
<path d="M201.90 263.95L203.35 266.49L200.45 266.49Z" fill="#e8c8d8" stroke="#86687a" stroke-width="0.5"/>
<path d="M204.80 265.04L206.25 267.57L203.35 267.57Z" fill="#e8c8d8" stroke="#86687a" stroke-width="0.5"/>
<path d="M207.70 265.49L209.15 268.02L206.25 268.02Z" fill="#e8c8d8" stroke="#86687a" stroke-width="0.5"/>
<path d="M210.60 266.51L212.05 269.05L209.15 269.05Z" fill="#e8c8d8" stroke="#86687a" stroke-width="0.5"/>
<path d="M22.10 257.33L23.78 259.43L22.10 261.53L20.42 259.43Z" fill="#e27cb4" stroke="#a04a78" stroke-width="0.45"/>
<path d="M25.00 256.84L26.68 258.94L25.00 261.04L23.32 258.94Z" fill="#e27cb4" stroke="#a04a78" stroke-width="0.45"/>
<path d="M27.90 256.81L29.58 258.91L27.90 261.01L26.22 258.91Z" fill="#e27cb4" stroke="#a04a78" stroke-width="0.45"/>
<path d="M30.80 256.77L32.48 258.87L30.80 260.97L29.12 258.87Z" fill="#e27cb4" stroke="#a04a78" stroke-width="0.45"/>
<path d="M33.70 256.68L35.38 258.78L33.70 260.88L32.02 258.78Z" fill="#e27cb4" stroke="#a04a78" stroke-width="0.45"/>
<path d="M36.60 256.86L38.28 258.96L36.60 261.06L34.92 258.96Z" fill="#e27cb4" stroke="#a04a78" stroke-width="0.45"/>
<path d="M39.50 256.57L41.18 258.67L39.50 260.77L37.82 258.67Z" fill="#e27cb4" stroke="#a04a78" stroke-width="0.45"/>
<path d="M42.40 256.68L44.08 258.78L42.40 260.88L40.72 258.78Z" fill="#e27cb4" stroke="#a04a78" stroke-width="0.45"/>
<path d="M45.30 256.59L46.98 258.69L45.30 260.79L43.62 258.69Z" fill="#e27cb4" stroke="#a04a78" stroke-width="0.45"/>
<path d="M48.20 257.25L49.88 259.35L48.20 261.45L46.52 259.35Z" fill="#e27cb4" stroke="#a04a78" stroke-width="0.45"/>
<path d="M51.10 256.97L52.78 259.07L51.10 261.17L49.42 259.07Z" fill="#e27cb4" stroke="#a04a78" stroke-width="0.45"/>
<path d="M54.00 257.15L55.68 259.25L54.00 261.35L52.32 259.25Z" fill="#e27cb4" stroke="#a04a78" stroke-width="0.45"/>
<path d="M56.90 257.34L58.58 259.44L56.90 261.54L55.22 259.44Z" fill="#e27cb4" stroke="#a04a78" stroke-width="0.45"/>
<path d="M59.80 257.68L61.48 259.78L59.80 261.88L58.12 259.78Z" fill="#e27cb4" stroke="#a04a78" stroke-width="0.45"/>
<path d="M62.70 257.45L64.38 259.55L62.70 261.65L61.02 259.55Z" fill="#e27cb4" stroke="#a04a78" stroke-width="0.45"/>
<path d="M65.60 257.96L67.28 260.06L65.60 262.16L63.92 260.06Z" fill="#e27cb4" stroke="#a04a78" stroke-width="0.45"/>
<path d="M68.50 257.82L70.18 259.92L68.50 262.02L66.82 259.92Z" fill="#e27cb4" stroke="#a04a78" stroke-width="0.45"/>
<path d="M71.40 258.00L73.08 260.10L71.40 262.20L69.72 260.10Z" fill="#e27cb4" stroke="#a04a78" stroke-width="0.45"/>
<path d="M74.30 258.16L75.98 260.26L74.30 262.36L72.62 260.26Z" fill="#e27cb4" stroke="#a04a78" stroke-width="0.45"/>
<path d="M77.20 258.74L78.88 260.84L77.20 262.94L75.52 260.84Z" fill="#e27cb4" stroke="#a04a78" stroke-width="0.45"/>
<path d="M80.10 260.45L81.78 262.55L80.10 264.65L78.42 262.55Z" fill="#e27cb4" stroke="#a04a78" stroke-width="0.45"/>
<path d="M83.00 261.69L84.68 263.79L83.00 265.89L81.32 263.79Z" fill="#e27cb4" stroke="#a04a78" stroke-width="0.45"/>
<path d="M85.90 263.26L87.58 265.36L85.90 267.46L84.22 265.36Z" fill="#e27cb4" stroke="#a04a78" stroke-width="0.45"/>
<path d="M88.80 265.66L90.48 267.76L88.80 269.86L87.12 267.76Z" fill="#e27cb4" stroke="#a04a78" stroke-width="0.45"/>
<path d="M91.70 267.06L93.38 269.16L91.70 271.26L90.02 269.16Z" fill="#e27cb4" stroke="#a04a78" stroke-width="0.45"/>
<path d="M94.60 268.40L96.28 270.50L94.60 272.60L92.92 270.50Z" fill="#e27cb4" stroke="#a04a78" stroke-width="0.45"/>
<path d="M97.50 269.43L99.18 271.53L97.50 273.63L95.82 271.53Z" fill="#e27cb4" stroke="#a04a78" stroke-width="0.45"/>
<path d="M100.40 270.16L102.08 272.26L100.40 274.36L98.72 272.26Z" fill="#e27cb4" stroke="#a04a78" stroke-width="0.45"/>
<path d="M103.30 270.61L104.98 272.71L103.30 274.81L101.62 272.71Z" fill="#e27cb4" stroke="#a04a78" stroke-width="0.45"/>
<path d="M106.20 271.30L107.88 273.40L106.20 275.50L104.52 273.40Z" fill="#e27cb4" stroke="#a04a78" stroke-width="0.45"/>
<path d="M109.10 271.87L110.78 273.97L109.10 276.07L107.42 273.97Z" fill="#e27cb4" stroke="#a04a78" stroke-width="0.45"/>
<path d="M112.00 271.96L113.68 274.06L112.00 276.16L110.32 274.06Z" fill="#e27cb4" stroke="#a04a78" stroke-width="0.45"/>
<path d="M114.90 271.15L116.58 273.25L114.90 275.35L113.22 273.25Z" fill="#e27cb4" stroke="#a04a78" stroke-width="0.45"/>
<path d="M117.80 271.12L119.48 273.22L117.80 275.32L116.12 273.22Z" fill="#e27cb4" stroke="#a04a78" stroke-width="0.45"/>
<path d="M120.70 271.36L122.38 273.46L120.70 275.56L119.02 273.46Z" fill="#e27cb4" stroke="#a04a78" stroke-width="0.45"/>
<path d="M123.60 272.09L125.28 274.19L123.60 276.29L121.92 274.19Z" fill="#e27cb4" stroke="#a04a78" stroke-width="0.45"/>
<path d="M126.50 273.14L128.18 275.24L126.50 277.34L124.82 275.24Z" fill="#e27cb4" stroke="#a04a78" stroke-width="0.45"/>
<path d="M129.40 274.49L131.08 276.59L129.40 278.69L127.72 276.59Z" fill="#e27cb4" stroke="#a04a78" stroke-width="0.45"/>
<path d="M132.30 276.28L133.98 278.38L132.30 280.48L130.62 278.38Z" fill="#e27cb4" stroke="#a04a78" stroke-width="0.45"/>
<path d="M135.20 278.17L136.88 280.27L135.20 282.37L133.52 280.27Z" fill="#e27cb4" stroke="#a04a78" stroke-width="0.45"/>
<path d="M138.10 279.96L139.78 282.06L138.10 284.16L136.42 282.06Z" fill="#e27cb4" stroke="#a04a78" stroke-width="0.45"/>
<path d="M141.00 280.84L142.68 282.94L141.00 285.04L139.32 282.94Z" fill="#e27cb4" stroke="#a04a78" stroke-width="0.45"/>
<path d="M143.90 282.17L145.58 284.27L143.90 286.37L142.22 284.27Z" fill="#e27cb4" stroke="#a04a78" stroke-width="0.45"/>
<path d="M146.80 283.12L148.48 285.22L146.80 287.32L145.12 285.22Z" fill="#e27cb4" stroke="#a04a78" stroke-width="0.45"/>
<path d="M149.70 283.25L151.38 285.35L149.70 287.45L148.02 285.35Z" fill="#e27cb4" stroke="#a04a78" stroke-width="0.45"/>
<path d="M152.60 283.49L154.28 285.59L152.60 287.69L150.92 285.59Z" fill="#e27cb4" stroke="#a04a78" stroke-width="0.45"/>
<path d="M155.50 283.44L157.18 285.54L155.50 287.64L153.82 285.54Z" fill="#e27cb4" stroke="#a04a78" stroke-width="0.45"/>
<path d="M158.40 283.62L160.08 285.72L158.40 287.82L156.72 285.72Z" fill="#e27cb4" stroke="#a04a78" stroke-width="0.45"/>
<path d="M161.30 283.70L162.98 285.80L161.30 287.90L159.62 285.80Z" fill="#e27cb4" stroke="#a04a78" stroke-width="0.45"/>
<path d="M164.20 284.27L165.88 286.37L164.20 288.47L162.52 286.37Z" fill="#e27cb4" stroke="#a04a78" stroke-width="0.45"/>
<path d="M167.10 284.67L168.78 286.77L167.10 288.87L165.42 286.77Z" fill="#e27cb4" stroke="#a04a78" stroke-width="0.45"/>
<path d="M170.00 285.37L171.68 287.47L170.00 289.57L168.32 287.47Z" fill="#e27cb4" stroke="#a04a78" stroke-width="0.45"/>
<path d="M172.90 285.99L174.58 288.09L172.90 290.19L171.22 288.09Z" fill="#e27cb4" stroke="#a04a78" stroke-width="0.45"/>
<path d="M175.80 285.95L177.48 288.05L175.80 290.15L174.12 288.05Z" fill="#e27cb4" stroke="#a04a78" stroke-width="0.45"/>
<path d="M178.70 286.52L180.38 288.62L178.70 290.72L177.02 288.62Z" fill="#e27cb4" stroke="#a04a78" stroke-width="0.45"/>
<path d="M181.60 287.14L183.28 289.24L181.60 291.34L179.92 289.24Z" fill="#e27cb4" stroke="#a04a78" stroke-width="0.45"/>
<path d="M184.50 287.43L186.18 289.53L184.50 291.63L182.82 289.53Z" fill="#e27cb4" stroke="#a04a78" stroke-width="0.45"/>
<path d="M187.40 287.29L189.08 289.39L187.40 291.49L185.72 289.39Z" fill="#e27cb4" stroke="#a04a78" stroke-width="0.45"/>
<path d="M190.30 287.64L191.98 289.74L190.30 291.84L188.62 289.74Z" fill="#e27cb4" stroke="#a04a78" stroke-width="0.45"/>
<path d="M193.20 288.40L194.88 290.50L193.20 292.60L191.52 290.50Z" fill="#e27cb4" stroke="#a04a78" stroke-width="0.45"/>
<path d="M196.10 288.74L197.78 290.84L196.10 292.94L194.42 290.84Z" fill="#e27cb4" stroke="#a04a78" stroke-width="0.45"/>
<path d="M199.00 289.46L200.68 291.56L199.00 293.66L197.32 291.56Z" fill="#e27cb4" stroke="#a04a78" stroke-width="0.45"/>
<path d="M201.90 289.94L203.58 292.04L201.90 294.14L200.22 292.04Z" fill="#e27cb4" stroke="#a04a78" stroke-width="0.45"/>
<path d="M204.80 290.96L206.48 293.06L204.80 295.16L203.12 293.06Z" fill="#e27cb4" stroke="#a04a78" stroke-width="0.45"/>
<path d="M207.70 291.65L209.38 293.75L207.70 295.85L206.02 293.75Z" fill="#e27cb4" stroke="#a04a78" stroke-width="0.45"/>
<path d="M210.60 292.33L212.28 294.43L210.60 296.53L208.92 294.43Z" fill="#e27cb4" stroke="#a04a78" stroke-width="0.45"/>
<circle cx="22.10" cy="258.59" r="1.7" fill="#d8488e" stroke="#9a2a60" stroke-width="0.4"/>
<circle cx="25.15" cy="258.73" r="1.7" fill="#d8488e" stroke="#9a2a60" stroke-width="0.4"/>
<circle cx="28.20" cy="258.50" r="1.7" fill="#d8488e" stroke="#9a2a60" stroke-width="0.4"/>
<circle cx="31.25" cy="257.99" r="1.7" fill="#d8488e" stroke="#9a2a60" stroke-width="0.4"/>
<circle cx="34.30" cy="258.59" r="1.7" fill="#d8488e" stroke="#9a2a60" stroke-width="0.4"/>
<circle cx="37.35" cy="259.18" r="1.7" fill="#d8488e" stroke="#9a2a60" stroke-width="0.4"/>
<circle cx="40.40" cy="259.27" r="1.7" fill="#d8488e" stroke="#9a2a60" stroke-width="0.4"/>
<circle cx="43.45" cy="260.21" r="1.7" fill="#d8488e" stroke="#9a2a60" stroke-width="0.4"/>
<circle cx="46.50" cy="260.37" r="1.7" fill="#d8488e" stroke="#9a2a60" stroke-width="0.4"/>
<circle cx="49.55" cy="260.90" r="1.7" fill="#d8488e" stroke="#9a2a60" stroke-width="0.4"/>
<circle cx="52.60" cy="261.78" r="1.7" fill="#d8488e" stroke="#9a2a60" stroke-width="0.4"/>
<circle cx="55.65" cy="262.60" r="1.7" fill="#d8488e" stroke="#9a2a60" stroke-width="0.4"/>
<circle cx="58.70" cy="263.12" r="1.7" fill="#d8488e" stroke="#9a2a60" stroke-width="0.4"/>
<circle cx="61.75" cy="264.20" r="1.7" fill="#d8488e" stroke="#9a2a60" stroke-width="0.4"/>
<circle cx="64.80" cy="266.05" r="1.7" fill="#d8488e" stroke="#9a2a60" stroke-width="0.4"/>
<circle cx="67.85" cy="268.08" r="1.7" fill="#d8488e" stroke="#9a2a60" stroke-width="0.4"/>
<circle cx="70.90" cy="270.14" r="1.7" fill="#d8488e" stroke="#9a2a60" stroke-width="0.4"/>
<circle cx="73.95" cy="272.28" r="1.7" fill="#d8488e" stroke="#9a2a60" stroke-width="0.4"/>
<circle cx="77.00" cy="274.35" r="1.7" fill="#d8488e" stroke="#9a2a60" stroke-width="0.4"/>
<circle cx="80.05" cy="275.75" r="1.7" fill="#d8488e" stroke="#9a2a60" stroke-width="0.4"/>
<circle cx="83.10" cy="277.89" r="1.7" fill="#d8488e" stroke="#9a2a60" stroke-width="0.4"/>
<circle cx="86.15" cy="279.66" r="1.7" fill="#d8488e" stroke="#9a2a60" stroke-width="0.4"/>
<circle cx="89.20" cy="281.25" r="1.7" fill="#d8488e" stroke="#9a2a60" stroke-width="0.4"/>
<circle cx="92.25" cy="283.28" r="1.7" fill="#d8488e" stroke="#9a2a60" stroke-width="0.4"/>
<circle cx="95.30" cy="285.18" r="1.7" fill="#d8488e" stroke="#9a2a60" stroke-width="0.4"/>
<circle cx="98.35" cy="286.45" r="1.7" fill="#d8488e" stroke="#9a2a60" stroke-width="0.4"/>
<circle cx="101.40" cy="287.53" r="1.7" fill="#d8488e" stroke="#9a2a60" stroke-width="0.4"/>
<circle cx="104.45" cy="289.42" r="1.7" fill="#d8488e" stroke="#9a2a60" stroke-width="0.4"/>
<circle cx="107.50" cy="290.26" r="1.7" fill="#d8488e" stroke="#9a2a60" stroke-width="0.4"/>
<circle cx="110.55" cy="291.19" r="1.7" fill="#d8488e" stroke="#9a2a60" stroke-width="0.4"/>
<circle cx="113.60" cy="291.48" r="1.7" fill="#d8488e" stroke="#9a2a60" stroke-width="0.4"/>
<circle cx="116.65" cy="292.40" r="1.7" fill="#d8488e" stroke="#9a2a60" stroke-width="0.4"/>
<circle cx="119.70" cy="292.80" r="1.7" fill="#d8488e" stroke="#9a2a60" stroke-width="0.4"/>
<circle cx="122.75" cy="293.56" r="1.7" fill="#d8488e" stroke="#9a2a60" stroke-width="0.4"/>
<circle cx="125.80" cy="293.65" r="1.7" fill="#d8488e" stroke="#9a2a60" stroke-width="0.4"/>
<circle cx="128.85" cy="293.97" r="1.7" fill="#d8488e" stroke="#9a2a60" stroke-width="0.4"/>
<circle cx="131.90" cy="294.54" r="1.7" fill="#d8488e" stroke="#9a2a60" stroke-width="0.4"/>
<circle cx="134.95" cy="295.23" r="1.7" fill="#d8488e" stroke="#9a2a60" stroke-width="0.4"/>
<circle cx="138.00" cy="295.57" r="1.7" fill="#d8488e" stroke="#9a2a60" stroke-width="0.4"/>
<circle cx="141.05" cy="295.63" r="1.7" fill="#d8488e" stroke="#9a2a60" stroke-width="0.4"/>
<circle cx="144.10" cy="296.10" r="1.7" fill="#d8488e" stroke="#9a2a60" stroke-width="0.4"/>
<circle cx="147.15" cy="297.16" r="1.7" fill="#d8488e" stroke="#9a2a60" stroke-width="0.4"/>
<circle cx="150.20" cy="297.55" r="1.7" fill="#d8488e" stroke="#9a2a60" stroke-width="0.4"/>
<circle cx="153.25" cy="298.26" r="1.7" fill="#d8488e" stroke="#9a2a60" stroke-width="0.4"/>
<circle cx="156.30" cy="298.70" r="1.7" fill="#d8488e" stroke="#9a2a60" stroke-width="0.4"/>
<circle cx="159.35" cy="299.47" r="1.7" fill="#d8488e" stroke="#9a2a60" stroke-width="0.4"/>
<circle cx="162.40" cy="300.65" r="1.7" fill="#d8488e" stroke="#9a2a60" stroke-width="0.4"/>
<circle cx="165.45" cy="301.03" r="1.7" fill="#d8488e" stroke="#9a2a60" stroke-width="0.4"/>
<circle cx="168.50" cy="301.22" r="1.7" fill="#d8488e" stroke="#9a2a60" stroke-width="0.4"/>
<circle cx="171.55" cy="302.15" r="1.7" fill="#d8488e" stroke="#9a2a60" stroke-width="0.4"/>
<circle cx="174.60" cy="302.37" r="1.7" fill="#d8488e" stroke="#9a2a60" stroke-width="0.4"/>
<circle cx="177.65" cy="302.77" r="1.7" fill="#d8488e" stroke="#9a2a60" stroke-width="0.4"/>
<circle cx="180.70" cy="302.51" r="1.7" fill="#d8488e" stroke="#9a2a60" stroke-width="0.4"/>
<circle cx="183.75" cy="303.16" r="1.7" fill="#d8488e" stroke="#9a2a60" stroke-width="0.4"/>
<circle cx="186.80" cy="302.76" r="1.7" fill="#d8488e" stroke="#9a2a60" stroke-width="0.4"/>
<circle cx="189.85" cy="303.27" r="1.7" fill="#d8488e" stroke="#9a2a60" stroke-width="0.4"/>
<circle cx="192.90" cy="303.06" r="1.7" fill="#d8488e" stroke="#9a2a60" stroke-width="0.4"/>
<circle cx="195.95" cy="303.03" r="1.7" fill="#d8488e" stroke="#9a2a60" stroke-width="0.4"/>
<circle cx="199.00" cy="303.19" r="1.7" fill="#d8488e" stroke="#9a2a60" stroke-width="0.4"/>
<circle cx="202.05" cy="303.45" r="1.7" fill="#d8488e" stroke="#9a2a60" stroke-width="0.4"/>
<circle cx="205.10" cy="303.09" r="1.7" fill="#d8488e" stroke="#9a2a60" stroke-width="0.4"/>
<circle cx="208.15" cy="303.04" r="1.7" fill="#d8488e" stroke="#9a2a60" stroke-width="0.4"/>
<circle cx="211.20" cy="303.31" r="1.7" fill="#d8488e" stroke="#9a2a60" stroke-width="0.4"/>
<line x1="24.90" y1="281.60" x2="33.70" y2="281.60" stroke="#333" stroke-width="0.8"/>
<circle cx="29.60" cy="281.60" r="1.9" fill="#d8488e" stroke="#9a2a60" stroke-width="0.4"/>
<text x="35.80" y="283.30" font-size="8.37" text-anchor="start" fill="#222" font-weight="normal" font-style="normal" textLength="29.2" lengthAdjust="spacingAndGlyphs" stroke="#222" stroke-width="0.1">no light</text>
<line x1="24.90" y1="289.50" x2="33.70" y2="289.50" stroke="#333" stroke-width="0.8"/>
<path d="M29.60 287.40L31.28 289.50L29.60 291.60L27.92 289.50Z" fill="#e8a4c4" stroke="#a05078" stroke-width="0.5"/>
<text x="35.80" y="291.30" font-size="8.37" text-anchor="start" fill="#222" font-weight="normal" font-style="normal" textLength="48.1" lengthAdjust="spacingAndGlyphs" stroke="#222" stroke-width="0.1">low intensity</text>
<line x1="24.90" y1="297.90" x2="33.70" y2="297.90" stroke="#333" stroke-width="0.8"/>
<path d="M29.60 296.00L31.50 299.32L27.70 299.32Z" fill="#f3dbe6" stroke="#a07088" stroke-width="0.5"/>
<text x="35.80" y="299.50" font-size="8.37" text-anchor="start" fill="#222" font-weight="normal" font-style="normal" textLength="52.2" lengthAdjust="spacingAndGlyphs" stroke="#222" stroke-width="0.1">high intensity</text>
<text x="228.50" y="8.80" font-size="12" text-anchor="start" fill="#111" font-weight="bold" font-style="normal" stroke="#111" stroke-width="0.1">C</text>
<rect x="243.30" y="0.90" width="95.00" height="152.00" rx="6.5" fill="#d7dde9"/>
<rect x="353.90" y="0.90" width="87.10" height="151.00" rx="6.5" fill="#faf0dc"/>
<text x="290.90" y="12.70" font-size="8.93" text-anchor="middle" fill="#222" font-weight="normal" font-style="normal" textLength="61.4" lengthAdjust="spacingAndGlyphs" stroke="#222" stroke-width="0.1">repression by</text>
<text x="290.80" y="23.70" font-size="8.93" text-anchor="middle" fill="#222" font-weight="normal" font-style="normal" textLength="70.5" lengthAdjust="spacingAndGlyphs" stroke="#222" stroke-width="0.1">multiple factors</text>
<text x="397.55" y="13.00" font-size="8.93" text-anchor="middle" fill="#222" font-weight="normal" font-style="normal" textLength="61.1" lengthAdjust="spacingAndGlyphs" stroke="#222" stroke-width="0.1">repression by</text>
<text x="397.70" y="24.10" font-size="8.93" text-anchor="middle" fill="#222" font-weight="normal" font-style="normal" textLength="51" lengthAdjust="spacingAndGlyphs" stroke="#222" stroke-width="0.1">Knirps only</text>
<text x="345.20" y="43.40" font-size="8.18" text-anchor="middle" fill="#222" font-weight="normal" font-style="normal" textLength="13" lengthAdjust="spacingAndGlyphs" stroke="#222" stroke-width="0.1">OR</text>
<path d="M265.10 46.30 L269.10 45.10 L271.00 47.00 L272.30 49.50 L271.90 54.30 L270.70 57.40 L267.90 56.20 L267.50 53.10 L265.90 52.70 L263.90 54.30 L260.60 53.10 L262.30 49.50Z" fill="#5c9f62" stroke="#5c9f62" stroke-width="0.6" stroke-linejoin="round"/>
<path d="M282.20 39.20 L283.80 40.40 L284.20 47.90 L285.80 49.50 L287.70 50.30 L288.90 51.90 L288.90 56.20 L286.20 57.00 L282.60 57.40 L281.20 50.30 L281.00 42.30Z" fill="#a47fae" stroke="#a47fae" stroke-width="0.6" stroke-linejoin="round"/>
<text x="257.20" y="43.50" font-size="8.18" text-anchor="start" fill="#222" font-weight="normal" font-style="italic" textLength="19.8" lengthAdjust="spacingAndGlyphs" stroke="#222" stroke-width="0.1">Kni(t)</text>
<text x="287.30" y="47.00" font-size="8.0" text-anchor="start" fill="#222" font-weight="normal" font-style="italic" textLength="13" lengthAdjust="spacingAndGlyphs" stroke="#222" stroke-width="0.1">X(t)</text>
<line x1="271.30" y1="59.00" x2="272.60" y2="66.60" stroke="#e6684c" stroke-width="1.15"/>
<line x1="270.00" y1="66.60" x2="275.20" y2="66.60" stroke="#e6684c" stroke-width="1.15"/>
<line x1="282.60" y1="59.00" x2="281.40" y2="66.60" stroke="#e6684c" stroke-width="1.15"/>
<line x1="278.80" y1="66.60" x2="284.00" y2="66.60" stroke="#e6684c" stroke-width="1.15"/>
<line x1="263.40" y1="74.80" x2="325.00" y2="74.80" stroke="#3c3c3c" stroke-width="1.3"/>
<rect x="268.00" y="70.00" width="15.80" height="4.20" rx="0" fill="#c9bd9a" stroke="#a89c7c" stroke-width="0.5"/>
<rect x="289.60" y="70.00" width="32.00" height="4.20" rx="0" fill="#f0c35c" stroke="#c79a3c" stroke-width="0.5"/>
<polyline points="289.50,74.50 289.50,64.70 294.50,64.70" fill="none" stroke="#222" stroke-width="0.9" stroke-linejoin="round"/>
<path d="M298.10 64.7L293.90 62.4L293.90 67Z" fill="#222"/>
<path d="M373.40 46.40 L378.40 44.80 L380.40 47.40 L381.80 50.10 L381.10 53.40 L380.40 57.60 L377.10 56.80 L376.80 52.80 L374.70 52.10 L372.70 54.40 L369.70 53.40 L371.40 50.10Z" fill="#5c9f62" stroke="#5c9f62" stroke-width="0.6" stroke-linejoin="round"/>
<line x1="381.10" y1="59.40" x2="383.10" y2="66.80" stroke="#e6684c" stroke-width="1.15"/>
<line x1="380.50" y1="66.80" x2="385.70" y2="66.80" stroke="#e6684c" stroke-width="1.15"/>
<text x="385.20" y="52.40" font-size="8.0" text-anchor="start" fill="#222" font-weight="normal" font-style="italic" textLength="20.8" lengthAdjust="spacingAndGlyphs" stroke="#222" stroke-width="0.1">Kni(t)</text>
<line x1="371.20" y1="74.80" x2="432.90" y2="74.80" stroke="#3c3c3c" stroke-width="1.3"/>
<rect x="375.30" y="70.00" width="16.50" height="4.20" rx="0" fill="#c9bd9a" stroke="#a89c7c" stroke-width="0.5"/>
<rect x="397.50" y="70.00" width="31.60" height="4.20" rx="0" fill="#f0c35c" stroke="#c79a3c" stroke-width="0.5"/>
<polyline points="397.30,74.50 397.30,64.70 402.30,64.70" fill="none" stroke="#222" stroke-width="0.9" stroke-linejoin="round"/>
<path d="M405.90 64.7L401.70 62.4L401.70 67Z" fill="#222"/>
<polyline points="261.50,96.33 262.00,96.37 262.50,96.41 263.00,96.46 263.50,96.51 264.00,96.57 264.50,96.64 265.00,96.72 265.50,96.82 266.00,96.93 266.50,97.05 267.00,97.19 267.50,97.35 268.00,97.54 268.50,97.75 269.00,97.99 269.50,98.26 270.00,98.57 270.50,98.92 271.00,99.32 271.50,99.76 272.00,100.26 272.50,100.82 273.00,101.43 273.50,102.12 274.00,102.87 274.50,103.70 275.00,104.60 275.50,105.56 276.00,106.60 276.50,107.70 277.00,108.87 277.50,110.08 278.00,111.33 278.50,112.62 279.00,113.93 279.50,115.24 280.00,116.54 280.50,117.82 281.00,119.07 281.50,120.27 282.00,121.42 282.50,122.51 283.00,123.54 283.50,124.49 284.00,125.37 284.50,126.18 285.00,126.92 285.50,127.59 286.00,128.20 286.50,128.74 287.00,129.23 287.50,129.67 288.00,130.05 288.50,130.39 289.00,130.70 289.50,130.96 290.00,131.20 290.50,131.40 291.00,131.58 291.50,131.74 292.00,131.88 292.50,132.00 293.00,132.10 293.50,132.19 294.00,132.27 294.50,132.34 295.00,132.40 295.50,132.45 296.00,132.50 296.50,132.54 297.00,132.57 297.50,132.60 298.00,132.63 298.50,132.65 299.00,132.67 299.50,132.69 300.00,132.70 300.50,132.72 301.00,132.73 301.50,132.74 302.00,132.75" fill="none" stroke="#d3e8c0" stroke-width="4.8" stroke-linejoin="round" stroke-linecap="round"/>
<polyline points="261.50,96.13 262.00,96.13 262.50,96.14 263.00,96.14 263.50,96.15 264.00,96.16 264.50,96.17 265.00,96.18 265.50,96.19 266.00,96.21 266.50,96.23 267.00,96.25 267.50,96.27 268.00,96.29 268.50,96.33 269.00,96.36 269.50,96.40 270.00,96.45 270.50,96.50 271.00,96.57 271.50,96.64 272.00,96.72 272.50,96.82 273.00,96.93 273.50,97.06 274.00,97.21 274.50,97.38 275.00,97.57 275.50,97.79 276.00,98.05 276.50,98.34 277.00,98.67 277.50,99.04 278.00,99.46 278.50,99.94 279.00,100.47 279.50,101.07 280.00,101.74 280.50,102.48 281.00,103.29 281.50,104.18 282.00,105.14 282.50,106.18 283.00,107.29 283.50,108.47 284.00,109.70 284.50,110.98 285.00,112.30 285.50,113.64 286.00,114.99 286.50,116.33 287.00,117.66 287.50,118.94 288.00,120.19 288.50,121.38 289.00,122.50 289.50,123.55 290.00,124.53 290.50,125.44 291.00,126.26 291.50,127.02 292.00,127.70 292.50,128.31 293.00,128.86 293.50,129.35 294.00,129.78 294.50,130.16 295.00,130.50 295.50,130.80 296.00,131.06 296.50,131.29 297.00,131.49 297.50,131.66 298.00,131.81 298.50,131.94 299.00,132.06 299.50,132.16 300.00,132.25 300.50,132.32 301.00,132.38 301.50,132.44 302.00,132.49 302.50,132.53 303.00,132.57 303.50,132.60 304.00,132.63 304.50,132.65 305.00,132.67 305.50,132.69 306.00,132.70 306.50,132.72 307.00,132.73 307.50,132.74 308.00,132.75 308.50,132.75 309.00,132.76 309.50,132.77 310.00,132.77" fill="none" stroke="#a8cf8c" stroke-width="3" stroke-linejoin="round" stroke-linecap="round"/>
<polyline points="261.50,96.10 262.00,96.10 262.50,96.10 263.00,96.10 263.50,96.10 264.00,96.10 264.50,96.10 265.00,96.11 265.50,96.11 266.00,96.11 266.50,96.11 267.00,96.11 267.50,96.11 268.00,96.11 268.50,96.12 269.00,96.12 269.50,96.12 270.00,96.13 270.50,96.13 271.00,96.14 271.50,96.14 272.00,96.15 272.50,96.16 273.00,96.17 273.50,96.18 274.00,96.19 274.50,96.20 275.00,96.22 275.50,96.24 276.00,96.26 276.50,96.29 277.00,96.32 277.50,96.35 278.00,96.39 278.50,96.44 279.00,96.50 279.50,96.56 280.00,96.64 280.50,96.72 281.00,96.82 281.50,96.94 282.00,97.07 282.50,97.22 283.00,97.40 283.50,97.61 284.00,97.84 284.50,98.11 285.00,98.42 285.50,98.77 286.00,99.17 286.50,99.62 287.00,100.14 287.50,100.71 288.00,101.36 288.50,102.08 289.00,102.88 289.50,103.76 290.00,104.71 290.50,105.75 291.00,106.87 291.50,108.06 292.00,109.31 292.50,110.61 293.00,111.96 293.50,113.34 294.00,114.73 294.50,116.11 295.00,117.48 295.50,118.81 296.00,120.10 296.50,121.33 297.00,122.49 297.50,123.57 298.00,124.58 298.50,125.50 299.00,126.35 299.50,127.12 300.00,127.81 300.50,128.43 301.00,128.98 301.50,129.46 302.00,129.90 302.50,130.28 303.00,130.61 303.50,130.90 304.00,131.16 304.50,131.38 305.00,131.57 305.50,131.74 306.00,131.89 306.50,132.01 307.00,132.12 307.50,132.21 308.00,132.30 308.50,132.37 309.00,132.43 309.50,132.48 310.00,132.52 310.50,132.56 311.00,132.59 311.50,132.62 312.00,132.65 312.50,132.67 313.00,132.69 313.50,132.70 314.00,132.72 314.50,132.73 315.00,132.74 315.50,132.75 316.00,132.75 316.50,132.76 317.00,132.77 317.50,132.77 318.00,132.78 318.50,132.78 319.00,132.78" fill="none" stroke="#62a462" stroke-width="1.7" stroke-linejoin="round" stroke-linecap="round"/>
<line x1="258.10" y1="134.30" x2="258.10" y2="95.30" stroke="#555" stroke-width="1.3"/>
<line x1="258.10" y1="134.30" x2="319.00" y2="134.30" stroke="#555" stroke-width="1.3"/>
<path d="M258.10 89.30L260.90 97.30L258.10 95.80L255.30 97.30Z" fill="#555"/>
<path d="M325.00 134.30L317.00 131.50L318.50 134.30L317.00 137.10Z" fill="#555"/>
<line x1="298.90" y1="107.30" x2="273.00" y2="118.30" stroke="#8a8a8a" stroke-width="2"/>
<path d="M268.2 120.4L275.4 114.6L277.8 120.2Z" fill="#8a8a8a"/>
<text x="254.40" y="115.30" font-size="9.86" text-anchor="middle" fill="#1a1a1a" font-weight="normal" font-style="normal" transform="rotate(-90 254.40 115.30)" textLength="16.9" lengthAdjust="spacingAndGlyphs" stroke="#1a1a1a" stroke-width="0.1">rate</text>
<text x="288.50" y="145.40" font-size="9.86" text-anchor="middle" fill="#1a1a1a" font-weight="normal" font-style="normal" textLength="33.8" lengthAdjust="spacingAndGlyphs" stroke="#1a1a1a" stroke-width="0.1">[Knirps]</text>
<text x="321.10" y="92.90" font-size="8.93" text-anchor="middle" fill="#222" font-weight="normal" font-style="normal" textLength="42.6" lengthAdjust="spacingAndGlyphs" stroke="#222" stroke-width="0.1">increased</text>
<text x="320.80" y="103.90" font-size="8.93" text-anchor="middle" fill="#222" font-weight="normal" font-style="normal" textLength="53.2" lengthAdjust="spacingAndGlyphs" stroke="#222" stroke-width="0.1">illumination</text>
<polyline points="368.00,95.56 368.50,95.56 369.00,95.58 369.50,95.59 370.00,95.60 370.50,95.62 371.00,95.64 371.50,95.66 372.00,95.69 372.50,95.72 373.00,95.75 373.50,95.79 374.00,95.84 374.50,95.89 375.00,95.96 375.50,96.03 376.00,96.12 376.50,96.22 377.00,96.33 377.50,96.46 378.00,96.62 378.50,96.79 379.00,96.99 379.50,97.23 380.00,97.50 380.50,97.80 381.00,98.15 381.50,98.55 382.00,99.00 382.50,99.51 383.00,100.09 383.50,100.74 384.00,101.46 384.50,102.26 385.00,103.14 385.50,104.10 386.00,105.14 386.50,106.27 387.00,107.47 387.50,108.74 388.00,110.06 388.50,111.43 389.00,112.83 389.50,114.25 390.00,115.67 390.50,117.07 391.00,118.44 391.50,119.76 392.00,121.03 392.50,122.23 393.00,123.36 393.50,124.40 394.00,125.36 394.50,126.24 395.00,127.04 395.50,127.76 396.00,128.41 396.50,128.99 397.00,129.50 397.50,129.95 398.00,130.35 398.50,130.70 399.00,131.00 399.50,131.27 400.00,131.51 400.50,131.71 401.00,131.88 401.50,132.04 402.00,132.17 402.50,132.28 403.00,132.38 403.50,132.47 404.00,132.54 404.50,132.61 405.00,132.66 405.50,132.71 406.00,132.75 406.50,132.78 407.00,132.81 407.50,132.84 408.00,132.86 408.50,132.88 409.00,132.90 409.50,132.91 410.00,132.92 410.50,132.94 411.00,132.94 411.50,132.95 412.00,132.96 412.50,132.96 413.00,132.97 413.50,132.97 414.00,132.98 414.50,132.98 415.00,132.98 415.50,132.99 416.00,132.99 416.50,132.99 417.00,132.99 417.50,132.99 418.00,132.99" fill="none" stroke="#72b272" stroke-width="3.2" stroke-linejoin="round" stroke-linecap="round"/>
<line x1="365.50" y1="134.30" x2="365.50" y2="95.30" stroke="#555" stroke-width="1.3"/>
<line x1="365.50" y1="134.30" x2="426.00" y2="134.30" stroke="#555" stroke-width="1.3"/>
<path d="M365.50 89.30L368.30 97.30L365.50 95.80L362.70 97.30Z" fill="#555"/>
<path d="M432.00 134.30L424.00 131.50L425.50 134.30L424.00 137.10Z" fill="#555"/>
<text x="362.30" y="114.70" font-size="9.86" text-anchor="middle" fill="#1a1a1a" font-weight="normal" font-style="normal" transform="rotate(-90 362.30 114.70)" textLength="16.9" lengthAdjust="spacingAndGlyphs" stroke="#1a1a1a" stroke-width="0.1">rate</text>
<text x="396.00" y="145.40" font-size="9.86" text-anchor="middle" fill="#1a1a1a" font-weight="normal" font-style="normal" textLength="34.5" lengthAdjust="spacingAndGlyphs" stroke="#1a1a1a" stroke-width="0.1">[Knirps]</text>
<text x="394.20" y="106.40" font-size="8.93" text-anchor="start" fill="#222" font-weight="normal" font-style="normal" textLength="42" lengthAdjust="spacingAndGlyphs" stroke="#222" stroke-width="0.1">collapsed</text>
<text x="394.20" y="116.70" font-size="8.93" text-anchor="start" fill="#222" font-weight="normal" font-style="normal" textLength="28.2" lengthAdjust="spacingAndGlyphs" stroke="#222" stroke-width="0.1">curves</text>
<text x="228.60" y="182.60" font-size="12" text-anchor="start" fill="#111" font-weight="bold" font-style="normal" stroke="#111" stroke-width="0.1">D</text>
<line x1="257.70" y1="178.40" x2="257.70" y2="293.90" stroke="#666" stroke-width="1"/>
<line x1="257.70" y1="293.70" x2="430.60" y2="293.70" stroke="#666" stroke-width="1"/>
<line x1="257.70" y1="288.30" x2="259.20" y2="288.30" stroke="#666" stroke-width="0.8"/>
<text x="255.40" y="291.92" font-size="10.2" text-anchor="end" fill="#474747" font-weight="normal" font-style="normal" textLength="5.1" lengthAdjust="spacingAndGlyphs" stroke="#474747" stroke-width="0.1">0</text>
<line x1="257.70" y1="277.37" x2="259.20" y2="277.37" stroke="#666" stroke-width="0.8"/>
<text x="255.40" y="280.99" font-size="10.2" text-anchor="end" fill="#474747" font-weight="normal" font-style="normal" textLength="5.1" lengthAdjust="spacingAndGlyphs" stroke="#474747" stroke-width="0.1">2</text>
<line x1="257.70" y1="266.44" x2="259.20" y2="266.44" stroke="#666" stroke-width="0.8"/>
<text x="255.40" y="270.06" font-size="10.2" text-anchor="end" fill="#474747" font-weight="normal" font-style="normal" textLength="5.1" lengthAdjust="spacingAndGlyphs" stroke="#474747" stroke-width="0.1">4</text>
<line x1="257.70" y1="255.51" x2="259.20" y2="255.51" stroke="#666" stroke-width="0.8"/>
<text x="255.40" y="259.13" font-size="10.2" text-anchor="end" fill="#474747" font-weight="normal" font-style="normal" textLength="5.1" lengthAdjust="spacingAndGlyphs" stroke="#474747" stroke-width="0.1">6</text>
<line x1="257.70" y1="244.58" x2="259.20" y2="244.58" stroke="#666" stroke-width="0.8"/>
<text x="255.40" y="248.20" font-size="10.2" text-anchor="end" fill="#474747" font-weight="normal" font-style="normal" textLength="5.1" lengthAdjust="spacingAndGlyphs" stroke="#474747" stroke-width="0.1">8</text>
<line x1="257.70" y1="233.65" x2="259.20" y2="233.65" stroke="#666" stroke-width="0.8"/>
<text x="255.40" y="237.27" font-size="10.2" text-anchor="end" fill="#474747" font-weight="normal" font-style="normal" textLength="10.2" lengthAdjust="spacingAndGlyphs" stroke="#474747" stroke-width="0.1">10</text>
<line x1="257.70" y1="222.72" x2="259.20" y2="222.72" stroke="#666" stroke-width="0.8"/>
<text x="255.40" y="226.34" font-size="10.2" text-anchor="end" fill="#474747" font-weight="normal" font-style="normal" textLength="10.2" lengthAdjust="spacingAndGlyphs" stroke="#474747" stroke-width="0.1">12</text>
<line x1="257.70" y1="211.79" x2="259.20" y2="211.79" stroke="#666" stroke-width="0.8"/>
<text x="255.40" y="215.41" font-size="10.2" text-anchor="end" fill="#474747" font-weight="normal" font-style="normal" textLength="10.2" lengthAdjust="spacingAndGlyphs" stroke="#474747" stroke-width="0.1">14</text>
<line x1="257.70" y1="200.86" x2="259.20" y2="200.86" stroke="#666" stroke-width="0.8"/>
<text x="255.40" y="204.48" font-size="10.2" text-anchor="end" fill="#474747" font-weight="normal" font-style="normal" textLength="10.2" lengthAdjust="spacingAndGlyphs" stroke="#474747" stroke-width="0.1">16</text>
<line x1="257.70" y1="189.93" x2="259.20" y2="189.93" stroke="#666" stroke-width="0.8"/>
<text x="255.40" y="193.55" font-size="10.2" text-anchor="end" fill="#474747" font-weight="normal" font-style="normal" textLength="10.2" lengthAdjust="spacingAndGlyphs" stroke="#474747" stroke-width="0.1">18</text>
<line x1="257.70" y1="179.00" x2="259.20" y2="179.00" stroke="#666" stroke-width="0.8"/>
<text x="255.40" y="182.62" font-size="10.2" text-anchor="end" fill="#474747" font-weight="normal" font-style="normal" textLength="10.2" lengthAdjust="spacingAndGlyphs" stroke="#474747" stroke-width="0.1">20</text>
<line x1="257.70" y1="293.70" x2="257.70" y2="292.10" stroke="#666" stroke-width="0.8"/>
<text x="257.70" y="303.82" font-size="10.2" text-anchor="middle" fill="#474747" font-weight="normal" font-style="normal" textLength="5.0" lengthAdjust="spacingAndGlyphs" stroke="#474747" stroke-width="0.1">2</text>
<line x1="274.98" y1="293.70" x2="274.98" y2="292.10" stroke="#666" stroke-width="0.8"/>
<text x="274.98" y="303.82" font-size="10.2" text-anchor="middle" fill="#474747" font-weight="normal" font-style="normal" textLength="5.0" lengthAdjust="spacingAndGlyphs" stroke="#474747" stroke-width="0.1">3</text>
<line x1="292.26" y1="293.70" x2="292.26" y2="292.10" stroke="#666" stroke-width="0.8"/>
<text x="292.26" y="303.82" font-size="10.2" text-anchor="middle" fill="#474747" font-weight="normal" font-style="normal" textLength="5.0" lengthAdjust="spacingAndGlyphs" stroke="#474747" stroke-width="0.1">4</text>
<line x1="309.54" y1="293.70" x2="309.54" y2="292.10" stroke="#666" stroke-width="0.8"/>
<text x="309.54" y="303.82" font-size="10.2" text-anchor="middle" fill="#474747" font-weight="normal" font-style="normal" textLength="5.0" lengthAdjust="spacingAndGlyphs" stroke="#474747" stroke-width="0.1">5</text>
<line x1="326.82" y1="293.70" x2="326.82" y2="292.10" stroke="#666" stroke-width="0.8"/>
<text x="326.82" y="303.82" font-size="10.2" text-anchor="middle" fill="#474747" font-weight="normal" font-style="normal" textLength="5.0" lengthAdjust="spacingAndGlyphs" stroke="#474747" stroke-width="0.1">6</text>
<line x1="344.10" y1="293.70" x2="344.10" y2="292.10" stroke="#666" stroke-width="0.8"/>
<text x="344.10" y="303.82" font-size="10.2" text-anchor="middle" fill="#474747" font-weight="normal" font-style="normal" textLength="5.0" lengthAdjust="spacingAndGlyphs" stroke="#474747" stroke-width="0.1">7</text>
<line x1="361.38" y1="293.70" x2="361.38" y2="292.10" stroke="#666" stroke-width="0.8"/>
<text x="361.38" y="303.82" font-size="10.2" text-anchor="middle" fill="#474747" font-weight="normal" font-style="normal" textLength="5.0" lengthAdjust="spacingAndGlyphs" stroke="#474747" stroke-width="0.1">8</text>
<line x1="378.66" y1="293.70" x2="378.66" y2="292.10" stroke="#666" stroke-width="0.8"/>
<text x="378.66" y="303.82" font-size="10.2" text-anchor="middle" fill="#474747" font-weight="normal" font-style="normal" textLength="5.0" lengthAdjust="spacingAndGlyphs" stroke="#474747" stroke-width="0.1">9</text>
<line x1="395.94" y1="293.70" x2="395.94" y2="292.10" stroke="#666" stroke-width="0.8"/>
<text x="395.94" y="303.82" font-size="10.2" text-anchor="middle" fill="#474747" font-weight="normal" font-style="normal" textLength="10.0" lengthAdjust="spacingAndGlyphs" stroke="#474747" stroke-width="0.1">10</text>
<line x1="413.22" y1="293.70" x2="413.22" y2="292.10" stroke="#666" stroke-width="0.8"/>
<text x="413.22" y="303.82" font-size="10.2" text-anchor="middle" fill="#474747" font-weight="normal" font-style="normal" textLength="10.0" lengthAdjust="spacingAndGlyphs" stroke="#474747" stroke-width="0.1">11</text>
<line x1="430.50" y1="293.70" x2="430.50" y2="292.10" stroke="#666" stroke-width="0.8"/>
<text x="430.50" y="303.82" font-size="10.2" text-anchor="middle" fill="#474747" font-weight="normal" font-style="normal" textLength="10.0" lengthAdjust="spacingAndGlyphs" stroke="#474747" stroke-width="0.1">12</text>
<text x="344.50" y="312.60" font-size="9.3" text-anchor="middle" fill="#3a3a3a" font-weight="normal" font-style="normal" textLength="54.5" lengthAdjust="spacingAndGlyphs" stroke="#3a3a3a" stroke-width="0.1">[Knirps] (au)</text>
<text x="239.50" y="238.20" font-size="9.3" text-anchor="middle" fill="#3a3a3a" font-weight="normal" font-style="normal" transform="rotate(-90 239.50 238.20)" textLength="96" lengthAdjust="spacingAndGlyphs" stroke="#3a3a3a" stroke-width="0.1">transcription rate (au)</text>
<line x1="267.50" y1="199.20" x2="267.50" y2="205.20" stroke="#a9cc98" stroke-width="0.6"/>
<line x1="265.30" y1="202.20" x2="269.70" y2="202.20" stroke="#a9cc98" stroke-width="0.6"/>
<line x1="269.20" y1="200.10" x2="269.20" y2="206.10" stroke="#a9cc98" stroke-width="0.6"/>
<line x1="267.00" y1="203.10" x2="271.40" y2="203.10" stroke="#a9cc98" stroke-width="0.6"/>
<line x1="271.20" y1="190.70" x2="271.20" y2="196.70" stroke="#a9cc98" stroke-width="0.6"/>
<line x1="269.00" y1="193.70" x2="273.40" y2="193.70" stroke="#a9cc98" stroke-width="0.6"/>
<line x1="272.90" y1="195.20" x2="272.90" y2="201.20" stroke="#a9cc98" stroke-width="0.6"/>
<line x1="270.70" y1="198.20" x2="275.10" y2="198.20" stroke="#a9cc98" stroke-width="0.6"/>
<line x1="274.80" y1="189.10" x2="274.80" y2="195.10" stroke="#a9cc98" stroke-width="0.6"/>
<line x1="272.60" y1="192.10" x2="277.00" y2="192.10" stroke="#a9cc98" stroke-width="0.6"/>
<line x1="276.90" y1="185.20" x2="276.90" y2="191.20" stroke="#a9cc98" stroke-width="0.6"/>
<line x1="274.70" y1="188.20" x2="279.10" y2="188.20" stroke="#a9cc98" stroke-width="0.6"/>
<line x1="279.70" y1="191.30" x2="279.70" y2="197.30" stroke="#a9cc98" stroke-width="0.6"/>
<line x1="277.50" y1="194.30" x2="281.90" y2="194.30" stroke="#a9cc98" stroke-width="0.6"/>
<line x1="281.80" y1="191.90" x2="281.80" y2="197.90" stroke="#a9cc98" stroke-width="0.6"/>
<line x1="279.60" y1="194.90" x2="284.00" y2="194.90" stroke="#a9cc98" stroke-width="0.6"/>
<line x1="283.60" y1="192.50" x2="283.60" y2="198.50" stroke="#a9cc98" stroke-width="0.6"/>
<line x1="281.40" y1="195.50" x2="285.80" y2="195.50" stroke="#a9cc98" stroke-width="0.6"/>
<line x1="285.80" y1="194.00" x2="285.80" y2="200.00" stroke="#a9cc98" stroke-width="0.6"/>
<line x1="283.60" y1="197.00" x2="288.00" y2="197.00" stroke="#a9cc98" stroke-width="0.6"/>
<line x1="288.50" y1="188.90" x2="288.50" y2="194.90" stroke="#a9cc98" stroke-width="0.6"/>
<line x1="286.30" y1="191.90" x2="290.70" y2="191.90" stroke="#a9cc98" stroke-width="0.6"/>
<line x1="290.30" y1="187.90" x2="290.30" y2="193.90" stroke="#a9cc98" stroke-width="0.6"/>
<line x1="288.10" y1="190.90" x2="292.50" y2="190.90" stroke="#a9cc98" stroke-width="0.6"/>
<line x1="292.80" y1="193.70" x2="292.80" y2="199.70" stroke="#a9cc98" stroke-width="0.6"/>
<line x1="290.60" y1="196.70" x2="295.00" y2="196.70" stroke="#a9cc98" stroke-width="0.6"/>
<line x1="294.00" y1="195.20" x2="294.00" y2="201.20" stroke="#a9cc98" stroke-width="0.6"/>
<line x1="291.80" y1="198.20" x2="296.20" y2="198.20" stroke="#a9cc98" stroke-width="0.6"/>
<line x1="295.80" y1="198.00" x2="295.80" y2="204.00" stroke="#a9cc98" stroke-width="0.6"/>
<line x1="293.60" y1="201.00" x2="298.00" y2="201.00" stroke="#a9cc98" stroke-width="0.6"/>
<line x1="299.50" y1="206.20" x2="299.50" y2="212.20" stroke="#a9cc98" stroke-width="0.6"/>
<line x1="297.30" y1="209.20" x2="301.70" y2="209.20" stroke="#a9cc98" stroke-width="0.6"/>
<line x1="301.70" y1="203.50" x2="301.70" y2="209.50" stroke="#a9cc98" stroke-width="0.6"/>
<line x1="299.50" y1="206.50" x2="303.90" y2="206.50" stroke="#a9cc98" stroke-width="0.6"/>
<line x1="305.60" y1="205.90" x2="305.60" y2="211.90" stroke="#a9cc98" stroke-width="0.6"/>
<line x1="303.40" y1="208.90" x2="307.80" y2="208.90" stroke="#a9cc98" stroke-width="0.6"/>
<line x1="296.20" y1="197.50" x2="296.20" y2="203.50" stroke="#a9cc98" stroke-width="0.6"/>
<line x1="294.00" y1="200.50" x2="298.40" y2="200.50" stroke="#a9cc98" stroke-width="0.6"/>
<line x1="299.30" y1="206.40" x2="299.30" y2="212.40" stroke="#a9cc98" stroke-width="0.6"/>
<line x1="297.10" y1="209.40" x2="301.50" y2="209.40" stroke="#a9cc98" stroke-width="0.6"/>
<line x1="302.10" y1="203.60" x2="302.10" y2="209.60" stroke="#a9cc98" stroke-width="0.6"/>
<line x1="299.90" y1="206.60" x2="304.30" y2="206.60" stroke="#a9cc98" stroke-width="0.6"/>
<line x1="306.00" y1="206.40" x2="306.00" y2="212.40" stroke="#a9cc98" stroke-width="0.6"/>
<line x1="303.80" y1="209.40" x2="308.20" y2="209.40" stroke="#a9cc98" stroke-width="0.6"/>
<line x1="307.20" y1="214.20" x2="307.20" y2="220.20" stroke="#a9cc98" stroke-width="0.6"/>
<line x1="305.00" y1="217.20" x2="309.40" y2="217.20" stroke="#a9cc98" stroke-width="0.6"/>
<line x1="310.20" y1="214.20" x2="310.20" y2="220.20" stroke="#a9cc98" stroke-width="0.6"/>
<line x1="308.00" y1="217.20" x2="312.40" y2="217.20" stroke="#a9cc98" stroke-width="0.6"/>
<line x1="313.30" y1="214.90" x2="313.30" y2="220.90" stroke="#a9cc98" stroke-width="0.6"/>
<line x1="311.10" y1="217.90" x2="315.50" y2="217.90" stroke="#a9cc98" stroke-width="0.6"/>
<line x1="317.60" y1="220.30" x2="317.60" y2="226.30" stroke="#a9cc98" stroke-width="0.6"/>
<line x1="315.40" y1="223.30" x2="319.80" y2="223.30" stroke="#a9cc98" stroke-width="0.6"/>
<line x1="315.10" y1="222.50" x2="315.10" y2="228.50" stroke="#a9cc98" stroke-width="0.6"/>
<line x1="312.90" y1="225.50" x2="317.30" y2="225.50" stroke="#a9cc98" stroke-width="0.6"/>
<line x1="318.80" y1="228.30" x2="318.80" y2="234.30" stroke="#a9cc98" stroke-width="0.6"/>
<line x1="316.60" y1="231.30" x2="321.00" y2="231.30" stroke="#a9cc98" stroke-width="0.6"/>
<line x1="322.40" y1="229.80" x2="322.40" y2="235.80" stroke="#a9cc98" stroke-width="0.6"/>
<line x1="320.20" y1="232.80" x2="324.60" y2="232.80" stroke="#a9cc98" stroke-width="0.6"/>
<line x1="326.10" y1="231.30" x2="326.10" y2="237.30" stroke="#a9cc98" stroke-width="0.6"/>
<line x1="323.90" y1="234.30" x2="328.30" y2="234.30" stroke="#a9cc98" stroke-width="0.6"/>
<line x1="325.90" y1="232.30" x2="325.90" y2="238.30" stroke="#a9cc98" stroke-width="0.6"/>
<line x1="323.70" y1="235.30" x2="328.10" y2="235.30" stroke="#a9cc98" stroke-width="0.6"/>
<line x1="329.10" y1="236.00" x2="329.10" y2="242.00" stroke="#a9cc98" stroke-width="0.6"/>
<line x1="326.90" y1="239.00" x2="331.30" y2="239.00" stroke="#a9cc98" stroke-width="0.6"/>
<line x1="332.20" y1="236.00" x2="332.20" y2="242.00" stroke="#a9cc98" stroke-width="0.6"/>
<line x1="330.00" y1="239.00" x2="334.40" y2="239.00" stroke="#a9cc98" stroke-width="0.6"/>
<line x1="334.60" y1="243.30" x2="334.60" y2="249.30" stroke="#a9cc98" stroke-width="0.6"/>
<line x1="332.40" y1="246.30" x2="336.80" y2="246.30" stroke="#a9cc98" stroke-width="0.6"/>
<line x1="338.30" y1="245.10" x2="338.30" y2="251.10" stroke="#a9cc98" stroke-width="0.6"/>
<line x1="336.10" y1="248.10" x2="340.50" y2="248.10" stroke="#a9cc98" stroke-width="0.6"/>
<line x1="341.70" y1="250.00" x2="341.70" y2="256.00" stroke="#a9cc98" stroke-width="0.6"/>
<line x1="339.50" y1="253.00" x2="343.90" y2="253.00" stroke="#a9cc98" stroke-width="0.6"/>
<line x1="344.40" y1="254.90" x2="344.40" y2="260.90" stroke="#a9cc98" stroke-width="0.6"/>
<line x1="342.20" y1="257.90" x2="346.60" y2="257.90" stroke="#a9cc98" stroke-width="0.6"/>
<line x1="349.30" y1="255.20" x2="349.30" y2="261.20" stroke="#a9cc98" stroke-width="0.6"/>
<line x1="347.10" y1="258.20" x2="351.50" y2="258.20" stroke="#a9cc98" stroke-width="0.6"/>
<line x1="352.30" y1="259.10" x2="352.30" y2="265.10" stroke="#a9cc98" stroke-width="0.6"/>
<line x1="350.10" y1="262.10" x2="354.50" y2="262.10" stroke="#a9cc98" stroke-width="0.6"/>
<line x1="356.00" y1="261.00" x2="356.00" y2="267.00" stroke="#a9cc98" stroke-width="0.6"/>
<line x1="353.80" y1="264.00" x2="358.20" y2="264.00" stroke="#a9cc98" stroke-width="0.6"/>
<line x1="359.60" y1="263.80" x2="359.60" y2="269.80" stroke="#a9cc98" stroke-width="0.6"/>
<line x1="357.40" y1="266.80" x2="361.80" y2="266.80" stroke="#a9cc98" stroke-width="0.6"/>
<line x1="350.60" y1="255.70" x2="350.60" y2="261.70" stroke="#a9cc98" stroke-width="0.6"/>
<line x1="348.40" y1="258.70" x2="352.80" y2="258.70" stroke="#a9cc98" stroke-width="0.6"/>
<line x1="353.70" y1="262.70" x2="353.70" y2="268.70" stroke="#a9cc98" stroke-width="0.6"/>
<line x1="351.50" y1="265.70" x2="355.90" y2="265.70" stroke="#a9cc98" stroke-width="0.6"/>
<line x1="356.10" y1="261.10" x2="356.10" y2="267.10" stroke="#a9cc98" stroke-width="0.6"/>
<line x1="353.90" y1="264.10" x2="358.30" y2="264.10" stroke="#a9cc98" stroke-width="0.6"/>
<line x1="357.30" y1="263.60" x2="357.30" y2="269.60" stroke="#a9cc98" stroke-width="0.6"/>
<line x1="355.10" y1="266.60" x2="359.50" y2="266.60" stroke="#a9cc98" stroke-width="0.6"/>
<line x1="358.80" y1="265.40" x2="358.80" y2="271.40" stroke="#a9cc98" stroke-width="0.6"/>
<line x1="356.60" y1="268.40" x2="361.00" y2="268.40" stroke="#a9cc98" stroke-width="0.6"/>
<line x1="361.00" y1="264.80" x2="361.00" y2="270.80" stroke="#a9cc98" stroke-width="0.6"/>
<line x1="358.80" y1="267.80" x2="363.20" y2="267.80" stroke="#a9cc98" stroke-width="0.6"/>
<line x1="362.80" y1="268.50" x2="362.80" y2="274.50" stroke="#a9cc98" stroke-width="0.6"/>
<line x1="360.60" y1="271.50" x2="365.00" y2="271.50" stroke="#a9cc98" stroke-width="0.6"/>
<line x1="365.20" y1="270.50" x2="365.20" y2="276.50" stroke="#a9cc98" stroke-width="0.6"/>
<line x1="363.00" y1="273.50" x2="367.40" y2="273.50" stroke="#a9cc98" stroke-width="0.6"/>
<line x1="367.10" y1="274.60" x2="367.10" y2="280.60" stroke="#a9cc98" stroke-width="0.6"/>
<line x1="364.90" y1="277.60" x2="369.30" y2="277.60" stroke="#a9cc98" stroke-width="0.6"/>
<line x1="368.30" y1="276.40" x2="368.30" y2="282.40" stroke="#a9cc98" stroke-width="0.6"/>
<line x1="366.10" y1="279.40" x2="370.50" y2="279.40" stroke="#a9cc98" stroke-width="0.6"/>
<line x1="370.10" y1="278.20" x2="370.10" y2="284.20" stroke="#a9cc98" stroke-width="0.6"/>
<line x1="367.90" y1="281.20" x2="372.30" y2="281.20" stroke="#a9cc98" stroke-width="0.6"/>
<line x1="372.60" y1="279.40" x2="372.60" y2="285.40" stroke="#a9cc98" stroke-width="0.6"/>
<line x1="370.40" y1="282.40" x2="374.80" y2="282.40" stroke="#a9cc98" stroke-width="0.6"/>
<line x1="375.60" y1="280.70" x2="375.60" y2="286.70" stroke="#a9cc98" stroke-width="0.6"/>
<line x1="373.40" y1="283.70" x2="377.80" y2="283.70" stroke="#a9cc98" stroke-width="0.6"/>
<line x1="379.30" y1="281.30" x2="379.30" y2="287.30" stroke="#a9cc98" stroke-width="0.6"/>
<line x1="377.10" y1="284.30" x2="381.50" y2="284.30" stroke="#a9cc98" stroke-width="0.6"/>
<line x1="382.30" y1="282.50" x2="382.30" y2="288.50" stroke="#a9cc98" stroke-width="0.6"/>
<line x1="380.10" y1="285.50" x2="384.50" y2="285.50" stroke="#a9cc98" stroke-width="0.6"/>
<line x1="385.40" y1="283.10" x2="385.40" y2="289.10" stroke="#a9cc98" stroke-width="0.6"/>
<line x1="383.20" y1="286.10" x2="387.60" y2="286.10" stroke="#a9cc98" stroke-width="0.6"/>
<line x1="387.80" y1="281.00" x2="387.80" y2="287.00" stroke="#a9cc98" stroke-width="0.6"/>
<line x1="385.60" y1="284.00" x2="390.00" y2="284.00" stroke="#a9cc98" stroke-width="0.6"/>
<line x1="390.20" y1="284.00" x2="390.20" y2="290.00" stroke="#a9cc98" stroke-width="0.6"/>
<line x1="388.00" y1="287.00" x2="392.40" y2="287.00" stroke="#a9cc98" stroke-width="0.6"/>
<line x1="392.70" y1="283.50" x2="392.70" y2="289.50" stroke="#a9cc98" stroke-width="0.6"/>
<line x1="390.50" y1="286.50" x2="394.90" y2="286.50" stroke="#a9cc98" stroke-width="0.6"/>
<line x1="395.10" y1="284.30" x2="395.10" y2="290.30" stroke="#a9cc98" stroke-width="0.6"/>
<line x1="392.90" y1="287.30" x2="397.30" y2="287.30" stroke="#a9cc98" stroke-width="0.6"/>
<line x1="397.60" y1="282.20" x2="397.60" y2="288.20" stroke="#a9cc98" stroke-width="0.6"/>
<line x1="395.40" y1="285.20" x2="399.80" y2="285.20" stroke="#a9cc98" stroke-width="0.6"/>
<line x1="278.00" y1="189.50" x2="278.00" y2="195.50" stroke="#a9cc98" stroke-width="0.6"/>
<line x1="275.80" y1="192.50" x2="280.20" y2="192.50" stroke="#a9cc98" stroke-width="0.6"/>
<line x1="286.50" y1="190.50" x2="286.50" y2="196.50" stroke="#a9cc98" stroke-width="0.6"/>
<line x1="284.30" y1="193.50" x2="288.70" y2="193.50" stroke="#a9cc98" stroke-width="0.6"/>
<line x1="303.50" y1="201.00" x2="303.50" y2="207.00" stroke="#a9cc98" stroke-width="0.6"/>
<line x1="301.30" y1="204.00" x2="305.70" y2="204.00" stroke="#a9cc98" stroke-width="0.6"/>
<line x1="311.50" y1="211.50" x2="311.50" y2="217.50" stroke="#a9cc98" stroke-width="0.6"/>
<line x1="309.30" y1="214.50" x2="313.70" y2="214.50" stroke="#a9cc98" stroke-width="0.6"/>
<line x1="320.00" y1="225.50" x2="320.00" y2="231.50" stroke="#a9cc98" stroke-width="0.6"/>
<line x1="317.80" y1="228.50" x2="322.20" y2="228.50" stroke="#a9cc98" stroke-width="0.6"/>
<line x1="336.00" y1="241.00" x2="336.00" y2="247.00" stroke="#a9cc98" stroke-width="0.6"/>
<line x1="333.80" y1="244.00" x2="338.20" y2="244.00" stroke="#a9cc98" stroke-width="0.6"/>
<line x1="346.50" y1="252.50" x2="346.50" y2="258.50" stroke="#a9cc98" stroke-width="0.6"/>
<line x1="344.30" y1="255.50" x2="348.70" y2="255.50" stroke="#a9cc98" stroke-width="0.6"/>
<line x1="364.00" y1="267.00" x2="364.00" y2="273.00" stroke="#a9cc98" stroke-width="0.6"/>
<line x1="361.80" y1="270.00" x2="366.20" y2="270.00" stroke="#a9cc98" stroke-width="0.6"/>
<line x1="378.24" y1="274.75" x2="378.24" y2="280.75" stroke="#a9cc98" stroke-width="0.6"/>
<line x1="376.04" y1="277.75" x2="380.44" y2="277.75" stroke="#a9cc98" stroke-width="0.6"/>
<line x1="281.59" y1="181.87" x2="281.59" y2="187.87" stroke="#a9cc98" stroke-width="0.6"/>
<line x1="279.39" y1="184.87" x2="283.79" y2="184.87" stroke="#a9cc98" stroke-width="0.6"/>
<line x1="310.59" y1="204.83" x2="310.59" y2="210.83" stroke="#a9cc98" stroke-width="0.6"/>
<line x1="308.39" y1="207.83" x2="312.79" y2="207.83" stroke="#a9cc98" stroke-width="0.6"/>
<line x1="366.94" y1="276.57" x2="366.94" y2="282.57" stroke="#a9cc98" stroke-width="0.6"/>
<line x1="364.74" y1="279.57" x2="369.14" y2="279.57" stroke="#a9cc98" stroke-width="0.6"/>
<line x1="302.97" y1="200.42" x2="302.97" y2="206.42" stroke="#a9cc98" stroke-width="0.6"/>
<line x1="300.77" y1="203.42" x2="305.17" y2="203.42" stroke="#a9cc98" stroke-width="0.6"/>
<line x1="377.46" y1="278.65" x2="377.46" y2="284.65" stroke="#a9cc98" stroke-width="0.6"/>
<line x1="375.26" y1="281.65" x2="379.66" y2="281.65" stroke="#a9cc98" stroke-width="0.6"/>
<line x1="319.48" y1="223.25" x2="319.48" y2="229.25" stroke="#a9cc98" stroke-width="0.6"/>
<line x1="317.28" y1="226.25" x2="321.68" y2="226.25" stroke="#a9cc98" stroke-width="0.6"/>
<line x1="280.53" y1="187.91" x2="280.53" y2="193.91" stroke="#a9cc98" stroke-width="0.6"/>
<line x1="278.33" y1="190.91" x2="282.73" y2="190.91" stroke="#a9cc98" stroke-width="0.6"/>
<line x1="314.54" y1="222.36" x2="314.54" y2="228.36" stroke="#a9cc98" stroke-width="0.6"/>
<line x1="312.34" y1="225.36" x2="316.74" y2="225.36" stroke="#a9cc98" stroke-width="0.6"/>
<line x1="386.32" y1="277.60" x2="386.32" y2="283.60" stroke="#a9cc98" stroke-width="0.6"/>
<line x1="384.12" y1="280.60" x2="388.52" y2="280.60" stroke="#a9cc98" stroke-width="0.6"/>
<line x1="381.37" y1="274.11" x2="381.37" y2="280.11" stroke="#a9cc98" stroke-width="0.6"/>
<line x1="379.17" y1="277.11" x2="383.57" y2="277.11" stroke="#a9cc98" stroke-width="0.6"/>
<line x1="339.51" y1="254.81" x2="339.51" y2="260.81" stroke="#a9cc98" stroke-width="0.6"/>
<line x1="337.31" y1="257.81" x2="341.71" y2="257.81" stroke="#a9cc98" stroke-width="0.6"/>
<line x1="288.68" y1="186.21" x2="288.68" y2="192.21" stroke="#a9cc98" stroke-width="0.6"/>
<line x1="286.48" y1="189.21" x2="290.88" y2="189.21" stroke="#a9cc98" stroke-width="0.6"/>
<line x1="355.19" y1="265.13" x2="355.19" y2="271.13" stroke="#a9cc98" stroke-width="0.6"/>
<line x1="352.99" y1="268.13" x2="357.39" y2="268.13" stroke="#a9cc98" stroke-width="0.6"/>
<line x1="329.77" y1="235.47" x2="329.77" y2="241.47" stroke="#a9cc98" stroke-width="0.6"/>
<line x1="327.57" y1="238.47" x2="331.97" y2="238.47" stroke="#a9cc98" stroke-width="0.6"/>
<line x1="371.44" y1="275.36" x2="371.44" y2="281.36" stroke="#a9cc98" stroke-width="0.6"/>
<line x1="369.24" y1="278.36" x2="373.64" y2="278.36" stroke="#a9cc98" stroke-width="0.6"/>
<line x1="291.77" y1="192.65" x2="291.77" y2="198.65" stroke="#a9cc98" stroke-width="0.6"/>
<line x1="289.57" y1="195.65" x2="293.97" y2="195.65" stroke="#a9cc98" stroke-width="0.6"/>
<line x1="332.31" y1="243.00" x2="332.31" y2="249.00" stroke="#a9cc98" stroke-width="0.6"/>
<line x1="330.11" y1="246.00" x2="334.51" y2="246.00" stroke="#a9cc98" stroke-width="0.6"/>
<line x1="283.00" y1="188.20" x2="283.00" y2="194.20" stroke="#a9cc98" stroke-width="0.6"/>
<line x1="280.80" y1="191.20" x2="285.20" y2="191.20" stroke="#a9cc98" stroke-width="0.6"/>
<line x1="290.30" y1="184.60" x2="290.30" y2="190.60" stroke="#a9cc98" stroke-width="0.6"/>
<line x1="288.10" y1="187.60" x2="292.50" y2="187.60" stroke="#a9cc98" stroke-width="0.6"/>
<line x1="297.00" y1="191.90" x2="297.00" y2="197.90" stroke="#a9cc98" stroke-width="0.6"/>
<line x1="294.80" y1="194.90" x2="299.20" y2="194.90" stroke="#a9cc98" stroke-width="0.6"/>
<line x1="300.10" y1="197.40" x2="300.10" y2="203.40" stroke="#a9cc98" stroke-width="0.6"/>
<line x1="297.90" y1="200.40" x2="302.30" y2="200.40" stroke="#a9cc98" stroke-width="0.6"/>
<line x1="300.50" y1="195.90" x2="300.50" y2="201.90" stroke="#a9cc98" stroke-width="0.6"/>
<line x1="298.30" y1="198.90" x2="302.70" y2="198.90" stroke="#a9cc98" stroke-width="0.6"/>
<line x1="305.00" y1="197.90" x2="305.00" y2="203.90" stroke="#a9cc98" stroke-width="0.6"/>
<line x1="302.80" y1="200.90" x2="307.20" y2="200.90" stroke="#a9cc98" stroke-width="0.6"/>
<line x1="309.60" y1="206.60" x2="309.60" y2="212.60" stroke="#a9cc98" stroke-width="0.6"/>
<line x1="307.40" y1="209.60" x2="311.80" y2="209.60" stroke="#a9cc98" stroke-width="0.6"/>
<line x1="313.30" y1="205.20" x2="313.30" y2="211.20" stroke="#a9cc98" stroke-width="0.6"/>
<line x1="311.10" y1="208.20" x2="315.50" y2="208.20" stroke="#a9cc98" stroke-width="0.6"/>
<line x1="315.10" y1="214.00" x2="315.10" y2="220.00" stroke="#a9cc98" stroke-width="0.6"/>
<line x1="312.90" y1="217.00" x2="317.30" y2="217.00" stroke="#a9cc98" stroke-width="0.6"/>
<line x1="320.60" y1="224.00" x2="320.60" y2="230.00" stroke="#a9cc98" stroke-width="0.6"/>
<line x1="318.40" y1="227.00" x2="322.80" y2="227.00" stroke="#a9cc98" stroke-width="0.6"/>
<line x1="323.00" y1="224.90" x2="323.00" y2="230.90" stroke="#a9cc98" stroke-width="0.6"/>
<line x1="320.80" y1="227.90" x2="325.20" y2="227.90" stroke="#a9cc98" stroke-width="0.6"/>
<line x1="312.10" y1="220.00" x2="312.10" y2="226.00" stroke="#a9cc98" stroke-width="0.6"/>
<line x1="309.90" y1="223.00" x2="314.30" y2="223.00" stroke="#a9cc98" stroke-width="0.6"/>
<line x1="328.80" y1="242.10" x2="328.80" y2="248.10" stroke="#a9cc98" stroke-width="0.6"/>
<line x1="326.60" y1="245.10" x2="331.00" y2="245.10" stroke="#a9cc98" stroke-width="0.6"/>
<line x1="331.60" y1="247.60" x2="331.60" y2="253.60" stroke="#a9cc98" stroke-width="0.6"/>
<line x1="329.40" y1="250.60" x2="333.80" y2="250.60" stroke="#a9cc98" stroke-width="0.6"/>
<line x1="333.40" y1="250.60" x2="333.40" y2="256.60" stroke="#a9cc98" stroke-width="0.6"/>
<line x1="331.20" y1="253.60" x2="335.60" y2="253.60" stroke="#a9cc98" stroke-width="0.6"/>
<line x1="335.90" y1="246.30" x2="335.90" y2="252.30" stroke="#a9cc98" stroke-width="0.6"/>
<line x1="333.70" y1="249.30" x2="338.10" y2="249.30" stroke="#a9cc98" stroke-width="0.6"/>
<line x1="345.00" y1="261.00" x2="345.00" y2="267.00" stroke="#a9cc98" stroke-width="0.6"/>
<line x1="342.80" y1="264.00" x2="347.20" y2="264.00" stroke="#a9cc98" stroke-width="0.6"/>
<line x1="348.00" y1="261.30" x2="348.00" y2="267.30" stroke="#a9cc98" stroke-width="0.6"/>
<line x1="345.80" y1="264.30" x2="350.20" y2="264.30" stroke="#a9cc98" stroke-width="0.6"/>
<line x1="352.40" y1="267.20" x2="352.40" y2="273.20" stroke="#a9cc98" stroke-width="0.6"/>
<line x1="350.20" y1="270.20" x2="354.60" y2="270.20" stroke="#a9cc98" stroke-width="0.6"/>
<line x1="354.30" y1="268.50" x2="354.30" y2="274.50" stroke="#a9cc98" stroke-width="0.6"/>
<line x1="352.10" y1="271.50" x2="356.50" y2="271.50" stroke="#a9cc98" stroke-width="0.6"/>
<line x1="354.90" y1="270.50" x2="354.90" y2="276.50" stroke="#a9cc98" stroke-width="0.6"/>
<line x1="352.70" y1="273.50" x2="357.10" y2="273.50" stroke="#a9cc98" stroke-width="0.6"/>
<line x1="287.00" y1="186.50" x2="287.00" y2="192.50" stroke="#a9cc98" stroke-width="0.6"/>
<line x1="284.80" y1="189.50" x2="289.20" y2="189.50" stroke="#a9cc98" stroke-width="0.6"/>
<line x1="293.50" y1="189.00" x2="293.50" y2="195.00" stroke="#a9cc98" stroke-width="0.6"/>
<line x1="291.30" y1="192.00" x2="295.70" y2="192.00" stroke="#a9cc98" stroke-width="0.6"/>
<line x1="307.50" y1="204.00" x2="307.50" y2="210.00" stroke="#a9cc98" stroke-width="0.6"/>
<line x1="305.30" y1="207.00" x2="309.70" y2="207.00" stroke="#a9cc98" stroke-width="0.6"/>
<line x1="318.00" y1="218.00" x2="318.00" y2="224.00" stroke="#a9cc98" stroke-width="0.6"/>
<line x1="315.80" y1="221.00" x2="320.20" y2="221.00" stroke="#a9cc98" stroke-width="0.6"/>
<line x1="326.50" y1="233.50" x2="326.50" y2="239.50" stroke="#a9cc98" stroke-width="0.6"/>
<line x1="324.30" y1="236.50" x2="328.70" y2="236.50" stroke="#a9cc98" stroke-width="0.6"/>
<line x1="340.50" y1="247.50" x2="340.50" y2="253.50" stroke="#a9cc98" stroke-width="0.6"/>
<line x1="338.30" y1="250.50" x2="342.70" y2="250.50" stroke="#a9cc98" stroke-width="0.6"/>
<line x1="283.32" y1="196.12" x2="283.32" y2="202.12" stroke="#a9cc98" stroke-width="0.6"/>
<line x1="281.12" y1="199.12" x2="285.52" y2="199.12" stroke="#a9cc98" stroke-width="0.6"/>
<line x1="331.23" y1="242.62" x2="331.23" y2="248.62" stroke="#a9cc98" stroke-width="0.6"/>
<line x1="329.03" y1="245.62" x2="333.43" y2="245.62" stroke="#a9cc98" stroke-width="0.6"/>
<line x1="338.87" y1="255.05" x2="338.87" y2="261.05" stroke="#a9cc98" stroke-width="0.6"/>
<line x1="336.67" y1="258.05" x2="341.07" y2="258.05" stroke="#a9cc98" stroke-width="0.6"/>
<line x1="312.97" y1="212.15" x2="312.97" y2="218.15" stroke="#a9cc98" stroke-width="0.6"/>
<line x1="310.77" y1="215.15" x2="315.17" y2="215.15" stroke="#a9cc98" stroke-width="0.6"/>
<line x1="369.27" y1="277.27" x2="369.27" y2="283.27" stroke="#a9cc98" stroke-width="0.6"/>
<line x1="367.07" y1="280.27" x2="371.47" y2="280.27" stroke="#a9cc98" stroke-width="0.6"/>
<line x1="361.79" y1="270.67" x2="361.79" y2="276.67" stroke="#a9cc98" stroke-width="0.6"/>
<line x1="359.59" y1="273.67" x2="363.99" y2="273.67" stroke="#a9cc98" stroke-width="0.6"/>
<line x1="320.03" y1="225.82" x2="320.03" y2="231.82" stroke="#a9cc98" stroke-width="0.6"/>
<line x1="317.83" y1="228.82" x2="322.23" y2="228.82" stroke="#a9cc98" stroke-width="0.6"/>
<line x1="301.56" y1="198.35" x2="301.56" y2="204.35" stroke="#a9cc98" stroke-width="0.6"/>
<line x1="299.36" y1="201.35" x2="303.76" y2="201.35" stroke="#a9cc98" stroke-width="0.6"/>
<line x1="337.29" y1="252.12" x2="337.29" y2="258.12" stroke="#a9cc98" stroke-width="0.6"/>
<line x1="335.09" y1="255.12" x2="339.49" y2="255.12" stroke="#a9cc98" stroke-width="0.6"/>
<line x1="387.58" y1="278.55" x2="387.58" y2="284.55" stroke="#a9cc98" stroke-width="0.6"/>
<line x1="385.38" y1="281.55" x2="389.78" y2="281.55" stroke="#a9cc98" stroke-width="0.6"/>
<line x1="286.23" y1="187.36" x2="286.23" y2="193.36" stroke="#a9cc98" stroke-width="0.6"/>
<line x1="284.03" y1="190.36" x2="288.43" y2="190.36" stroke="#a9cc98" stroke-width="0.6"/>
<line x1="359.82" y1="264.95" x2="359.82" y2="270.95" stroke="#a9cc98" stroke-width="0.6"/>
<line x1="357.62" y1="267.95" x2="362.02" y2="267.95" stroke="#a9cc98" stroke-width="0.6"/>
<line x1="296.41" y1="192.45" x2="296.41" y2="198.45" stroke="#a9cc98" stroke-width="0.6"/>
<line x1="294.21" y1="195.45" x2="298.61" y2="195.45" stroke="#a9cc98" stroke-width="0.6"/>
<line x1="386.42" y1="282.56" x2="386.42" y2="288.56" stroke="#a9cc98" stroke-width="0.6"/>
<line x1="384.22" y1="285.56" x2="388.62" y2="285.56" stroke="#a9cc98" stroke-width="0.6"/>
<line x1="284.80" y1="178.50" x2="284.80" y2="184.50" stroke="#a9cc98" stroke-width="0.6"/>
<line x1="282.60" y1="181.50" x2="287.00" y2="181.50" stroke="#a9cc98" stroke-width="0.6"/>
<line x1="291.50" y1="180.10" x2="291.50" y2="186.10" stroke="#a9cc98" stroke-width="0.6"/>
<line x1="289.30" y1="183.10" x2="293.70" y2="183.10" stroke="#a9cc98" stroke-width="0.6"/>
<line x1="289.10" y1="182.80" x2="289.10" y2="188.80" stroke="#a9cc98" stroke-width="0.6"/>
<line x1="286.90" y1="185.80" x2="291.30" y2="185.80" stroke="#a9cc98" stroke-width="0.6"/>
<line x1="283.60" y1="185.20" x2="283.60" y2="191.20" stroke="#a9cc98" stroke-width="0.6"/>
<line x1="281.40" y1="188.20" x2="285.80" y2="188.20" stroke="#a9cc98" stroke-width="0.6"/>
<line x1="281.20" y1="199.80" x2="281.20" y2="205.80" stroke="#a9cc98" stroke-width="0.6"/>
<line x1="279.00" y1="202.80" x2="283.40" y2="202.80" stroke="#a9cc98" stroke-width="0.6"/>
<line x1="287.30" y1="184.00" x2="287.30" y2="190.00" stroke="#a9cc98" stroke-width="0.6"/>
<line x1="285.10" y1="187.00" x2="289.50" y2="187.00" stroke="#a9cc98" stroke-width="0.6"/>
<line x1="294.60" y1="191.30" x2="294.60" y2="197.30" stroke="#a9cc98" stroke-width="0.6"/>
<line x1="292.40" y1="194.30" x2="296.80" y2="194.30" stroke="#a9cc98" stroke-width="0.6"/>
<line x1="299.50" y1="188.90" x2="299.50" y2="194.90" stroke="#a9cc98" stroke-width="0.6"/>
<line x1="297.30" y1="191.90" x2="301.70" y2="191.90" stroke="#a9cc98" stroke-width="0.6"/>
<line x1="301.30" y1="195.60" x2="301.30" y2="201.60" stroke="#a9cc98" stroke-width="0.6"/>
<line x1="299.10" y1="198.60" x2="303.50" y2="198.60" stroke="#a9cc98" stroke-width="0.6"/>
<line x1="304.30" y1="197.40" x2="304.30" y2="203.40" stroke="#a9cc98" stroke-width="0.6"/>
<line x1="302.10" y1="200.40" x2="306.50" y2="200.40" stroke="#a9cc98" stroke-width="0.6"/>
<line x1="300.50" y1="199.30" x2="300.50" y2="205.30" stroke="#a9cc98" stroke-width="0.6"/>
<line x1="298.30" y1="202.30" x2="302.70" y2="202.30" stroke="#a9cc98" stroke-width="0.6"/>
<line x1="303.50" y1="200.50" x2="303.50" y2="206.50" stroke="#a9cc98" stroke-width="0.6"/>
<line x1="301.30" y1="203.50" x2="305.70" y2="203.50" stroke="#a9cc98" stroke-width="0.6"/>
<line x1="310.90" y1="210.30" x2="310.90" y2="216.30" stroke="#a9cc98" stroke-width="0.6"/>
<line x1="308.70" y1="213.30" x2="313.10" y2="213.30" stroke="#a9cc98" stroke-width="0.6"/>
<line x1="314.50" y1="218.20" x2="314.50" y2="224.20" stroke="#a9cc98" stroke-width="0.6"/>
<line x1="312.30" y1="221.20" x2="316.70" y2="221.20" stroke="#a9cc98" stroke-width="0.6"/>
<line x1="296.50" y1="186.50" x2="296.50" y2="192.50" stroke="#a9cc98" stroke-width="0.6"/>
<line x1="294.30" y1="189.50" x2="298.70" y2="189.50" stroke="#a9cc98" stroke-width="0.6"/>
<line x1="308.00" y1="203.00" x2="308.00" y2="209.00" stroke="#a9cc98" stroke-width="0.6"/>
<line x1="305.80" y1="206.00" x2="310.20" y2="206.00" stroke="#a9cc98" stroke-width="0.6"/>
<line x1="317.00" y1="213.50" x2="317.00" y2="219.50" stroke="#a9cc98" stroke-width="0.6"/>
<line x1="314.80" y1="216.50" x2="319.20" y2="216.50" stroke="#a9cc98" stroke-width="0.6"/>
<line x1="323.50" y1="227.00" x2="323.50" y2="233.00" stroke="#a9cc98" stroke-width="0.6"/>
<line x1="321.30" y1="230.00" x2="325.70" y2="230.00" stroke="#a9cc98" stroke-width="0.6"/>
<line x1="339.00" y1="249.00" x2="339.00" y2="255.00" stroke="#a9cc98" stroke-width="0.6"/>
<line x1="336.80" y1="252.00" x2="341.20" y2="252.00" stroke="#a9cc98" stroke-width="0.6"/>
<line x1="347.98" y1="262.38" x2="347.98" y2="268.38" stroke="#a9cc98" stroke-width="0.6"/>
<line x1="345.78" y1="265.38" x2="350.18" y2="265.38" stroke="#a9cc98" stroke-width="0.6"/>
<line x1="360.71" y1="277.35" x2="360.71" y2="283.35" stroke="#a9cc98" stroke-width="0.6"/>
<line x1="358.51" y1="280.35" x2="362.91" y2="280.35" stroke="#a9cc98" stroke-width="0.6"/>
<line x1="347.38" y1="261.36" x2="347.38" y2="267.36" stroke="#a9cc98" stroke-width="0.6"/>
<line x1="345.18" y1="264.36" x2="349.58" y2="264.36" stroke="#a9cc98" stroke-width="0.6"/>
<line x1="387.11" y1="276.24" x2="387.11" y2="282.24" stroke="#a9cc98" stroke-width="0.6"/>
<line x1="384.91" y1="279.24" x2="389.31" y2="279.24" stroke="#a9cc98" stroke-width="0.6"/>
<line x1="302.46" y1="194.56" x2="302.46" y2="200.56" stroke="#a9cc98" stroke-width="0.6"/>
<line x1="300.26" y1="197.56" x2="304.66" y2="197.56" stroke="#a9cc98" stroke-width="0.6"/>
<line x1="281.15" y1="184.23" x2="281.15" y2="190.23" stroke="#a9cc98" stroke-width="0.6"/>
<line x1="278.95" y1="187.23" x2="283.35" y2="187.23" stroke="#a9cc98" stroke-width="0.6"/>
<line x1="291.93" y1="191.14" x2="291.93" y2="197.14" stroke="#a9cc98" stroke-width="0.6"/>
<line x1="289.73" y1="194.14" x2="294.13" y2="194.14" stroke="#a9cc98" stroke-width="0.6"/>
<line x1="284.15" y1="194.28" x2="284.15" y2="200.28" stroke="#a9cc98" stroke-width="0.6"/>
<line x1="281.95" y1="197.28" x2="286.35" y2="197.28" stroke="#a9cc98" stroke-width="0.6"/>
<line x1="290.09" y1="192.85" x2="290.09" y2="198.85" stroke="#a9cc98" stroke-width="0.6"/>
<line x1="287.89" y1="195.85" x2="292.29" y2="195.85" stroke="#a9cc98" stroke-width="0.6"/>
<line x1="317.17" y1="216.17" x2="317.17" y2="222.17" stroke="#a9cc98" stroke-width="0.6"/>
<line x1="314.97" y1="219.17" x2="319.37" y2="219.17" stroke="#a9cc98" stroke-width="0.6"/>
<line x1="324.35" y1="231.79" x2="324.35" y2="237.79" stroke="#a9cc98" stroke-width="0.6"/>
<line x1="322.15" y1="234.79" x2="326.55" y2="234.79" stroke="#a9cc98" stroke-width="0.6"/>
<line x1="388.95" y1="281.36" x2="388.95" y2="287.36" stroke="#a9cc98" stroke-width="0.6"/>
<line x1="386.75" y1="284.36" x2="391.15" y2="284.36" stroke="#a9cc98" stroke-width="0.6"/>
<line x1="324.12" y1="229.58" x2="324.12" y2="235.58" stroke="#a9cc98" stroke-width="0.6"/>
<line x1="321.92" y1="232.58" x2="326.32" y2="232.58" stroke="#a9cc98" stroke-width="0.6"/>
<path d="M284.80 179.30L287.00 183.15L282.60 183.15Z" fill="#eef4dc" stroke="#7d9270" stroke-width="0.55"/>
<path d="M291.50 180.90L293.70 184.75L289.30 184.75Z" fill="#eef4dc" stroke="#7d9270" stroke-width="0.55"/>
<path d="M289.10 183.60L291.30 187.45L286.90 187.45Z" fill="#eef4dc" stroke="#7d9270" stroke-width="0.55"/>
<path d="M283.60 186.00L285.80 189.85L281.40 189.85Z" fill="#eef4dc" stroke="#7d9270" stroke-width="0.55"/>
<path d="M281.20 200.60L283.40 204.45L279.00 204.45Z" fill="#eef4dc" stroke="#7d9270" stroke-width="0.55"/>
<path d="M287.30 184.80L289.50 188.65L285.10 188.65Z" fill="#eef4dc" stroke="#7d9270" stroke-width="0.55"/>
<path d="M294.60 192.10L296.80 195.95L292.40 195.95Z" fill="#eef4dc" stroke="#7d9270" stroke-width="0.55"/>
<path d="M299.50 189.70L301.70 193.55L297.30 193.55Z" fill="#eef4dc" stroke="#7d9270" stroke-width="0.55"/>
<path d="M301.30 196.40L303.50 200.25L299.10 200.25Z" fill="#eef4dc" stroke="#7d9270" stroke-width="0.55"/>
<path d="M304.30 198.20L306.50 202.05L302.10 202.05Z" fill="#eef4dc" stroke="#7d9270" stroke-width="0.55"/>
<path d="M300.50 200.10L302.70 203.95L298.30 203.95Z" fill="#eef4dc" stroke="#7d9270" stroke-width="0.55"/>
<path d="M303.50 201.30L305.70 205.15L301.30 205.15Z" fill="#eef4dc" stroke="#7d9270" stroke-width="0.55"/>
<path d="M310.90 211.10L313.10 214.95L308.70 214.95Z" fill="#eef4dc" stroke="#7d9270" stroke-width="0.55"/>
<path d="M314.50 219.00L316.70 222.85L312.30 222.85Z" fill="#eef4dc" stroke="#7d9270" stroke-width="0.55"/>
<path d="M296.50 187.30L298.70 191.15L294.30 191.15Z" fill="#eef4dc" stroke="#7d9270" stroke-width="0.55"/>
<path d="M308.00 203.80L310.20 207.65L305.80 207.65Z" fill="#eef4dc" stroke="#7d9270" stroke-width="0.55"/>
<path d="M317.00 214.30L319.20 218.15L314.80 218.15Z" fill="#eef4dc" stroke="#7d9270" stroke-width="0.55"/>
<path d="M323.50 227.80L325.70 231.65L321.30 231.65Z" fill="#eef4dc" stroke="#7d9270" stroke-width="0.55"/>
<path d="M339.00 249.80L341.20 253.65L336.80 253.65Z" fill="#eef4dc" stroke="#7d9270" stroke-width="0.55"/>
<path d="M347.98 263.18L350.18 267.03L345.78 267.03Z" fill="#eef4dc" stroke="#7d9270" stroke-width="0.55"/>
<path d="M360.71 278.15L362.91 282.00L358.51 282.00Z" fill="#eef4dc" stroke="#7d9270" stroke-width="0.55"/>
<path d="M347.38 262.16L349.58 266.01L345.18 266.01Z" fill="#eef4dc" stroke="#7d9270" stroke-width="0.55"/>
<path d="M387.11 277.04L389.31 280.89L384.91 280.89Z" fill="#eef4dc" stroke="#7d9270" stroke-width="0.55"/>
<path d="M302.46 195.36L304.66 199.21L300.26 199.21Z" fill="#eef4dc" stroke="#7d9270" stroke-width="0.55"/>
<path d="M281.15 185.03L283.35 188.88L278.95 188.88Z" fill="#eef4dc" stroke="#7d9270" stroke-width="0.55"/>
<path d="M291.93 191.94L294.13 195.79L289.73 195.79Z" fill="#eef4dc" stroke="#7d9270" stroke-width="0.55"/>
<path d="M284.15 195.08L286.35 198.93L281.95 198.93Z" fill="#eef4dc" stroke="#7d9270" stroke-width="0.55"/>
<path d="M290.09 193.65L292.29 197.50L287.89 197.50Z" fill="#eef4dc" stroke="#7d9270" stroke-width="0.55"/>
<path d="M317.17 216.97L319.37 220.82L314.97 220.82Z" fill="#eef4dc" stroke="#7d9270" stroke-width="0.55"/>
<path d="M324.35 232.59L326.55 236.44L322.15 236.44Z" fill="#eef4dc" stroke="#7d9270" stroke-width="0.55"/>
<path d="M388.95 282.16L391.15 286.01L386.75 286.01Z" fill="#eef4dc" stroke="#7d9270" stroke-width="0.55"/>
<path d="M324.12 230.38L326.32 234.23L321.92 234.23Z" fill="#eef4dc" stroke="#7d9270" stroke-width="0.55"/>
<path d="M283.00 188.70L285.00 191.20L283.00 193.70L281.00 191.20Z" fill="#a9cf8a" stroke="#6f8f5a" stroke-width="0.45"/>
<path d="M290.30 185.10L292.30 187.60L290.30 190.10L288.30 187.60Z" fill="#a9cf8a" stroke="#6f8f5a" stroke-width="0.45"/>
<path d="M297.00 192.40L299.00 194.90L297.00 197.40L295.00 194.90Z" fill="#a9cf8a" stroke="#6f8f5a" stroke-width="0.45"/>
<path d="M300.10 197.90L302.10 200.40L300.10 202.90L298.10 200.40Z" fill="#a9cf8a" stroke="#6f8f5a" stroke-width="0.45"/>
<path d="M300.50 196.40L302.50 198.90L300.50 201.40L298.50 198.90Z" fill="#a9cf8a" stroke="#6f8f5a" stroke-width="0.45"/>
<path d="M305.00 198.40L307.00 200.90L305.00 203.40L303.00 200.90Z" fill="#a9cf8a" stroke="#6f8f5a" stroke-width="0.45"/>
<path d="M309.60 207.10L311.60 209.60L309.60 212.10L307.60 209.60Z" fill="#a9cf8a" stroke="#6f8f5a" stroke-width="0.45"/>
<path d="M313.30 205.70L315.30 208.20L313.30 210.70L311.30 208.20Z" fill="#a9cf8a" stroke="#6f8f5a" stroke-width="0.45"/>
<path d="M315.10 214.50L317.10 217.00L315.10 219.50L313.10 217.00Z" fill="#a9cf8a" stroke="#6f8f5a" stroke-width="0.45"/>
<path d="M320.60 224.50L322.60 227.00L320.60 229.50L318.60 227.00Z" fill="#a9cf8a" stroke="#6f8f5a" stroke-width="0.45"/>
<path d="M323.00 225.40L325.00 227.90L323.00 230.40L321.00 227.90Z" fill="#a9cf8a" stroke="#6f8f5a" stroke-width="0.45"/>
<path d="M312.10 220.50L314.10 223.00L312.10 225.50L310.10 223.00Z" fill="#a9cf8a" stroke="#6f8f5a" stroke-width="0.45"/>
<path d="M328.80 242.60L330.80 245.10L328.80 247.60L326.80 245.10Z" fill="#a9cf8a" stroke="#6f8f5a" stroke-width="0.45"/>
<path d="M331.60 248.10L333.60 250.60L331.60 253.10L329.60 250.60Z" fill="#a9cf8a" stroke="#6f8f5a" stroke-width="0.45"/>
<path d="M333.40 251.10L335.40 253.60L333.40 256.10L331.40 253.60Z" fill="#a9cf8a" stroke="#6f8f5a" stroke-width="0.45"/>
<path d="M335.90 246.80L337.90 249.30L335.90 251.80L333.90 249.30Z" fill="#a9cf8a" stroke="#6f8f5a" stroke-width="0.45"/>
<path d="M345.00 261.50L347.00 264.00L345.00 266.50L343.00 264.00Z" fill="#a9cf8a" stroke="#6f8f5a" stroke-width="0.45"/>
<path d="M348.00 261.80L350.00 264.30L348.00 266.80L346.00 264.30Z" fill="#a9cf8a" stroke="#6f8f5a" stroke-width="0.45"/>
<path d="M352.40 267.70L354.40 270.20L352.40 272.70L350.40 270.20Z" fill="#a9cf8a" stroke="#6f8f5a" stroke-width="0.45"/>
<path d="M354.30 269.00L356.30 271.50L354.30 274.00L352.30 271.50Z" fill="#a9cf8a" stroke="#6f8f5a" stroke-width="0.45"/>
<path d="M354.90 271.00L356.90 273.50L354.90 276.00L352.90 273.50Z" fill="#a9cf8a" stroke="#6f8f5a" stroke-width="0.45"/>
<path d="M287.00 187.00L289.00 189.50L287.00 192.00L285.00 189.50Z" fill="#a9cf8a" stroke="#6f8f5a" stroke-width="0.45"/>
<path d="M293.50 189.50L295.50 192.00L293.50 194.50L291.50 192.00Z" fill="#a9cf8a" stroke="#6f8f5a" stroke-width="0.45"/>
<path d="M307.50 204.50L309.50 207.00L307.50 209.50L305.50 207.00Z" fill="#a9cf8a" stroke="#6f8f5a" stroke-width="0.45"/>
<path d="M318.00 218.50L320.00 221.00L318.00 223.50L316.00 221.00Z" fill="#a9cf8a" stroke="#6f8f5a" stroke-width="0.45"/>
<path d="M326.50 234.00L328.50 236.50L326.50 239.00L324.50 236.50Z" fill="#a9cf8a" stroke="#6f8f5a" stroke-width="0.45"/>
<path d="M340.50 248.00L342.50 250.50L340.50 253.00L338.50 250.50Z" fill="#a9cf8a" stroke="#6f8f5a" stroke-width="0.45"/>
<path d="M283.32 196.62L285.32 199.12L283.32 201.62L281.32 199.12Z" fill="#a9cf8a" stroke="#6f8f5a" stroke-width="0.45"/>
<path d="M331.23 243.12L333.23 245.62L331.23 248.12L329.23 245.62Z" fill="#a9cf8a" stroke="#6f8f5a" stroke-width="0.45"/>
<path d="M338.87 255.55L340.87 258.05L338.87 260.55L336.87 258.05Z" fill="#a9cf8a" stroke="#6f8f5a" stroke-width="0.45"/>
<path d="M312.97 212.65L314.97 215.15L312.97 217.65L310.97 215.15Z" fill="#a9cf8a" stroke="#6f8f5a" stroke-width="0.45"/>
<path d="M369.27 277.77L371.27 280.27L369.27 282.77L367.27 280.27Z" fill="#a9cf8a" stroke="#6f8f5a" stroke-width="0.45"/>
<path d="M361.79 271.17L363.79 273.67L361.79 276.17L359.79 273.67Z" fill="#a9cf8a" stroke="#6f8f5a" stroke-width="0.45"/>
<path d="M320.03 226.32L322.03 228.82L320.03 231.32L318.03 228.82Z" fill="#a9cf8a" stroke="#6f8f5a" stroke-width="0.45"/>
<path d="M301.56 198.85L303.56 201.35L301.56 203.85L299.56 201.35Z" fill="#a9cf8a" stroke="#6f8f5a" stroke-width="0.45"/>
<path d="M337.29 252.62L339.29 255.12L337.29 257.62L335.29 255.12Z" fill="#a9cf8a" stroke="#6f8f5a" stroke-width="0.45"/>
<path d="M387.58 279.05L389.58 281.55L387.58 284.05L385.58 281.55Z" fill="#a9cf8a" stroke="#6f8f5a" stroke-width="0.45"/>
<path d="M286.23 187.86L288.23 190.36L286.23 192.86L284.23 190.36Z" fill="#a9cf8a" stroke="#6f8f5a" stroke-width="0.45"/>
<path d="M359.82 265.45L361.82 267.95L359.82 270.45L357.82 267.95Z" fill="#a9cf8a" stroke="#6f8f5a" stroke-width="0.45"/>
<path d="M296.41 192.95L298.41 195.45L296.41 197.95L294.41 195.45Z" fill="#a9cf8a" stroke="#6f8f5a" stroke-width="0.45"/>
<path d="M386.42 283.06L388.42 285.56L386.42 288.06L384.42 285.56Z" fill="#a9cf8a" stroke="#6f8f5a" stroke-width="0.45"/>
<circle cx="267.50" cy="202.20" r="1.95" fill="#5c9e5c" stroke="#2f5c2f" stroke-width="0.5"/>
<circle cx="269.20" cy="203.10" r="1.95" fill="#5c9e5c" stroke="#2f5c2f" stroke-width="0.5"/>
<circle cx="271.20" cy="193.70" r="1.95" fill="#5c9e5c" stroke="#2f5c2f" stroke-width="0.5"/>
<circle cx="272.90" cy="198.20" r="1.95" fill="#5c9e5c" stroke="#2f5c2f" stroke-width="0.5"/>
<circle cx="274.80" cy="192.10" r="1.95" fill="#5c9e5c" stroke="#2f5c2f" stroke-width="0.5"/>
<circle cx="276.90" cy="188.20" r="1.95" fill="#5c9e5c" stroke="#2f5c2f" stroke-width="0.5"/>
<circle cx="279.70" cy="194.30" r="1.95" fill="#5c9e5c" stroke="#2f5c2f" stroke-width="0.5"/>
<circle cx="281.80" cy="194.90" r="1.95" fill="#5c9e5c" stroke="#2f5c2f" stroke-width="0.5"/>
<circle cx="283.60" cy="195.50" r="1.95" fill="#5c9e5c" stroke="#2f5c2f" stroke-width="0.5"/>
<circle cx="285.80" cy="197.00" r="1.95" fill="#5c9e5c" stroke="#2f5c2f" stroke-width="0.5"/>
<circle cx="288.50" cy="191.90" r="1.95" fill="#5c9e5c" stroke="#2f5c2f" stroke-width="0.5"/>
<circle cx="290.30" cy="190.90" r="1.95" fill="#5c9e5c" stroke="#2f5c2f" stroke-width="0.5"/>
<circle cx="292.80" cy="196.70" r="1.95" fill="#5c9e5c" stroke="#2f5c2f" stroke-width="0.5"/>
<circle cx="294.00" cy="198.20" r="1.95" fill="#5c9e5c" stroke="#2f5c2f" stroke-width="0.5"/>
<circle cx="295.80" cy="201.00" r="1.95" fill="#5c9e5c" stroke="#2f5c2f" stroke-width="0.5"/>
<circle cx="299.50" cy="209.20" r="1.95" fill="#5c9e5c" stroke="#2f5c2f" stroke-width="0.5"/>
<circle cx="301.70" cy="206.50" r="1.95" fill="#5c9e5c" stroke="#2f5c2f" stroke-width="0.5"/>
<circle cx="305.60" cy="208.90" r="1.95" fill="#5c9e5c" stroke="#2f5c2f" stroke-width="0.5"/>
<circle cx="296.20" cy="200.50" r="1.95" fill="#5c9e5c" stroke="#2f5c2f" stroke-width="0.5"/>
<circle cx="299.30" cy="209.40" r="1.95" fill="#5c9e5c" stroke="#2f5c2f" stroke-width="0.5"/>
<circle cx="302.10" cy="206.60" r="1.95" fill="#5c9e5c" stroke="#2f5c2f" stroke-width="0.5"/>
<circle cx="306.00" cy="209.40" r="1.95" fill="#5c9e5c" stroke="#2f5c2f" stroke-width="0.5"/>
<circle cx="307.20" cy="217.20" r="1.95" fill="#5c9e5c" stroke="#2f5c2f" stroke-width="0.5"/>
<circle cx="310.20" cy="217.20" r="1.95" fill="#5c9e5c" stroke="#2f5c2f" stroke-width="0.5"/>
<circle cx="313.30" cy="217.90" r="1.95" fill="#5c9e5c" stroke="#2f5c2f" stroke-width="0.5"/>
<circle cx="317.60" cy="223.30" r="1.95" fill="#5c9e5c" stroke="#2f5c2f" stroke-width="0.5"/>
<circle cx="315.10" cy="225.50" r="1.95" fill="#5c9e5c" stroke="#2f5c2f" stroke-width="0.5"/>
<circle cx="318.80" cy="231.30" r="1.95" fill="#5c9e5c" stroke="#2f5c2f" stroke-width="0.5"/>
<circle cx="322.40" cy="232.80" r="1.95" fill="#5c9e5c" stroke="#2f5c2f" stroke-width="0.5"/>
<circle cx="326.10" cy="234.30" r="1.95" fill="#5c9e5c" stroke="#2f5c2f" stroke-width="0.5"/>
<circle cx="325.90" cy="235.30" r="1.95" fill="#5c9e5c" stroke="#2f5c2f" stroke-width="0.5"/>
<circle cx="329.10" cy="239.00" r="1.95" fill="#5c9e5c" stroke="#2f5c2f" stroke-width="0.5"/>
<circle cx="332.20" cy="239.00" r="1.95" fill="#5c9e5c" stroke="#2f5c2f" stroke-width="0.5"/>
<circle cx="334.60" cy="246.30" r="1.95" fill="#5c9e5c" stroke="#2f5c2f" stroke-width="0.5"/>
<circle cx="338.30" cy="248.10" r="1.95" fill="#5c9e5c" stroke="#2f5c2f" stroke-width="0.5"/>
<circle cx="341.70" cy="253.00" r="1.95" fill="#5c9e5c" stroke="#2f5c2f" stroke-width="0.5"/>
<circle cx="344.40" cy="257.90" r="1.95" fill="#5c9e5c" stroke="#2f5c2f" stroke-width="0.5"/>
<circle cx="349.30" cy="258.20" r="1.95" fill="#5c9e5c" stroke="#2f5c2f" stroke-width="0.5"/>
<circle cx="352.30" cy="262.10" r="1.95" fill="#5c9e5c" stroke="#2f5c2f" stroke-width="0.5"/>
<circle cx="356.00" cy="264.00" r="1.95" fill="#5c9e5c" stroke="#2f5c2f" stroke-width="0.5"/>
<circle cx="359.60" cy="266.80" r="1.95" fill="#5c9e5c" stroke="#2f5c2f" stroke-width="0.5"/>
<circle cx="350.60" cy="258.70" r="1.95" fill="#5c9e5c" stroke="#2f5c2f" stroke-width="0.5"/>
<circle cx="353.70" cy="265.70" r="1.95" fill="#5c9e5c" stroke="#2f5c2f" stroke-width="0.5"/>
<circle cx="356.10" cy="264.10" r="1.95" fill="#5c9e5c" stroke="#2f5c2f" stroke-width="0.5"/>
<circle cx="357.30" cy="266.60" r="1.95" fill="#5c9e5c" stroke="#2f5c2f" stroke-width="0.5"/>
<circle cx="358.80" cy="268.40" r="1.95" fill="#5c9e5c" stroke="#2f5c2f" stroke-width="0.5"/>
<circle cx="361.00" cy="267.80" r="1.95" fill="#5c9e5c" stroke="#2f5c2f" stroke-width="0.5"/>
<circle cx="362.80" cy="271.50" r="1.95" fill="#5c9e5c" stroke="#2f5c2f" stroke-width="0.5"/>
<circle cx="365.20" cy="273.50" r="1.95" fill="#5c9e5c" stroke="#2f5c2f" stroke-width="0.5"/>
<circle cx="367.10" cy="277.60" r="1.95" fill="#5c9e5c" stroke="#2f5c2f" stroke-width="0.5"/>
<circle cx="368.30" cy="279.40" r="1.95" fill="#5c9e5c" stroke="#2f5c2f" stroke-width="0.5"/>
<circle cx="370.10" cy="281.20" r="1.95" fill="#5c9e5c" stroke="#2f5c2f" stroke-width="0.5"/>
<circle cx="372.60" cy="282.40" r="1.95" fill="#5c9e5c" stroke="#2f5c2f" stroke-width="0.5"/>
<circle cx="375.60" cy="283.70" r="1.95" fill="#5c9e5c" stroke="#2f5c2f" stroke-width="0.5"/>
<circle cx="379.30" cy="284.30" r="1.95" fill="#5c9e5c" stroke="#2f5c2f" stroke-width="0.5"/>
<circle cx="382.30" cy="285.50" r="1.95" fill="#5c9e5c" stroke="#2f5c2f" stroke-width="0.5"/>
<circle cx="385.40" cy="286.10" r="1.95" fill="#5c9e5c" stroke="#2f5c2f" stroke-width="0.5"/>
<circle cx="387.80" cy="284.00" r="1.95" fill="#5c9e5c" stroke="#2f5c2f" stroke-width="0.5"/>
<circle cx="390.20" cy="287.00" r="1.95" fill="#5c9e5c" stroke="#2f5c2f" stroke-width="0.5"/>
<circle cx="392.70" cy="286.50" r="1.95" fill="#5c9e5c" stroke="#2f5c2f" stroke-width="0.5"/>
<circle cx="395.10" cy="287.30" r="1.95" fill="#5c9e5c" stroke="#2f5c2f" stroke-width="0.5"/>
<circle cx="397.60" cy="285.20" r="1.95" fill="#5c9e5c" stroke="#2f5c2f" stroke-width="0.5"/>
<circle cx="278.00" cy="192.50" r="1.95" fill="#5c9e5c" stroke="#2f5c2f" stroke-width="0.5"/>
<circle cx="286.50" cy="193.50" r="1.95" fill="#5c9e5c" stroke="#2f5c2f" stroke-width="0.5"/>
<circle cx="303.50" cy="204.00" r="1.95" fill="#5c9e5c" stroke="#2f5c2f" stroke-width="0.5"/>
<circle cx="311.50" cy="214.50" r="1.95" fill="#5c9e5c" stroke="#2f5c2f" stroke-width="0.5"/>
<circle cx="320.00" cy="228.50" r="1.95" fill="#5c9e5c" stroke="#2f5c2f" stroke-width="0.5"/>
<circle cx="336.00" cy="244.00" r="1.95" fill="#5c9e5c" stroke="#2f5c2f" stroke-width="0.5"/>
<circle cx="346.50" cy="255.50" r="1.95" fill="#5c9e5c" stroke="#2f5c2f" stroke-width="0.5"/>
<circle cx="364.00" cy="270.00" r="1.95" fill="#5c9e5c" stroke="#2f5c2f" stroke-width="0.5"/>
<circle cx="378.24" cy="277.75" r="1.95" fill="#5c9e5c" stroke="#2f5c2f" stroke-width="0.5"/>
<circle cx="281.59" cy="184.87" r="1.95" fill="#5c9e5c" stroke="#2f5c2f" stroke-width="0.5"/>
<circle cx="310.59" cy="207.83" r="1.95" fill="#5c9e5c" stroke="#2f5c2f" stroke-width="0.5"/>
<circle cx="366.94" cy="279.57" r="1.95" fill="#5c9e5c" stroke="#2f5c2f" stroke-width="0.5"/>
<circle cx="302.97" cy="203.42" r="1.95" fill="#5c9e5c" stroke="#2f5c2f" stroke-width="0.5"/>
<circle cx="377.46" cy="281.65" r="1.95" fill="#5c9e5c" stroke="#2f5c2f" stroke-width="0.5"/>
<circle cx="319.48" cy="226.25" r="1.95" fill="#5c9e5c" stroke="#2f5c2f" stroke-width="0.5"/>
<circle cx="280.53" cy="190.91" r="1.95" fill="#5c9e5c" stroke="#2f5c2f" stroke-width="0.5"/>
<circle cx="314.54" cy="225.36" r="1.95" fill="#5c9e5c" stroke="#2f5c2f" stroke-width="0.5"/>
<circle cx="386.32" cy="280.60" r="1.95" fill="#5c9e5c" stroke="#2f5c2f" stroke-width="0.5"/>
<circle cx="381.37" cy="277.11" r="1.95" fill="#5c9e5c" stroke="#2f5c2f" stroke-width="0.5"/>
<circle cx="339.51" cy="257.81" r="1.95" fill="#5c9e5c" stroke="#2f5c2f" stroke-width="0.5"/>
<circle cx="288.68" cy="189.21" r="1.95" fill="#5c9e5c" stroke="#2f5c2f" stroke-width="0.5"/>
<circle cx="355.19" cy="268.13" r="1.95" fill="#5c9e5c" stroke="#2f5c2f" stroke-width="0.5"/>
<circle cx="329.77" cy="238.47" r="1.95" fill="#5c9e5c" stroke="#2f5c2f" stroke-width="0.5"/>
<circle cx="371.44" cy="278.36" r="1.95" fill="#5c9e5c" stroke="#2f5c2f" stroke-width="0.5"/>
<circle cx="291.77" cy="195.65" r="1.95" fill="#5c9e5c" stroke="#2f5c2f" stroke-width="0.5"/>
<circle cx="332.31" cy="246.00" r="1.95" fill="#5c9e5c" stroke="#2f5c2f" stroke-width="0.5"/>
<polyline points="257.70,190.01 258.56,190.02 259.43,190.04 260.29,190.06 261.16,190.08 262.02,190.10 262.88,190.13 263.75,190.16 264.61,190.19 265.48,190.23 266.34,190.27 267.20,190.32 268.07,190.38 268.93,190.44 269.80,190.50 270.66,190.57 271.52,190.65 272.39,190.74 273.25,190.84 274.12,190.95 274.98,191.07 275.84,191.19 276.71,191.33 277.57,191.49 278.44,191.66 279.30,191.84 280.16,192.03 281.03,192.25 281.89,192.48 282.76,192.73 283.62,193.00 284.48,193.29 285.35,193.60 286.21,193.93 287.08,194.29 287.94,194.68 288.80,195.09 289.67,195.52 290.53,195.99 291.40,196.48 292.26,197.01 293.12,197.56 293.99,198.15 294.85,198.77 295.72,199.43 296.58,200.12 297.44,200.84 298.31,201.60 299.17,202.40 300.04,203.23 300.90,204.10 301.76,205.00 302.63,205.94 303.49,206.92 304.36,207.93 305.22,208.98 306.08,210.06 306.95,211.17 307.81,212.32 308.68,213.49 309.54,214.70 310.40,215.93 311.27,217.19 312.13,218.47 313.00,219.78 313.86,221.10 314.72,222.45 315.59,223.81 316.45,225.18 317.32,226.56 318.18,227.95 319.04,229.35 319.91,230.75 320.77,232.16 321.64,233.56 322.50,234.96 323.36,236.35 324.23,237.74 325.09,239.12 325.96,240.48 326.82,241.83 327.68,243.17 328.55,244.49 329.41,245.79 330.28,247.07 331.14,248.33 332.00,249.57 332.87,250.78 333.73,251.97 334.60,253.14 335.46,254.28 336.32,255.39 337.19,256.48 338.05,257.54 338.92,258.57 339.78,259.57 340.64,260.55 341.51,261.50 342.37,262.42 343.24,263.32 344.10,264.19 344.96,265.03 345.83,265.85 346.69,266.64 347.56,267.40 348.42,268.14 349.28,268.86 350.15,269.55 351.01,270.22 351.88,270.86 352.74,271.48 353.60,272.08 354.47,272.66 355.33,273.22 356.20,273.76 357.06,274.28 357.92,274.78 358.79,275.27 359.65,275.73 360.52,276.18 361.38,276.61 362.24,277.03 363.11,277.43 363.97,277.81 364.84,278.18 365.70,278.54 366.56,278.88 367.43,279.22 368.29,279.53 369.16,279.84 370.02,280.14 370.88,280.42 371.75,280.69 372.61,280.96 373.48,281.21 374.34,281.46 375.20,281.69 376.07,281.92 376.93,282.13 377.80,282.34 378.66,282.55 379.52,282.74 380.39,282.93 381.25,283.11 382.12,283.28 382.98,283.45 383.84,283.61 384.71,283.76 385.57,283.91 386.44,284.06 387.30,284.20 388.16,284.33 389.03,284.46 389.89,284.58 390.76,284.70 391.62,284.82 392.48,284.93 393.35,285.04 394.21,285.14 395.08,285.24 395.94,285.34 396.80,285.43 397.67,285.52 398.53,285.61 399.40,285.69 400.26,285.77 401.12,285.85 401.99,285.92 402.85,285.99 403.72,286.06 404.58,286.13 405.44,286.20 406.31,286.26 407.17,286.32 408.04,286.38 408.90,286.44 409.76,286.49 410.63,286.55 411.49,286.60 412.36,286.65 413.22,286.69 414.08,286.74 414.95,286.79 415.81,286.83 416.68,286.87 417.54,286.91 418.40,286.95 419.27,286.99 420.13,287.03 421.00,287.06 421.86,287.10 422.72,287.13 423.59,287.16 424.45,287.19 425.32,287.22 426.18,287.25 427.04,287.28 427.91,287.31 428.77,287.34 429.64,287.36 430.50,287.39" fill="none" stroke="#8a8a8a" stroke-width="1" stroke-linejoin="round"/>
<text x="265.80" y="261.70" font-size="9.3" text-anchor="start" fill="#222" font-weight="normal" font-style="normal" textLength="64.3" lengthAdjust="spacingAndGlyphs" stroke="#222" stroke-width="0.1">Hill coefficient</text>
<text x="266.40" y="272.40" font-size="9.3" text-anchor="start" fill="#222" font-weight="normal" font-style="normal" textLength="61.6" lengthAdjust="spacingAndGlyphs" stroke="#222" stroke-width="0.1">= 6.58 ± 0.40</text>
<circle cx="341.10" cy="192.20" r="1.9" fill="#5c9e5c" stroke="#3a6a3a" stroke-width="0.45"/>
<path d="M341.10 201.40L343.10 203.90L341.10 206.40L339.10 203.90Z" fill="#a9cf8a" stroke="#6f8f5a" stroke-width="0.45"/>
<path d="M341.10 212.90L343.50 217.10L338.70 217.10Z" fill="#eef4dc" stroke="#7d9270" stroke-width="0.6"/>
<line x1="335.10" y1="230.90" x2="347.10" y2="230.90" stroke="#888" stroke-width="1.3"/>
<text x="349.60" y="194.80" font-size="9.11" text-anchor="start" fill="#222" font-weight="normal" font-style="normal" textLength="101" lengthAdjust="spacingAndGlyphs" stroke="#222" stroke-width="0.1">no light (unperturbed)</text>
<text x="349.60" y="205.90" font-size="9.11" text-anchor="start" fill="#222" font-weight="normal" font-style="normal" textLength="57.3" lengthAdjust="spacingAndGlyphs" stroke="#222" stroke-width="0.1">low intensity</text>
<text x="349.60" y="217.00" font-size="9.11" text-anchor="start" fill="#222" font-weight="normal" font-style="normal" textLength="61.5" lengthAdjust="spacingAndGlyphs" stroke="#222" stroke-width="0.1">high intensity</text>
<text x="349.60" y="232.90" font-size="9.11" text-anchor="start" fill="#222" font-weight="normal" font-style="normal" textLength="67.5" lengthAdjust="spacingAndGlyphs" stroke="#222" stroke-width="0.1">Hill function fit</text>
<text x="456.60" y="9.10" font-size="11.5" text-anchor="start" fill="#111" font-weight="bold" font-style="normal" textLength="6.6" lengthAdjust="spacingAndGlyphs" stroke="#111" stroke-width="0.1">E</text>
<rect x="474.90" y="-0.90" width="84.50" height="13.40" rx="0" fill="#97b3d7"/>
<rect x="559.40" y="-0.90" width="88.60" height="13.40" rx="0" fill="#cf6551"/>
<text x="517.65" y="9.90" font-size="10" text-anchor="middle" fill="#1a1a1a" font-weight="normal" font-style="normal" textLength="33.5" lengthAdjust="spacingAndGlyphs" stroke="#1a1a1a" stroke-width="0.13999999999999999">ACTIVE</text>
<text x="604.00" y="9.90" font-size="10.2" text-anchor="middle" fill="white" font-weight="normal" font-style="normal" textLength="48" lengthAdjust="spacingAndGlyphs" stroke="white" stroke-width="0.13999999999999999">REPRESSED</text>
<line x1="559.40" y1="12.50" x2="559.40" y2="72.90" stroke="#9a9a9a" stroke-width="0.8" stroke-dasharray="2.4,1.8"/>
<line x1="475.20" y1="15.20" x2="475.20" y2="73.20" stroke="#7fb77f" stroke-width="1"/>
<line x1="475.20" y1="72.90" x2="648.00" y2="72.90" stroke="#666" stroke-width="1"/>
<line x1="648.00" y1="15.20" x2="648.00" y2="73.20" stroke="#ea8cb8" stroke-width="1"/>
<line x1="475.20" y1="68.40" x2="476.70" y2="68.40" stroke="#7fb77f" stroke-width="0.8"/>
<text x="472.60" y="71.59" font-size="9" text-anchor="end" fill="#6fae72" font-weight="normal" font-style="normal" stroke="#6fae72" stroke-width="0.1">2</text>
<line x1="475.20" y1="59.15" x2="476.70" y2="59.15" stroke="#7fb77f" stroke-width="0.8"/>
<text x="472.60" y="62.35" font-size="9" text-anchor="end" fill="#6fae72" font-weight="normal" font-style="normal" stroke="#6fae72" stroke-width="0.1">4</text>
<line x1="475.20" y1="49.90" x2="476.70" y2="49.90" stroke="#7fb77f" stroke-width="0.8"/>
<text x="472.60" y="53.10" font-size="9" text-anchor="end" fill="#6fae72" font-weight="normal" font-style="normal" stroke="#6fae72" stroke-width="0.1">6</text>
<line x1="475.20" y1="40.65" x2="476.70" y2="40.65" stroke="#7fb77f" stroke-width="0.8"/>
<text x="472.60" y="43.85" font-size="9" text-anchor="end" fill="#6fae72" font-weight="normal" font-style="normal" stroke="#6fae72" stroke-width="0.1">8</text>
<line x1="475.20" y1="31.40" x2="476.70" y2="31.40" stroke="#7fb77f" stroke-width="0.8"/>
<text x="472.60" y="34.60" font-size="9" text-anchor="end" fill="#6fae72" font-weight="normal" font-style="normal" stroke="#6fae72" stroke-width="0.1">10</text>
<line x1="475.20" y1="22.15" x2="476.70" y2="22.15" stroke="#7fb77f" stroke-width="0.8"/>
<text x="472.60" y="25.35" font-size="9" text-anchor="end" fill="#6fae72" font-weight="normal" font-style="normal" stroke="#6fae72" stroke-width="0.1">12</text>
<line x1="646.50" y1="69.80" x2="648.00" y2="69.80" stroke="#ea8cb8" stroke-width="0.8"/>
<text x="650.80" y="73.10" font-size="9.3" text-anchor="start" fill="#e0609c" font-weight="normal" font-style="normal" stroke="#e0609c" stroke-width="0.1">0</text>
<line x1="646.50" y1="50.00" x2="648.00" y2="50.00" stroke="#ea8cb8" stroke-width="0.8"/>
<text x="650.80" y="53.30" font-size="9.3" text-anchor="start" fill="#e0609c" font-weight="normal" font-style="normal" stroke="#e0609c" stroke-width="0.1">0.4</text>
<line x1="646.50" y1="30.20" x2="648.00" y2="30.20" stroke="#ea8cb8" stroke-width="0.8"/>
<text x="650.80" y="33.50" font-size="9.3" text-anchor="start" fill="#e0609c" font-weight="normal" font-style="normal" stroke="#e0609c" stroke-width="0.1">0.8</text>
<line x1="482.50" y1="72.90" x2="482.50" y2="71.40" stroke="#666" stroke-width="0.8"/>
<text x="482.50" y="83.05" font-size="9.3" text-anchor="middle" fill="#474747" font-weight="normal" font-style="normal" stroke="#474747" stroke-width="0.1">6</text>
<line x1="497.94" y1="72.90" x2="497.94" y2="71.40" stroke="#666" stroke-width="0.8"/>
<text x="497.94" y="83.05" font-size="9.3" text-anchor="middle" fill="#474747" font-weight="normal" font-style="normal" stroke="#474747" stroke-width="0.1">8</text>
<line x1="513.38" y1="72.90" x2="513.38" y2="71.40" stroke="#666" stroke-width="0.8"/>
<text x="513.38" y="83.05" font-size="9.3" text-anchor="middle" fill="#474747" font-weight="normal" font-style="normal" stroke="#474747" stroke-width="0.1">10</text>
<line x1="528.82" y1="72.90" x2="528.82" y2="71.40" stroke="#666" stroke-width="0.8"/>
<text x="528.82" y="83.05" font-size="9.3" text-anchor="middle" fill="#474747" font-weight="normal" font-style="normal" stroke="#474747" stroke-width="0.1">12</text>
<line x1="544.26" y1="72.90" x2="544.26" y2="71.40" stroke="#666" stroke-width="0.8"/>
<text x="544.26" y="83.05" font-size="9.3" text-anchor="middle" fill="#474747" font-weight="normal" font-style="normal" stroke="#474747" stroke-width="0.1">14</text>
<line x1="559.70" y1="72.90" x2="559.70" y2="71.40" stroke="#666" stroke-width="0.8"/>
<text x="559.70" y="83.05" font-size="9.3" text-anchor="middle" fill="#474747" font-weight="normal" font-style="normal" stroke="#474747" stroke-width="0.1">16</text>
<line x1="575.14" y1="72.90" x2="575.14" y2="71.40" stroke="#666" stroke-width="0.8"/>
<text x="575.14" y="83.05" font-size="9.3" text-anchor="middle" fill="#474747" font-weight="normal" font-style="normal" stroke="#474747" stroke-width="0.1">18</text>
<line x1="590.58" y1="72.90" x2="590.58" y2="71.40" stroke="#666" stroke-width="0.8"/>
<text x="590.58" y="83.05" font-size="9.3" text-anchor="middle" fill="#474747" font-weight="normal" font-style="normal" stroke="#474747" stroke-width="0.1">20</text>
<line x1="606.02" y1="72.90" x2="606.02" y2="71.40" stroke="#666" stroke-width="0.8"/>
<text x="606.02" y="83.05" font-size="9.3" text-anchor="middle" fill="#474747" font-weight="normal" font-style="normal" stroke="#474747" stroke-width="0.1">22</text>
<line x1="621.46" y1="72.90" x2="621.46" y2="71.40" stroke="#666" stroke-width="0.8"/>
<text x="621.46" y="83.05" font-size="9.3" text-anchor="middle" fill="#474747" font-weight="normal" font-style="normal" stroke="#474747" stroke-width="0.1">24</text>
<line x1="636.90" y1="72.90" x2="636.90" y2="71.40" stroke="#666" stroke-width="0.8"/>
<text x="636.90" y="83.05" font-size="9.3" text-anchor="middle" fill="#474747" font-weight="normal" font-style="normal" stroke="#474747" stroke-width="0.1">26</text>
<text x="559.50" y="91.70" font-size="9.3" text-anchor="middle" fill="#111" font-weight="normal" font-style="normal" textLength="44.2" lengthAdjust="spacingAndGlyphs" stroke="#111" stroke-width="0.1">time (min)</text>
<text x="459.20" y="44.60" font-size="9.11" text-anchor="middle" fill="#6fae72" font-weight="normal" font-style="normal" transform="rotate(-90 459.20 44.60)" textLength="53.3" lengthAdjust="spacingAndGlyphs" stroke="#6fae72" stroke-width="0.1">[Knirps] (au)</text>
<text x="677.60" y="41.10" font-size="9.3" text-anchor="middle" fill="#e0609c" font-weight="normal" font-style="normal" transform="rotate(90 677.60 41.10)" textLength="76.3" lengthAdjust="spacingAndGlyphs" stroke="#e0609c" stroke-width="0.1">transcription rate</text>
<text x="666.60" y="42.60" font-size="9.3" text-anchor="middle" fill="#e0609c" font-weight="normal" font-style="normal" transform="rotate(90 666.60 42.60)" textLength="55" lengthAdjust="spacingAndGlyphs" stroke="#e0609c" stroke-width="0.1">(normalized)</text>
<polyline points="475.30,65.40 482.80,62.90 491.30,61.20 502.00,59.00 512.60,56.90 523.30,54.80 529.70,52.60 538.20,52.60 540.40,53.70 546.80,50.50 555.30,47.30 561.70,45.20 567.00,44.50 579.50,41.25 592.00,40.00 600.00,39.40 608.00,38.50 614.00,38.30 617.00,39.50 621.00,40.30 625.00,40.60 628.00,38.50 630.50,36.80 634.00,38.00 637.00,40.00 641.00,40.80 647.00,41.00" fill="none" stroke="#3d6e3d" stroke-width="0.7" stroke-linejoin="round"/>
<circle cx="475.50" cy="65.30" r="1.45" fill="#66a666" stroke="#2f5c2f" stroke-width="0.5"/>
<circle cx="477.65" cy="64.66" r="1.45" fill="#66a666" stroke="#2f5c2f" stroke-width="0.5"/>
<circle cx="479.80" cy="64.20" r="1.45" fill="#66a666" stroke="#2f5c2f" stroke-width="0.5"/>
<circle cx="481.95" cy="63.16" r="1.45" fill="#66a666" stroke="#2f5c2f" stroke-width="0.5"/>
<circle cx="484.10" cy="62.65" r="1.45" fill="#66a666" stroke="#2f5c2f" stroke-width="0.5"/>
<circle cx="486.25" cy="62.27" r="1.45" fill="#66a666" stroke="#2f5c2f" stroke-width="0.5"/>
<circle cx="488.40" cy="61.56" r="1.45" fill="#66a666" stroke="#2f5c2f" stroke-width="0.5"/>
<circle cx="490.55" cy="61.36" r="1.45" fill="#66a666" stroke="#2f5c2f" stroke-width="0.5"/>
<circle cx="492.70" cy="61.00" r="1.45" fill="#66a666" stroke="#2f5c2f" stroke-width="0.5"/>
<circle cx="494.85" cy="60.68" r="1.45" fill="#66a666" stroke="#2f5c2f" stroke-width="0.5"/>
<circle cx="497.00" cy="59.74" r="1.45" fill="#66a666" stroke="#2f5c2f" stroke-width="0.5"/>
<circle cx="499.15" cy="59.45" r="1.45" fill="#66a666" stroke="#2f5c2f" stroke-width="0.5"/>
<circle cx="501.30" cy="58.86" r="1.45" fill="#66a666" stroke="#2f5c2f" stroke-width="0.5"/>
<circle cx="503.45" cy="58.93" r="1.45" fill="#66a666" stroke="#2f5c2f" stroke-width="0.5"/>
<circle cx="505.60" cy="58.42" r="1.45" fill="#66a666" stroke="#2f5c2f" stroke-width="0.5"/>
<circle cx="507.75" cy="57.54" r="1.45" fill="#66a666" stroke="#2f5c2f" stroke-width="0.5"/>
<circle cx="509.90" cy="57.77" r="1.45" fill="#66a666" stroke="#2f5c2f" stroke-width="0.5"/>
<circle cx="512.05" cy="57.33" r="1.45" fill="#66a666" stroke="#2f5c2f" stroke-width="0.5"/>
<circle cx="514.20" cy="56.69" r="1.45" fill="#66a666" stroke="#2f5c2f" stroke-width="0.5"/>
<circle cx="516.35" cy="56.24" r="1.45" fill="#66a666" stroke="#2f5c2f" stroke-width="0.5"/>
<circle cx="518.50" cy="55.50" r="1.45" fill="#66a666" stroke="#2f5c2f" stroke-width="0.5"/>
<circle cx="520.65" cy="54.98" r="1.45" fill="#66a666" stroke="#2f5c2f" stroke-width="0.5"/>
<circle cx="522.80" cy="54.92" r="1.45" fill="#66a666" stroke="#2f5c2f" stroke-width="0.5"/>
<circle cx="524.95" cy="53.92" r="1.45" fill="#66a666" stroke="#2f5c2f" stroke-width="0.5"/>
<circle cx="527.10" cy="53.28" r="1.45" fill="#66a666" stroke="#2f5c2f" stroke-width="0.5"/>
<circle cx="529.25" cy="52.57" r="1.45" fill="#66a666" stroke="#2f5c2f" stroke-width="0.5"/>
<circle cx="531.40" cy="52.27" r="1.45" fill="#66a666" stroke="#2f5c2f" stroke-width="0.5"/>
<circle cx="533.55" cy="52.57" r="1.45" fill="#66a666" stroke="#2f5c2f" stroke-width="0.5"/>
<circle cx="535.70" cy="52.56" r="1.45" fill="#66a666" stroke="#2f5c2f" stroke-width="0.5"/>
<circle cx="537.85" cy="52.84" r="1.45" fill="#66a666" stroke="#2f5c2f" stroke-width="0.5"/>
<circle cx="540.00" cy="53.51" r="1.45" fill="#66a666" stroke="#2f5c2f" stroke-width="0.5"/>
<circle cx="542.15" cy="52.92" r="1.45" fill="#66a666" stroke="#2f5c2f" stroke-width="0.5"/>
<circle cx="544.30" cy="51.75" r="1.45" fill="#66a666" stroke="#2f5c2f" stroke-width="0.5"/>
<circle cx="546.45" cy="50.79" r="1.45" fill="#66a666" stroke="#2f5c2f" stroke-width="0.5"/>
<circle cx="548.60" cy="49.79" r="1.45" fill="#66a666" stroke="#2f5c2f" stroke-width="0.5"/>
<circle cx="550.75" cy="48.86" r="1.45" fill="#66a666" stroke="#2f5c2f" stroke-width="0.5"/>
<circle cx="552.90" cy="48.55" r="1.45" fill="#66a666" stroke="#2f5c2f" stroke-width="0.5"/>
<circle cx="555.05" cy="47.74" r="1.45" fill="#66a666" stroke="#2f5c2f" stroke-width="0.5"/>
<circle cx="557.20" cy="46.91" r="1.45" fill="#66a666" stroke="#2f5c2f" stroke-width="0.5"/>
<circle cx="559.35" cy="46.12" r="1.45" fill="#66a666" stroke="#2f5c2f" stroke-width="0.5"/>
<circle cx="561.50" cy="45.14" r="1.45" fill="#66a666" stroke="#2f5c2f" stroke-width="0.5"/>
<circle cx="563.65" cy="44.75" r="1.45" fill="#66a666" stroke="#2f5c2f" stroke-width="0.5"/>
<circle cx="565.80" cy="44.51" r="1.45" fill="#66a666" stroke="#2f5c2f" stroke-width="0.5"/>
<circle cx="567.95" cy="43.95" r="1.45" fill="#66a666" stroke="#2f5c2f" stroke-width="0.5"/>
<circle cx="570.10" cy="43.88" r="1.45" fill="#66a666" stroke="#2f5c2f" stroke-width="0.5"/>
<circle cx="572.25" cy="43.07" r="1.45" fill="#66a666" stroke="#2f5c2f" stroke-width="0.5"/>
<circle cx="574.40" cy="42.82" r="1.45" fill="#66a666" stroke="#2f5c2f" stroke-width="0.5"/>
<circle cx="576.55" cy="41.94" r="1.45" fill="#66a666" stroke="#2f5c2f" stroke-width="0.5"/>
<circle cx="578.70" cy="41.78" r="1.45" fill="#66a666" stroke="#2f5c2f" stroke-width="0.5"/>
<circle cx="580.85" cy="41.36" r="1.45" fill="#66a666" stroke="#2f5c2f" stroke-width="0.5"/>
<circle cx="583.00" cy="40.55" r="1.45" fill="#66a666" stroke="#2f5c2f" stroke-width="0.5"/>
<circle cx="585.15" cy="40.48" r="1.45" fill="#66a666" stroke="#2f5c2f" stroke-width="0.5"/>
<circle cx="587.30" cy="40.76" r="1.45" fill="#66a666" stroke="#2f5c2f" stroke-width="0.5"/>
<circle cx="589.45" cy="40.23" r="1.45" fill="#66a666" stroke="#2f5c2f" stroke-width="0.5"/>
<circle cx="591.60" cy="40.38" r="1.45" fill="#66a666" stroke="#2f5c2f" stroke-width="0.5"/>
<circle cx="593.75" cy="39.80" r="1.45" fill="#66a666" stroke="#2f5c2f" stroke-width="0.5"/>
<circle cx="595.90" cy="39.41" r="1.45" fill="#66a666" stroke="#2f5c2f" stroke-width="0.5"/>
<circle cx="598.05" cy="39.64" r="1.45" fill="#66a666" stroke="#2f5c2f" stroke-width="0.5"/>
<circle cx="600.20" cy="39.57" r="1.45" fill="#66a666" stroke="#2f5c2f" stroke-width="0.5"/>
<circle cx="602.35" cy="38.97" r="1.45" fill="#66a666" stroke="#2f5c2f" stroke-width="0.5"/>
<circle cx="604.50" cy="38.60" r="1.45" fill="#66a666" stroke="#2f5c2f" stroke-width="0.5"/>
<circle cx="606.65" cy="38.53" r="1.45" fill="#66a666" stroke="#2f5c2f" stroke-width="0.5"/>
<circle cx="608.80" cy="38.80" r="1.45" fill="#66a666" stroke="#2f5c2f" stroke-width="0.5"/>
<circle cx="610.95" cy="38.58" r="1.45" fill="#66a666" stroke="#2f5c2f" stroke-width="0.5"/>
<circle cx="613.10" cy="38.06" r="1.45" fill="#66a666" stroke="#2f5c2f" stroke-width="0.5"/>
<circle cx="615.25" cy="38.62" r="1.45" fill="#66a666" stroke="#2f5c2f" stroke-width="0.5"/>
<circle cx="617.40" cy="39.30" r="1.45" fill="#66a666" stroke="#2f5c2f" stroke-width="0.5"/>
<circle cx="619.55" cy="39.70" r="1.45" fill="#66a666" stroke="#2f5c2f" stroke-width="0.5"/>
<circle cx="621.70" cy="40.56" r="1.45" fill="#66a666" stroke="#2f5c2f" stroke-width="0.5"/>
<circle cx="623.85" cy="40.29" r="1.45" fill="#66a666" stroke="#2f5c2f" stroke-width="0.5"/>
<circle cx="626.00" cy="39.94" r="1.45" fill="#66a666" stroke="#2f5c2f" stroke-width="0.5"/>
<circle cx="628.15" cy="38.36" r="1.45" fill="#66a666" stroke="#2f5c2f" stroke-width="0.5"/>
<circle cx="630.30" cy="36.72" r="1.45" fill="#66a666" stroke="#2f5c2f" stroke-width="0.5"/>
<circle cx="632.45" cy="37.63" r="1.45" fill="#66a666" stroke="#2f5c2f" stroke-width="0.5"/>
<circle cx="634.60" cy="38.14" r="1.45" fill="#66a666" stroke="#2f5c2f" stroke-width="0.5"/>
<circle cx="636.75" cy="39.93" r="1.45" fill="#66a666" stroke="#2f5c2f" stroke-width="0.5"/>
<circle cx="638.90" cy="40.11" r="1.45" fill="#66a666" stroke="#2f5c2f" stroke-width="0.5"/>
<circle cx="641.05" cy="40.75" r="1.45" fill="#66a666" stroke="#2f5c2f" stroke-width="0.5"/>
<circle cx="643.20" cy="40.67" r="1.45" fill="#66a666" stroke="#2f5c2f" stroke-width="0.5"/>
<circle cx="645.35" cy="40.78" r="1.45" fill="#66a666" stroke="#2f5c2f" stroke-width="0.5"/>
<circle cx="647.50" cy="41.33" r="1.45" fill="#66a666" stroke="#2f5c2f" stroke-width="0.5"/>
<polyline points="475.30,50.50 477.50,46.20 480.20,36.00 482.40,24.90 484.90,23.90 487.50,20.20 490.30,22.40 492.40,23.90 495.20,30.30 498.10,35.60 500.90,37.70 503.70,44.10 506.20,48.40 508.40,52.60 510.90,52.60 513.70,48.40 516.50,44.10 519.00,39.90 521.20,34.50 523.30,31.30 525.90,30.30 528.60,27.10 531.40,22.80 533.50,23.90 536.10,27.50 538.70,33.50 541.40,37.70 544.20,43.00 546.80,46.20 549.30,49.40 551.40,56.50 554.20,63.30 556.40,68.60 558.50,70.10 561.00,70.30 563.65,70.30 565.80,70.30 567.95,70.30 570.10,70.30 572.25,70.30 574.40,70.30 576.55,70.30 578.70,70.30 580.85,70.30 583.00,70.30 585.15,70.30 587.30,70.30 589.45,70.30 591.60,70.30 593.75,70.30 595.90,70.30 598.05,70.30 600.20,70.30 602.35,70.30 604.50,70.30 606.65,70.30 608.80,70.30 610.95,70.30 613.10,70.30 615.25,70.30 617.40,70.30 619.55,70.30 621.70,70.30 623.85,70.30 626.00,70.30 628.15,70.30 630.30,70.30 632.45,70.30 634.60,70.30 636.75,70.30 638.90,70.30 641.05,70.30 643.20,70.30 645.35,70.30 647.50,70.30" fill="none" stroke="#d8488e" stroke-width="0.9" stroke-linejoin="round"/>
<circle cx="475.30" cy="50.50" r="1.45" fill="#cc3f87" stroke="#8e2560" stroke-width="0.4"/>
<circle cx="477.50" cy="46.20" r="1.45" fill="#cc3f87" stroke="#8e2560" stroke-width="0.4"/>
<circle cx="480.20" cy="36.00" r="1.45" fill="#cc3f87" stroke="#8e2560" stroke-width="0.4"/>
<circle cx="482.40" cy="24.90" r="1.45" fill="#cc3f87" stroke="#8e2560" stroke-width="0.4"/>
<circle cx="484.90" cy="23.90" r="1.45" fill="#cc3f87" stroke="#8e2560" stroke-width="0.4"/>
<circle cx="487.50" cy="20.20" r="1.45" fill="#cc3f87" stroke="#8e2560" stroke-width="0.4"/>
<circle cx="490.30" cy="22.40" r="1.45" fill="#cc3f87" stroke="#8e2560" stroke-width="0.4"/>
<circle cx="492.40" cy="23.90" r="1.45" fill="#cc3f87" stroke="#8e2560" stroke-width="0.4"/>
<circle cx="495.20" cy="30.30" r="1.45" fill="#cc3f87" stroke="#8e2560" stroke-width="0.4"/>
<circle cx="498.10" cy="35.60" r="1.45" fill="#cc3f87" stroke="#8e2560" stroke-width="0.4"/>
<circle cx="500.90" cy="37.70" r="1.45" fill="#cc3f87" stroke="#8e2560" stroke-width="0.4"/>
<circle cx="503.70" cy="44.10" r="1.45" fill="#cc3f87" stroke="#8e2560" stroke-width="0.4"/>
<circle cx="506.20" cy="48.40" r="1.45" fill="#cc3f87" stroke="#8e2560" stroke-width="0.4"/>
<circle cx="508.40" cy="52.60" r="1.45" fill="#cc3f87" stroke="#8e2560" stroke-width="0.4"/>
<circle cx="510.90" cy="52.60" r="1.45" fill="#cc3f87" stroke="#8e2560" stroke-width="0.4"/>
<circle cx="513.70" cy="48.40" r="1.45" fill="#cc3f87" stroke="#8e2560" stroke-width="0.4"/>
<circle cx="516.50" cy="44.10" r="1.45" fill="#cc3f87" stroke="#8e2560" stroke-width="0.4"/>
<circle cx="519.00" cy="39.90" r="1.45" fill="#cc3f87" stroke="#8e2560" stroke-width="0.4"/>
<circle cx="521.20" cy="34.50" r="1.45" fill="#cc3f87" stroke="#8e2560" stroke-width="0.4"/>
<circle cx="523.30" cy="31.30" r="1.45" fill="#cc3f87" stroke="#8e2560" stroke-width="0.4"/>
<circle cx="525.90" cy="30.30" r="1.45" fill="#cc3f87" stroke="#8e2560" stroke-width="0.4"/>
<circle cx="528.60" cy="27.10" r="1.45" fill="#cc3f87" stroke="#8e2560" stroke-width="0.4"/>
<circle cx="531.40" cy="22.80" r="1.45" fill="#cc3f87" stroke="#8e2560" stroke-width="0.4"/>
<circle cx="533.50" cy="23.90" r="1.45" fill="#cc3f87" stroke="#8e2560" stroke-width="0.4"/>
<circle cx="536.10" cy="27.50" r="1.45" fill="#cc3f87" stroke="#8e2560" stroke-width="0.4"/>
<circle cx="538.70" cy="33.50" r="1.45" fill="#cc3f87" stroke="#8e2560" stroke-width="0.4"/>
<circle cx="541.40" cy="37.70" r="1.45" fill="#cc3f87" stroke="#8e2560" stroke-width="0.4"/>
<circle cx="544.20" cy="43.00" r="1.45" fill="#cc3f87" stroke="#8e2560" stroke-width="0.4"/>
<circle cx="546.80" cy="46.20" r="1.45" fill="#cc3f87" stroke="#8e2560" stroke-width="0.4"/>
<circle cx="549.30" cy="49.40" r="1.45" fill="#cc3f87" stroke="#8e2560" stroke-width="0.4"/>
<circle cx="551.40" cy="56.50" r="1.45" fill="#cc3f87" stroke="#8e2560" stroke-width="0.4"/>
<circle cx="554.20" cy="63.30" r="1.45" fill="#cc3f87" stroke="#8e2560" stroke-width="0.4"/>
<circle cx="556.40" cy="68.60" r="1.45" fill="#cc3f87" stroke="#8e2560" stroke-width="0.4"/>
<circle cx="558.50" cy="70.10" r="1.45" fill="#cc3f87" stroke="#8e2560" stroke-width="0.4"/>
<circle cx="561.00" cy="70.30" r="1.45" fill="#cc3f87" stroke="#8e2560" stroke-width="0.4"/>
<circle cx="563.65" cy="70.30" r="1.45" fill="#cc3f87" stroke="#8e2560" stroke-width="0.4"/>
<circle cx="565.80" cy="70.30" r="1.45" fill="#cc3f87" stroke="#8e2560" stroke-width="0.4"/>
<circle cx="567.95" cy="70.30" r="1.45" fill="#cc3f87" stroke="#8e2560" stroke-width="0.4"/>
<circle cx="570.10" cy="70.30" r="1.45" fill="#cc3f87" stroke="#8e2560" stroke-width="0.4"/>
<circle cx="572.25" cy="70.30" r="1.45" fill="#cc3f87" stroke="#8e2560" stroke-width="0.4"/>
<circle cx="574.40" cy="70.30" r="1.45" fill="#cc3f87" stroke="#8e2560" stroke-width="0.4"/>
<circle cx="576.55" cy="70.30" r="1.45" fill="#cc3f87" stroke="#8e2560" stroke-width="0.4"/>
<circle cx="578.70" cy="70.30" r="1.45" fill="#cc3f87" stroke="#8e2560" stroke-width="0.4"/>
<circle cx="580.85" cy="70.30" r="1.45" fill="#cc3f87" stroke="#8e2560" stroke-width="0.4"/>
<circle cx="583.00" cy="70.30" r="1.45" fill="#cc3f87" stroke="#8e2560" stroke-width="0.4"/>
<circle cx="585.15" cy="70.30" r="1.45" fill="#cc3f87" stroke="#8e2560" stroke-width="0.4"/>
<circle cx="587.30" cy="70.30" r="1.45" fill="#cc3f87" stroke="#8e2560" stroke-width="0.4"/>
<circle cx="589.45" cy="70.30" r="1.45" fill="#cc3f87" stroke="#8e2560" stroke-width="0.4"/>
<circle cx="591.60" cy="70.30" r="1.45" fill="#cc3f87" stroke="#8e2560" stroke-width="0.4"/>
<circle cx="593.75" cy="70.30" r="1.45" fill="#cc3f87" stroke="#8e2560" stroke-width="0.4"/>
<circle cx="595.90" cy="70.30" r="1.45" fill="#cc3f87" stroke="#8e2560" stroke-width="0.4"/>
<circle cx="598.05" cy="70.30" r="1.45" fill="#cc3f87" stroke="#8e2560" stroke-width="0.4"/>
<circle cx="600.20" cy="70.30" r="1.45" fill="#cc3f87" stroke="#8e2560" stroke-width="0.4"/>
<circle cx="602.35" cy="70.30" r="1.45" fill="#cc3f87" stroke="#8e2560" stroke-width="0.4"/>
<circle cx="604.50" cy="70.30" r="1.45" fill="#cc3f87" stroke="#8e2560" stroke-width="0.4"/>
<circle cx="606.65" cy="70.30" r="1.45" fill="#cc3f87" stroke="#8e2560" stroke-width="0.4"/>
<circle cx="608.80" cy="70.30" r="1.45" fill="#cc3f87" stroke="#8e2560" stroke-width="0.4"/>
<circle cx="610.95" cy="70.30" r="1.45" fill="#cc3f87" stroke="#8e2560" stroke-width="0.4"/>
<circle cx="613.10" cy="70.30" r="1.45" fill="#cc3f87" stroke="#8e2560" stroke-width="0.4"/>
<circle cx="615.25" cy="70.30" r="1.45" fill="#cc3f87" stroke="#8e2560" stroke-width="0.4"/>
<circle cx="617.40" cy="70.30" r="1.45" fill="#cc3f87" stroke="#8e2560" stroke-width="0.4"/>
<circle cx="619.55" cy="70.30" r="1.45" fill="#cc3f87" stroke="#8e2560" stroke-width="0.4"/>
<circle cx="621.70" cy="70.30" r="1.45" fill="#cc3f87" stroke="#8e2560" stroke-width="0.4"/>
<circle cx="623.85" cy="70.30" r="1.45" fill="#cc3f87" stroke="#8e2560" stroke-width="0.4"/>
<circle cx="626.00" cy="70.30" r="1.45" fill="#cc3f87" stroke="#8e2560" stroke-width="0.4"/>
<circle cx="628.15" cy="70.30" r="1.45" fill="#cc3f87" stroke="#8e2560" stroke-width="0.4"/>
<circle cx="630.30" cy="70.30" r="1.45" fill="#cc3f87" stroke="#8e2560" stroke-width="0.4"/>
<circle cx="632.45" cy="70.30" r="1.45" fill="#cc3f87" stroke="#8e2560" stroke-width="0.4"/>
<circle cx="634.60" cy="70.30" r="1.45" fill="#cc3f87" stroke="#8e2560" stroke-width="0.4"/>
<circle cx="636.75" cy="70.30" r="1.45" fill="#cc3f87" stroke="#8e2560" stroke-width="0.4"/>
<circle cx="638.90" cy="70.30" r="1.45" fill="#cc3f87" stroke="#8e2560" stroke-width="0.4"/>
<circle cx="641.05" cy="70.30" r="1.45" fill="#cc3f87" stroke="#8e2560" stroke-width="0.4"/>
<circle cx="643.20" cy="70.30" r="1.45" fill="#cc3f87" stroke="#8e2560" stroke-width="0.4"/>
<circle cx="645.35" cy="70.30" r="1.45" fill="#cc3f87" stroke="#8e2560" stroke-width="0.4"/>
<circle cx="647.50" cy="70.30" r="1.45" fill="#cc3f87" stroke="#8e2560" stroke-width="0.4"/>
<rect x="474.90" y="100.10" width="120.00" height="13.60" rx="0" fill="#97b3d7"/>
<rect x="594.90" y="100.10" width="53.10" height="13.60" rx="0" fill="#cf6551"/>
<text x="535.40" y="111.10" font-size="10" text-anchor="middle" fill="#1a1a1a" font-weight="normal" font-style="normal" textLength="33.5" lengthAdjust="spacingAndGlyphs" stroke="#1a1a1a" stroke-width="0.13999999999999999">ACTIVE</text>
<text x="621.75" y="111.10" font-size="10.2" text-anchor="middle" fill="white" font-weight="normal" font-style="normal" textLength="48" lengthAdjust="spacingAndGlyphs" stroke="white" stroke-width="0.13999999999999999">REPRESSED</text>
<line x1="594.90" y1="113.70" x2="594.90" y2="173.60" stroke="#9a9a9a" stroke-width="0.8" stroke-dasharray="2.4,1.8"/>
<line x1="475.20" y1="116.60" x2="475.20" y2="173.90" stroke="#7fb77f" stroke-width="1"/>
<line x1="475.20" y1="173.60" x2="648.00" y2="173.60" stroke="#666" stroke-width="1"/>
<line x1="648.00" y1="116.60" x2="648.00" y2="173.90" stroke="#ea8cb8" stroke-width="1"/>
<line x1="475.20" y1="169.80" x2="476.70" y2="169.80" stroke="#7fb77f" stroke-width="0.8"/>
<text x="472.60" y="173.00" font-size="9" text-anchor="end" fill="#6fae72" font-weight="normal" font-style="normal" stroke="#6fae72" stroke-width="0.1">2</text>
<line x1="475.20" y1="160.20" x2="476.70" y2="160.20" stroke="#7fb77f" stroke-width="0.8"/>
<text x="472.60" y="163.40" font-size="9" text-anchor="end" fill="#6fae72" font-weight="normal" font-style="normal" stroke="#6fae72" stroke-width="0.1">4</text>
<line x1="475.20" y1="150.60" x2="476.70" y2="150.60" stroke="#7fb77f" stroke-width="0.8"/>
<text x="472.60" y="153.80" font-size="9" text-anchor="end" fill="#6fae72" font-weight="normal" font-style="normal" stroke="#6fae72" stroke-width="0.1">6</text>
<line x1="475.20" y1="141.00" x2="476.70" y2="141.00" stroke="#7fb77f" stroke-width="0.8"/>
<text x="472.60" y="144.19" font-size="9" text-anchor="end" fill="#6fae72" font-weight="normal" font-style="normal" stroke="#6fae72" stroke-width="0.1">8</text>
<line x1="475.20" y1="131.40" x2="476.70" y2="131.40" stroke="#7fb77f" stroke-width="0.8"/>
<text x="472.60" y="134.59" font-size="9" text-anchor="end" fill="#6fae72" font-weight="normal" font-style="normal" stroke="#6fae72" stroke-width="0.1">10</text>
<line x1="475.20" y1="121.80" x2="476.70" y2="121.80" stroke="#7fb77f" stroke-width="0.8"/>
<text x="472.60" y="125.00" font-size="9" text-anchor="end" fill="#6fae72" font-weight="normal" font-style="normal" stroke="#6fae72" stroke-width="0.1">12</text>
<line x1="646.50" y1="170.90" x2="648.00" y2="170.90" stroke="#ea8cb8" stroke-width="0.8"/>
<text x="650.80" y="174.20" font-size="9.3" text-anchor="start" fill="#e0609c" font-weight="normal" font-style="normal" stroke="#e0609c" stroke-width="0.1">0</text>
<line x1="646.50" y1="151.05" x2="648.00" y2="151.05" stroke="#ea8cb8" stroke-width="0.8"/>
<text x="650.80" y="154.35" font-size="9.3" text-anchor="start" fill="#e0609c" font-weight="normal" font-style="normal" stroke="#e0609c" stroke-width="0.1">0.4</text>
<line x1="646.50" y1="131.20" x2="648.00" y2="131.20" stroke="#ea8cb8" stroke-width="0.8"/>
<text x="650.80" y="134.50" font-size="9.3" text-anchor="start" fill="#e0609c" font-weight="normal" font-style="normal" stroke="#e0609c" stroke-width="0.1">0.8</text>
<line x1="482.50" y1="173.60" x2="482.50" y2="172.10" stroke="#666" stroke-width="0.8"/>
<text x="482.50" y="183.75" font-size="9.3" text-anchor="middle" fill="#474747" font-weight="normal" font-style="normal" stroke="#474747" stroke-width="0.1">6</text>
<line x1="497.94" y1="173.60" x2="497.94" y2="172.10" stroke="#666" stroke-width="0.8"/>
<text x="497.94" y="183.75" font-size="9.3" text-anchor="middle" fill="#474747" font-weight="normal" font-style="normal" stroke="#474747" stroke-width="0.1">8</text>
<line x1="513.38" y1="173.60" x2="513.38" y2="172.10" stroke="#666" stroke-width="0.8"/>
<text x="513.38" y="183.75" font-size="9.3" text-anchor="middle" fill="#474747" font-weight="normal" font-style="normal" stroke="#474747" stroke-width="0.1">10</text>
<line x1="528.82" y1="173.60" x2="528.82" y2="172.10" stroke="#666" stroke-width="0.8"/>
<text x="528.82" y="183.75" font-size="9.3" text-anchor="middle" fill="#474747" font-weight="normal" font-style="normal" stroke="#474747" stroke-width="0.1">12</text>
<line x1="544.26" y1="173.60" x2="544.26" y2="172.10" stroke="#666" stroke-width="0.8"/>
<text x="544.26" y="183.75" font-size="9.3" text-anchor="middle" fill="#474747" font-weight="normal" font-style="normal" stroke="#474747" stroke-width="0.1">14</text>
<line x1="559.70" y1="173.60" x2="559.70" y2="172.10" stroke="#666" stroke-width="0.8"/>
<text x="559.70" y="183.75" font-size="9.3" text-anchor="middle" fill="#474747" font-weight="normal" font-style="normal" stroke="#474747" stroke-width="0.1">16</text>
<line x1="575.14" y1="173.60" x2="575.14" y2="172.10" stroke="#666" stroke-width="0.8"/>
<text x="575.14" y="183.75" font-size="9.3" text-anchor="middle" fill="#474747" font-weight="normal" font-style="normal" stroke="#474747" stroke-width="0.1">18</text>
<line x1="590.58" y1="173.60" x2="590.58" y2="172.10" stroke="#666" stroke-width="0.8"/>
<text x="590.58" y="183.75" font-size="9.3" text-anchor="middle" fill="#474747" font-weight="normal" font-style="normal" stroke="#474747" stroke-width="0.1">20</text>
<line x1="606.02" y1="173.60" x2="606.02" y2="172.10" stroke="#666" stroke-width="0.8"/>
<text x="606.02" y="183.75" font-size="9.3" text-anchor="middle" fill="#474747" font-weight="normal" font-style="normal" stroke="#474747" stroke-width="0.1">22</text>
<line x1="621.46" y1="173.60" x2="621.46" y2="172.10" stroke="#666" stroke-width="0.8"/>
<text x="621.46" y="183.75" font-size="9.3" text-anchor="middle" fill="#474747" font-weight="normal" font-style="normal" stroke="#474747" stroke-width="0.1">24</text>
<line x1="636.90" y1="173.60" x2="636.90" y2="172.10" stroke="#666" stroke-width="0.8"/>
<text x="636.90" y="183.75" font-size="9.3" text-anchor="middle" fill="#474747" font-weight="normal" font-style="normal" stroke="#474747" stroke-width="0.1">26</text>
<text x="559.50" y="192.40" font-size="9.3" text-anchor="middle" fill="#111" font-weight="normal" font-style="normal" textLength="44.2" lengthAdjust="spacingAndGlyphs" stroke="#111" stroke-width="0.1">time (min)</text>
<text x="459.20" y="145.60" font-size="9.11" text-anchor="middle" fill="#6fae72" font-weight="normal" font-style="normal" transform="rotate(-90 459.20 145.60)" textLength="53.3" lengthAdjust="spacingAndGlyphs" stroke="#6fae72" stroke-width="0.1">[Knirps] (au)</text>
<text x="677.60" y="142.10" font-size="9.3" text-anchor="middle" fill="#e0609c" font-weight="normal" font-style="normal" transform="rotate(90 677.60 142.10)" textLength="76.3" lengthAdjust="spacingAndGlyphs" stroke="#e0609c" stroke-width="0.1">transcription rate</text>
<text x="666.60" y="143.60" font-size="9.3" text-anchor="middle" fill="#e0609c" font-weight="normal" font-style="normal" transform="rotate(90 666.60 143.60)" textLength="55" lengthAdjust="spacingAndGlyphs" stroke="#e0609c" stroke-width="0.1">(normalized)</text>
<polyline points="475.30,167.10 482.80,167.10 491.30,165.90 499.90,162.90 508.40,161.60 516.90,159.50 525.40,157.30 534.00,156.90 540.40,154.80 546.80,152.20 551.00,150.10 559.60,150.90 566.40,148.40 572.80,149.40 576.00,147.30 581.30,145.80 587.70,144.80 594.10,143.70 600.50,142.00 606.90,140.90 615.40,138.80 619.70,138.10 624.00,138.80 632.50,138.80 638.90,137.70 646.40,136.70" fill="none" stroke="#3d6e3d" stroke-width="0.7" stroke-linejoin="round"/>
<circle cx="475.50" cy="167.31" r="1.45" fill="#66a666" stroke="#2f5c2f" stroke-width="0.5"/>
<circle cx="477.65" cy="166.96" r="1.45" fill="#66a666" stroke="#2f5c2f" stroke-width="0.5"/>
<circle cx="479.80" cy="167.37" r="1.45" fill="#66a666" stroke="#2f5c2f" stroke-width="0.5"/>
<circle cx="481.95" cy="166.90" r="1.45" fill="#66a666" stroke="#2f5c2f" stroke-width="0.5"/>
<circle cx="484.10" cy="166.84" r="1.45" fill="#66a666" stroke="#2f5c2f" stroke-width="0.5"/>
<circle cx="486.25" cy="166.86" r="1.45" fill="#66a666" stroke="#2f5c2f" stroke-width="0.5"/>
<circle cx="488.40" cy="166.41" r="1.45" fill="#66a666" stroke="#2f5c2f" stroke-width="0.5"/>
<circle cx="490.55" cy="165.73" r="1.45" fill="#66a666" stroke="#2f5c2f" stroke-width="0.5"/>
<circle cx="492.70" cy="165.75" r="1.45" fill="#66a666" stroke="#2f5c2f" stroke-width="0.5"/>
<circle cx="494.85" cy="164.46" r="1.45" fill="#66a666" stroke="#2f5c2f" stroke-width="0.5"/>
<circle cx="497.00" cy="163.74" r="1.45" fill="#66a666" stroke="#2f5c2f" stroke-width="0.5"/>
<circle cx="499.15" cy="163.35" r="1.45" fill="#66a666" stroke="#2f5c2f" stroke-width="0.5"/>
<circle cx="501.30" cy="162.57" r="1.45" fill="#66a666" stroke="#2f5c2f" stroke-width="0.5"/>
<circle cx="503.45" cy="162.21" r="1.45" fill="#66a666" stroke="#2f5c2f" stroke-width="0.5"/>
<circle cx="505.60" cy="161.73" r="1.45" fill="#66a666" stroke="#2f5c2f" stroke-width="0.5"/>
<circle cx="507.75" cy="161.41" r="1.45" fill="#66a666" stroke="#2f5c2f" stroke-width="0.5"/>
<circle cx="509.90" cy="161.29" r="1.45" fill="#66a666" stroke="#2f5c2f" stroke-width="0.5"/>
<circle cx="512.05" cy="160.52" r="1.45" fill="#66a666" stroke="#2f5c2f" stroke-width="0.5"/>
<circle cx="514.20" cy="160.24" r="1.45" fill="#66a666" stroke="#2f5c2f" stroke-width="0.5"/>
<circle cx="516.35" cy="159.55" r="1.45" fill="#66a666" stroke="#2f5c2f" stroke-width="0.5"/>
<circle cx="518.50" cy="159.05" r="1.45" fill="#66a666" stroke="#2f5c2f" stroke-width="0.5"/>
<circle cx="520.65" cy="158.85" r="1.45" fill="#66a666" stroke="#2f5c2f" stroke-width="0.5"/>
<circle cx="522.80" cy="157.96" r="1.45" fill="#66a666" stroke="#2f5c2f" stroke-width="0.5"/>
<circle cx="524.95" cy="157.47" r="1.45" fill="#66a666" stroke="#2f5c2f" stroke-width="0.5"/>
<circle cx="527.10" cy="157.48" r="1.45" fill="#66a666" stroke="#2f5c2f" stroke-width="0.5"/>
<circle cx="529.25" cy="156.90" r="1.45" fill="#66a666" stroke="#2f5c2f" stroke-width="0.5"/>
<circle cx="531.40" cy="156.78" r="1.45" fill="#66a666" stroke="#2f5c2f" stroke-width="0.5"/>
<circle cx="533.55" cy="157.21" r="1.45" fill="#66a666" stroke="#2f5c2f" stroke-width="0.5"/>
<circle cx="535.70" cy="156.56" r="1.45" fill="#66a666" stroke="#2f5c2f" stroke-width="0.5"/>
<circle cx="537.85" cy="155.46" r="1.45" fill="#66a666" stroke="#2f5c2f" stroke-width="0.5"/>
<circle cx="540.00" cy="154.71" r="1.45" fill="#66a666" stroke="#2f5c2f" stroke-width="0.5"/>
<circle cx="542.15" cy="154.26" r="1.45" fill="#66a666" stroke="#2f5c2f" stroke-width="0.5"/>
<circle cx="544.30" cy="153.52" r="1.45" fill="#66a666" stroke="#2f5c2f" stroke-width="0.5"/>
<circle cx="546.45" cy="152.13" r="1.45" fill="#66a666" stroke="#2f5c2f" stroke-width="0.5"/>
<circle cx="548.60" cy="151.62" r="1.45" fill="#66a666" stroke="#2f5c2f" stroke-width="0.5"/>
<circle cx="550.75" cy="150.49" r="1.45" fill="#66a666" stroke="#2f5c2f" stroke-width="0.5"/>
<circle cx="552.90" cy="150.35" r="1.45" fill="#66a666" stroke="#2f5c2f" stroke-width="0.5"/>
<circle cx="555.05" cy="150.42" r="1.45" fill="#66a666" stroke="#2f5c2f" stroke-width="0.5"/>
<circle cx="557.20" cy="150.40" r="1.45" fill="#66a666" stroke="#2f5c2f" stroke-width="0.5"/>
<circle cx="559.35" cy="150.55" r="1.45" fill="#66a666" stroke="#2f5c2f" stroke-width="0.5"/>
<circle cx="561.50" cy="150.53" r="1.45" fill="#66a666" stroke="#2f5c2f" stroke-width="0.5"/>
<circle cx="563.65" cy="149.23" r="1.45" fill="#66a666" stroke="#2f5c2f" stroke-width="0.5"/>
<circle cx="565.80" cy="148.76" r="1.45" fill="#66a666" stroke="#2f5c2f" stroke-width="0.5"/>
<circle cx="567.95" cy="148.47" r="1.45" fill="#66a666" stroke="#2f5c2f" stroke-width="0.5"/>
<circle cx="570.10" cy="149.20" r="1.45" fill="#66a666" stroke="#2f5c2f" stroke-width="0.5"/>
<circle cx="572.25" cy="149.38" r="1.45" fill="#66a666" stroke="#2f5c2f" stroke-width="0.5"/>
<circle cx="574.40" cy="148.21" r="1.45" fill="#66a666" stroke="#2f5c2f" stroke-width="0.5"/>
<circle cx="576.55" cy="146.92" r="1.45" fill="#66a666" stroke="#2f5c2f" stroke-width="0.5"/>
<circle cx="578.70" cy="146.69" r="1.45" fill="#66a666" stroke="#2f5c2f" stroke-width="0.5"/>
<circle cx="580.85" cy="145.63" r="1.45" fill="#66a666" stroke="#2f5c2f" stroke-width="0.5"/>
<circle cx="583.00" cy="145.34" r="1.45" fill="#66a666" stroke="#2f5c2f" stroke-width="0.5"/>
<circle cx="585.15" cy="145.24" r="1.45" fill="#66a666" stroke="#2f5c2f" stroke-width="0.5"/>
<circle cx="587.30" cy="145.11" r="1.45" fill="#66a666" stroke="#2f5c2f" stroke-width="0.5"/>
<circle cx="589.45" cy="144.58" r="1.45" fill="#66a666" stroke="#2f5c2f" stroke-width="0.5"/>
<circle cx="591.60" cy="143.98" r="1.45" fill="#66a666" stroke="#2f5c2f" stroke-width="0.5"/>
<circle cx="593.75" cy="144.05" r="1.45" fill="#66a666" stroke="#2f5c2f" stroke-width="0.5"/>
<circle cx="595.90" cy="143.01" r="1.45" fill="#66a666" stroke="#2f5c2f" stroke-width="0.5"/>
<circle cx="598.05" cy="142.31" r="1.45" fill="#66a666" stroke="#2f5c2f" stroke-width="0.5"/>
<circle cx="600.20" cy="141.92" r="1.45" fill="#66a666" stroke="#2f5c2f" stroke-width="0.5"/>
<circle cx="602.35" cy="141.64" r="1.45" fill="#66a666" stroke="#2f5c2f" stroke-width="0.5"/>
<circle cx="604.50" cy="141.00" r="1.45" fill="#66a666" stroke="#2f5c2f" stroke-width="0.5"/>
<circle cx="606.65" cy="140.72" r="1.45" fill="#66a666" stroke="#2f5c2f" stroke-width="0.5"/>
<circle cx="608.80" cy="140.34" r="1.45" fill="#66a666" stroke="#2f5c2f" stroke-width="0.5"/>
<circle cx="610.95" cy="139.95" r="1.45" fill="#66a666" stroke="#2f5c2f" stroke-width="0.5"/>
<circle cx="613.10" cy="139.11" r="1.45" fill="#66a666" stroke="#2f5c2f" stroke-width="0.5"/>
<circle cx="615.25" cy="138.74" r="1.45" fill="#66a666" stroke="#2f5c2f" stroke-width="0.5"/>
<circle cx="617.40" cy="138.75" r="1.45" fill="#66a666" stroke="#2f5c2f" stroke-width="0.5"/>
<circle cx="619.55" cy="138.46" r="1.45" fill="#66a666" stroke="#2f5c2f" stroke-width="0.5"/>
<circle cx="621.70" cy="138.54" r="1.45" fill="#66a666" stroke="#2f5c2f" stroke-width="0.5"/>
<circle cx="623.85" cy="138.91" r="1.45" fill="#66a666" stroke="#2f5c2f" stroke-width="0.5"/>
<circle cx="626.00" cy="138.86" r="1.45" fill="#66a666" stroke="#2f5c2f" stroke-width="0.5"/>
<circle cx="628.15" cy="138.55" r="1.45" fill="#66a666" stroke="#2f5c2f" stroke-width="0.5"/>
<circle cx="630.30" cy="138.47" r="1.45" fill="#66a666" stroke="#2f5c2f" stroke-width="0.5"/>
<circle cx="632.45" cy="138.46" r="1.45" fill="#66a666" stroke="#2f5c2f" stroke-width="0.5"/>
<circle cx="634.60" cy="138.73" r="1.45" fill="#66a666" stroke="#2f5c2f" stroke-width="0.5"/>
<circle cx="636.75" cy="138.21" r="1.45" fill="#66a666" stroke="#2f5c2f" stroke-width="0.5"/>
<circle cx="638.90" cy="138.02" r="1.45" fill="#66a666" stroke="#2f5c2f" stroke-width="0.5"/>
<circle cx="641.05" cy="137.08" r="1.45" fill="#66a666" stroke="#2f5c2f" stroke-width="0.5"/>
<circle cx="643.20" cy="137.22" r="1.45" fill="#66a666" stroke="#2f5c2f" stroke-width="0.5"/>
<circle cx="645.35" cy="136.83" r="1.45" fill="#66a666" stroke="#2f5c2f" stroke-width="0.5"/>
<circle cx="647.50" cy="136.86" r="1.45" fill="#66a666" stroke="#2f5c2f" stroke-width="0.5"/>
<polyline points="475.30,153.70 477.50,157.30 480.20,156.50 482.80,153.30 485.40,150.10 488.10,148.40 490.30,148.00 493.00,143.70 495.60,140.50 498.10,134.50 500.90,130.30 503.00,126.00 505.80,123.20 508.40,124.10 510.90,130.30 513.70,136.00 516.50,137.70 518.60,135.20 521.20,135.60 523.70,139.90 526.50,143.50 529.30,137.70 531.80,126.00 534.00,121.10 536.50,124.50 539.10,134.50 541.60,143.00 544.20,149.00 546.80,153.70 549.30,155.80 552.10,157.30 554.90,159.50 557.40,163.30 559.60,167.10 562.10,169.30 564.70,170.80 567.50,170.10 570.20,167.10 572.80,161.60 575.40,158.60 577.50,157.30 580.30,159.50 583.00,160.70 585.60,161.20 588.10,162.90 590.50,166.50 593.00,169.70 595.20,171.40 598.05,171.40 600.20,171.40 602.35,171.40 604.50,171.40 606.65,171.40 608.80,171.40 610.95,171.40 613.10,171.40 615.25,171.40 617.40,171.40 619.55,171.40 621.70,171.40 623.85,171.40 626.00,171.40 628.15,171.40 630.30,171.40 632.45,171.40 634.60,171.40 636.75,171.40 638.90,171.40 641.05,171.40 643.20,171.40 645.35,171.40 647.50,171.40" fill="none" stroke="#d8488e" stroke-width="0.9" stroke-linejoin="round"/>
<circle cx="475.30" cy="153.70" r="1.45" fill="#cc3f87" stroke="#8e2560" stroke-width="0.4"/>
<circle cx="477.50" cy="157.30" r="1.45" fill="#cc3f87" stroke="#8e2560" stroke-width="0.4"/>
<circle cx="480.20" cy="156.50" r="1.45" fill="#cc3f87" stroke="#8e2560" stroke-width="0.4"/>
<circle cx="482.80" cy="153.30" r="1.45" fill="#cc3f87" stroke="#8e2560" stroke-width="0.4"/>
<circle cx="485.40" cy="150.10" r="1.45" fill="#cc3f87" stroke="#8e2560" stroke-width="0.4"/>
<circle cx="488.10" cy="148.40" r="1.45" fill="#cc3f87" stroke="#8e2560" stroke-width="0.4"/>
<circle cx="490.30" cy="148.00" r="1.45" fill="#cc3f87" stroke="#8e2560" stroke-width="0.4"/>
<circle cx="493.00" cy="143.70" r="1.45" fill="#cc3f87" stroke="#8e2560" stroke-width="0.4"/>
<circle cx="495.60" cy="140.50" r="1.45" fill="#cc3f87" stroke="#8e2560" stroke-width="0.4"/>
<circle cx="498.10" cy="134.50" r="1.45" fill="#cc3f87" stroke="#8e2560" stroke-width="0.4"/>
<circle cx="500.90" cy="130.30" r="1.45" fill="#cc3f87" stroke="#8e2560" stroke-width="0.4"/>
<circle cx="503.00" cy="126.00" r="1.45" fill="#cc3f87" stroke="#8e2560" stroke-width="0.4"/>
<circle cx="505.80" cy="123.20" r="1.45" fill="#cc3f87" stroke="#8e2560" stroke-width="0.4"/>
<circle cx="508.40" cy="124.10" r="1.45" fill="#cc3f87" stroke="#8e2560" stroke-width="0.4"/>
<circle cx="510.90" cy="130.30" r="1.45" fill="#cc3f87" stroke="#8e2560" stroke-width="0.4"/>
<circle cx="513.70" cy="136.00" r="1.45" fill="#cc3f87" stroke="#8e2560" stroke-width="0.4"/>
<circle cx="516.50" cy="137.70" r="1.45" fill="#cc3f87" stroke="#8e2560" stroke-width="0.4"/>
<circle cx="518.60" cy="135.20" r="1.45" fill="#cc3f87" stroke="#8e2560" stroke-width="0.4"/>
<circle cx="521.20" cy="135.60" r="1.45" fill="#cc3f87" stroke="#8e2560" stroke-width="0.4"/>
<circle cx="523.70" cy="139.90" r="1.45" fill="#cc3f87" stroke="#8e2560" stroke-width="0.4"/>
<circle cx="526.50" cy="143.50" r="1.45" fill="#cc3f87" stroke="#8e2560" stroke-width="0.4"/>
<circle cx="529.30" cy="137.70" r="1.45" fill="#cc3f87" stroke="#8e2560" stroke-width="0.4"/>
<circle cx="531.80" cy="126.00" r="1.45" fill="#cc3f87" stroke="#8e2560" stroke-width="0.4"/>
<circle cx="534.00" cy="121.10" r="1.45" fill="#cc3f87" stroke="#8e2560" stroke-width="0.4"/>
<circle cx="536.50" cy="124.50" r="1.45" fill="#cc3f87" stroke="#8e2560" stroke-width="0.4"/>
<circle cx="539.10" cy="134.50" r="1.45" fill="#cc3f87" stroke="#8e2560" stroke-width="0.4"/>
<circle cx="541.60" cy="143.00" r="1.45" fill="#cc3f87" stroke="#8e2560" stroke-width="0.4"/>
<circle cx="544.20" cy="149.00" r="1.45" fill="#cc3f87" stroke="#8e2560" stroke-width="0.4"/>
<circle cx="546.80" cy="153.70" r="1.45" fill="#cc3f87" stroke="#8e2560" stroke-width="0.4"/>
<circle cx="549.30" cy="155.80" r="1.45" fill="#cc3f87" stroke="#8e2560" stroke-width="0.4"/>
<circle cx="552.10" cy="157.30" r="1.45" fill="#cc3f87" stroke="#8e2560" stroke-width="0.4"/>
<circle cx="554.90" cy="159.50" r="1.45" fill="#cc3f87" stroke="#8e2560" stroke-width="0.4"/>
<circle cx="557.40" cy="163.30" r="1.45" fill="#cc3f87" stroke="#8e2560" stroke-width="0.4"/>
<circle cx="559.60" cy="167.10" r="1.45" fill="#cc3f87" stroke="#8e2560" stroke-width="0.4"/>
<circle cx="562.10" cy="169.30" r="1.45" fill="#cc3f87" stroke="#8e2560" stroke-width="0.4"/>
<circle cx="564.70" cy="170.80" r="1.45" fill="#cc3f87" stroke="#8e2560" stroke-width="0.4"/>
<circle cx="567.50" cy="170.10" r="1.45" fill="#cc3f87" stroke="#8e2560" stroke-width="0.4"/>
<circle cx="570.20" cy="167.10" r="1.45" fill="#cc3f87" stroke="#8e2560" stroke-width="0.4"/>
<circle cx="572.80" cy="161.60" r="1.45" fill="#cc3f87" stroke="#8e2560" stroke-width="0.4"/>
<circle cx="575.40" cy="158.60" r="1.45" fill="#cc3f87" stroke="#8e2560" stroke-width="0.4"/>
<circle cx="577.50" cy="157.30" r="1.45" fill="#cc3f87" stroke="#8e2560" stroke-width="0.4"/>
<circle cx="580.30" cy="159.50" r="1.45" fill="#cc3f87" stroke="#8e2560" stroke-width="0.4"/>
<circle cx="583.00" cy="160.70" r="1.45" fill="#cc3f87" stroke="#8e2560" stroke-width="0.4"/>
<circle cx="585.60" cy="161.20" r="1.45" fill="#cc3f87" stroke="#8e2560" stroke-width="0.4"/>
<circle cx="588.10" cy="162.90" r="1.45" fill="#cc3f87" stroke="#8e2560" stroke-width="0.4"/>
<circle cx="590.50" cy="166.50" r="1.45" fill="#cc3f87" stroke="#8e2560" stroke-width="0.4"/>
<circle cx="593.00" cy="169.70" r="1.45" fill="#cc3f87" stroke="#8e2560" stroke-width="0.4"/>
<circle cx="595.20" cy="171.40" r="1.45" fill="#cc3f87" stroke="#8e2560" stroke-width="0.4"/>
<circle cx="598.05" cy="171.40" r="1.45" fill="#cc3f87" stroke="#8e2560" stroke-width="0.4"/>
<circle cx="600.20" cy="171.40" r="1.45" fill="#cc3f87" stroke="#8e2560" stroke-width="0.4"/>
<circle cx="602.35" cy="171.40" r="1.45" fill="#cc3f87" stroke="#8e2560" stroke-width="0.4"/>
<circle cx="604.50" cy="171.40" r="1.45" fill="#cc3f87" stroke="#8e2560" stroke-width="0.4"/>
<circle cx="606.65" cy="171.40" r="1.45" fill="#cc3f87" stroke="#8e2560" stroke-width="0.4"/>
<circle cx="608.80" cy="171.40" r="1.45" fill="#cc3f87" stroke="#8e2560" stroke-width="0.4"/>
<circle cx="610.95" cy="171.40" r="1.45" fill="#cc3f87" stroke="#8e2560" stroke-width="0.4"/>
<circle cx="613.10" cy="171.40" r="1.45" fill="#cc3f87" stroke="#8e2560" stroke-width="0.4"/>
<circle cx="615.25" cy="171.40" r="1.45" fill="#cc3f87" stroke="#8e2560" stroke-width="0.4"/>
<circle cx="617.40" cy="171.40" r="1.45" fill="#cc3f87" stroke="#8e2560" stroke-width="0.4"/>
<circle cx="619.55" cy="171.40" r="1.45" fill="#cc3f87" stroke="#8e2560" stroke-width="0.4"/>
<circle cx="621.70" cy="171.40" r="1.45" fill="#cc3f87" stroke="#8e2560" stroke-width="0.4"/>
<circle cx="623.85" cy="171.40" r="1.45" fill="#cc3f87" stroke="#8e2560" stroke-width="0.4"/>
<circle cx="626.00" cy="171.40" r="1.45" fill="#cc3f87" stroke="#8e2560" stroke-width="0.4"/>
<circle cx="628.15" cy="171.40" r="1.45" fill="#cc3f87" stroke="#8e2560" stroke-width="0.4"/>
<circle cx="630.30" cy="171.40" r="1.45" fill="#cc3f87" stroke="#8e2560" stroke-width="0.4"/>
<circle cx="632.45" cy="171.40" r="1.45" fill="#cc3f87" stroke="#8e2560" stroke-width="0.4"/>
<circle cx="634.60" cy="171.40" r="1.45" fill="#cc3f87" stroke="#8e2560" stroke-width="0.4"/>
<circle cx="636.75" cy="171.40" r="1.45" fill="#cc3f87" stroke="#8e2560" stroke-width="0.4"/>
<circle cx="638.90" cy="171.40" r="1.45" fill="#cc3f87" stroke="#8e2560" stroke-width="0.4"/>
<circle cx="641.05" cy="171.40" r="1.45" fill="#cc3f87" stroke="#8e2560" stroke-width="0.4"/>
<circle cx="643.20" cy="171.40" r="1.45" fill="#cc3f87" stroke="#8e2560" stroke-width="0.4"/>
<circle cx="645.35" cy="171.40" r="1.45" fill="#cc3f87" stroke="#8e2560" stroke-width="0.4"/>
<circle cx="647.50" cy="171.40" r="1.45" fill="#cc3f87" stroke="#8e2560" stroke-width="0.4"/>
<rect x="474.90" y="201.90" width="122.50" height="12.90" rx="0" fill="#97b3d7"/>
<rect x="597.40" y="201.90" width="50.60" height="12.90" rx="0" fill="#cf6551"/>
<text x="536.65" y="212.20" font-size="10" text-anchor="middle" fill="#1a1a1a" font-weight="normal" font-style="normal" textLength="33.5" lengthAdjust="spacingAndGlyphs" stroke="#1a1a1a" stroke-width="0.13999999999999999">ACTIVE</text>
<text x="623.00" y="212.20" font-size="10.2" text-anchor="middle" fill="white" font-weight="normal" font-style="normal" textLength="48" lengthAdjust="spacingAndGlyphs" stroke="white" stroke-width="0.13999999999999999">REPRESSED</text>
<line x1="597.40" y1="214.80" x2="597.40" y2="276.10" stroke="#9a9a9a" stroke-width="0.8" stroke-dasharray="2.4,1.8"/>
<line x1="475.20" y1="219.50" x2="475.20" y2="276.40" stroke="#7fb77f" stroke-width="1"/>
<line x1="475.20" y1="276.10" x2="648.00" y2="276.10" stroke="#666" stroke-width="1"/>
<line x1="648.00" y1="219.50" x2="648.00" y2="276.40" stroke="#ea8cb8" stroke-width="1"/>
<line x1="475.20" y1="272.40" x2="476.70" y2="272.40" stroke="#7fb77f" stroke-width="0.8"/>
<text x="472.60" y="275.59" font-size="9" text-anchor="end" fill="#6fae72" font-weight="normal" font-style="normal" stroke="#6fae72" stroke-width="0.1">2</text>
<line x1="475.20" y1="262.90" x2="476.70" y2="262.90" stroke="#7fb77f" stroke-width="0.8"/>
<text x="472.60" y="266.09" font-size="9" text-anchor="end" fill="#6fae72" font-weight="normal" font-style="normal" stroke="#6fae72" stroke-width="0.1">4</text>
<line x1="475.20" y1="253.40" x2="476.70" y2="253.40" stroke="#7fb77f" stroke-width="0.8"/>
<text x="472.60" y="256.59" font-size="9" text-anchor="end" fill="#6fae72" font-weight="normal" font-style="normal" stroke="#6fae72" stroke-width="0.1">6</text>
<line x1="475.20" y1="243.90" x2="476.70" y2="243.90" stroke="#7fb77f" stroke-width="0.8"/>
<text x="472.60" y="247.09" font-size="9" text-anchor="end" fill="#6fae72" font-weight="normal" font-style="normal" stroke="#6fae72" stroke-width="0.1">8</text>
<line x1="475.20" y1="234.40" x2="476.70" y2="234.40" stroke="#7fb77f" stroke-width="0.8"/>
<text x="472.60" y="237.59" font-size="9" text-anchor="end" fill="#6fae72" font-weight="normal" font-style="normal" stroke="#6fae72" stroke-width="0.1">10</text>
<line x1="475.20" y1="224.90" x2="476.70" y2="224.90" stroke="#7fb77f" stroke-width="0.8"/>
<text x="472.60" y="228.09" font-size="9" text-anchor="end" fill="#6fae72" font-weight="normal" font-style="normal" stroke="#6fae72" stroke-width="0.1">12</text>
<line x1="646.50" y1="272.70" x2="648.00" y2="272.70" stroke="#ea8cb8" stroke-width="0.8"/>
<text x="650.80" y="276.00" font-size="9.3" text-anchor="start" fill="#e0609c" font-weight="normal" font-style="normal" stroke="#e0609c" stroke-width="0.1">0</text>
<line x1="646.50" y1="253.50" x2="648.00" y2="253.50" stroke="#ea8cb8" stroke-width="0.8"/>
<text x="650.80" y="256.80" font-size="9.3" text-anchor="start" fill="#e0609c" font-weight="normal" font-style="normal" stroke="#e0609c" stroke-width="0.1">0.4</text>
<line x1="646.50" y1="234.30" x2="648.00" y2="234.30" stroke="#ea8cb8" stroke-width="0.8"/>
<text x="650.80" y="237.60" font-size="9.3" text-anchor="start" fill="#e0609c" font-weight="normal" font-style="normal" stroke="#e0609c" stroke-width="0.1">0.8</text>
<line x1="482.50" y1="276.10" x2="482.50" y2="274.60" stroke="#666" stroke-width="0.8"/>
<text x="482.50" y="286.25" font-size="9.3" text-anchor="middle" fill="#474747" font-weight="normal" font-style="normal" stroke="#474747" stroke-width="0.1">6</text>
<line x1="497.94" y1="276.10" x2="497.94" y2="274.60" stroke="#666" stroke-width="0.8"/>
<text x="497.94" y="286.25" font-size="9.3" text-anchor="middle" fill="#474747" font-weight="normal" font-style="normal" stroke="#474747" stroke-width="0.1">8</text>
<line x1="513.38" y1="276.10" x2="513.38" y2="274.60" stroke="#666" stroke-width="0.8"/>
<text x="513.38" y="286.25" font-size="9.3" text-anchor="middle" fill="#474747" font-weight="normal" font-style="normal" stroke="#474747" stroke-width="0.1">10</text>
<line x1="528.82" y1="276.10" x2="528.82" y2="274.60" stroke="#666" stroke-width="0.8"/>
<text x="528.82" y="286.25" font-size="9.3" text-anchor="middle" fill="#474747" font-weight="normal" font-style="normal" stroke="#474747" stroke-width="0.1">12</text>
<line x1="544.26" y1="276.10" x2="544.26" y2="274.60" stroke="#666" stroke-width="0.8"/>
<text x="544.26" y="286.25" font-size="9.3" text-anchor="middle" fill="#474747" font-weight="normal" font-style="normal" stroke="#474747" stroke-width="0.1">14</text>
<line x1="559.70" y1="276.10" x2="559.70" y2="274.60" stroke="#666" stroke-width="0.8"/>
<text x="559.70" y="286.25" font-size="9.3" text-anchor="middle" fill="#474747" font-weight="normal" font-style="normal" stroke="#474747" stroke-width="0.1">16</text>
<line x1="575.14" y1="276.10" x2="575.14" y2="274.60" stroke="#666" stroke-width="0.8"/>
<text x="575.14" y="286.25" font-size="9.3" text-anchor="middle" fill="#474747" font-weight="normal" font-style="normal" stroke="#474747" stroke-width="0.1">18</text>
<line x1="590.58" y1="276.10" x2="590.58" y2="274.60" stroke="#666" stroke-width="0.8"/>
<text x="590.58" y="286.25" font-size="9.3" text-anchor="middle" fill="#474747" font-weight="normal" font-style="normal" stroke="#474747" stroke-width="0.1">20</text>
<line x1="606.02" y1="276.10" x2="606.02" y2="274.60" stroke="#666" stroke-width="0.8"/>
<text x="606.02" y="286.25" font-size="9.3" text-anchor="middle" fill="#474747" font-weight="normal" font-style="normal" stroke="#474747" stroke-width="0.1">22</text>
<line x1="621.46" y1="276.10" x2="621.46" y2="274.60" stroke="#666" stroke-width="0.8"/>
<text x="621.46" y="286.25" font-size="9.3" text-anchor="middle" fill="#474747" font-weight="normal" font-style="normal" stroke="#474747" stroke-width="0.1">24</text>
<line x1="636.90" y1="276.10" x2="636.90" y2="274.60" stroke="#666" stroke-width="0.8"/>
<text x="636.90" y="286.25" font-size="9.3" text-anchor="middle" fill="#474747" font-weight="normal" font-style="normal" stroke="#474747" stroke-width="0.1">26</text>
<text x="559.50" y="294.90" font-size="9.3" text-anchor="middle" fill="#111" font-weight="normal" font-style="normal" textLength="44.2" lengthAdjust="spacingAndGlyphs" stroke="#111" stroke-width="0.1">time (min)</text>
<text x="459.20" y="247.40" font-size="9.11" text-anchor="middle" fill="#6fae72" font-weight="normal" font-style="normal" transform="rotate(-90 459.20 247.40)" textLength="53.3" lengthAdjust="spacingAndGlyphs" stroke="#6fae72" stroke-width="0.1">[Knirps] (au)</text>
<text x="677.60" y="243.90" font-size="9.3" text-anchor="middle" fill="#e0609c" font-weight="normal" font-style="normal" transform="rotate(90 677.60 243.90)" textLength="76.3" lengthAdjust="spacingAndGlyphs" stroke="#e0609c" stroke-width="0.1">transcription rate</text>
<text x="666.60" y="245.40" font-size="9.3" text-anchor="middle" fill="#e0609c" font-weight="normal" font-style="normal" transform="rotate(90 666.60 245.40)" textLength="55" lengthAdjust="spacingAndGlyphs" stroke="#e0609c" stroke-width="0.1">(normalized)</text>
<polyline points="475.30,270.00 482.80,268.50 491.30,267.90 497.70,264.90 504.10,263.60 508.40,263.20 512.60,261.50 521.20,258.50 529.70,255.70 536.10,252.90 539.30,250.00 544.60,248.70 551.00,247.20 559.60,244.40 563.80,241.90 570.00,240.80 572.80,239.30 579.20,237.60 585.60,236.10 592.00,235.00 598.40,234.40 604.80,231.60 611.20,226.50 615.40,225.20 619.70,227.40 624.00,227.40 628.20,225.20 634.60,224.40 641.00,222.70 647.40,223.10" fill="none" stroke="#3d6e3d" stroke-width="0.7" stroke-linejoin="round"/>
<circle cx="475.50" cy="269.83" r="1.45" fill="#66a666" stroke="#2f5c2f" stroke-width="0.5"/>
<circle cx="477.65" cy="269.88" r="1.45" fill="#66a666" stroke="#2f5c2f" stroke-width="0.5"/>
<circle cx="479.80" cy="268.80" r="1.45" fill="#66a666" stroke="#2f5c2f" stroke-width="0.5"/>
<circle cx="481.95" cy="268.70" r="1.45" fill="#66a666" stroke="#2f5c2f" stroke-width="0.5"/>
<circle cx="484.10" cy="268.57" r="1.45" fill="#66a666" stroke="#2f5c2f" stroke-width="0.5"/>
<circle cx="486.25" cy="268.54" r="1.45" fill="#66a666" stroke="#2f5c2f" stroke-width="0.5"/>
<circle cx="488.40" cy="268.27" r="1.45" fill="#66a666" stroke="#2f5c2f" stroke-width="0.5"/>
<circle cx="490.55" cy="268.10" r="1.45" fill="#66a666" stroke="#2f5c2f" stroke-width="0.5"/>
<circle cx="492.70" cy="267.45" r="1.45" fill="#66a666" stroke="#2f5c2f" stroke-width="0.5"/>
<circle cx="494.85" cy="266.53" r="1.45" fill="#66a666" stroke="#2f5c2f" stroke-width="0.5"/>
<circle cx="497.00" cy="265.12" r="1.45" fill="#66a666" stroke="#2f5c2f" stroke-width="0.5"/>
<circle cx="499.15" cy="264.74" r="1.45" fill="#66a666" stroke="#2f5c2f" stroke-width="0.5"/>
<circle cx="501.30" cy="264.45" r="1.45" fill="#66a666" stroke="#2f5c2f" stroke-width="0.5"/>
<circle cx="503.45" cy="263.99" r="1.45" fill="#66a666" stroke="#2f5c2f" stroke-width="0.5"/>
<circle cx="505.60" cy="263.40" r="1.45" fill="#66a666" stroke="#2f5c2f" stroke-width="0.5"/>
<circle cx="507.75" cy="263.46" r="1.45" fill="#66a666" stroke="#2f5c2f" stroke-width="0.5"/>
<circle cx="509.90" cy="262.85" r="1.45" fill="#66a666" stroke="#2f5c2f" stroke-width="0.5"/>
<circle cx="512.05" cy="261.77" r="1.45" fill="#66a666" stroke="#2f5c2f" stroke-width="0.5"/>
<circle cx="514.20" cy="261.03" r="1.45" fill="#66a666" stroke="#2f5c2f" stroke-width="0.5"/>
<circle cx="516.35" cy="260.11" r="1.45" fill="#66a666" stroke="#2f5c2f" stroke-width="0.5"/>
<circle cx="518.50" cy="259.50" r="1.45" fill="#66a666" stroke="#2f5c2f" stroke-width="0.5"/>
<circle cx="520.65" cy="258.77" r="1.45" fill="#66a666" stroke="#2f5c2f" stroke-width="0.5"/>
<circle cx="522.80" cy="257.68" r="1.45" fill="#66a666" stroke="#2f5c2f" stroke-width="0.5"/>
<circle cx="524.95" cy="257.36" r="1.45" fill="#66a666" stroke="#2f5c2f" stroke-width="0.5"/>
<circle cx="527.10" cy="256.90" r="1.45" fill="#66a666" stroke="#2f5c2f" stroke-width="0.5"/>
<circle cx="529.25" cy="256.11" r="1.45" fill="#66a666" stroke="#2f5c2f" stroke-width="0.5"/>
<circle cx="531.40" cy="255.12" r="1.45" fill="#66a666" stroke="#2f5c2f" stroke-width="0.5"/>
<circle cx="533.55" cy="253.94" r="1.45" fill="#66a666" stroke="#2f5c2f" stroke-width="0.5"/>
<circle cx="535.70" cy="253.24" r="1.45" fill="#66a666" stroke="#2f5c2f" stroke-width="0.5"/>
<circle cx="537.85" cy="251.37" r="1.45" fill="#66a666" stroke="#2f5c2f" stroke-width="0.5"/>
<circle cx="540.00" cy="249.79" r="1.45" fill="#66a666" stroke="#2f5c2f" stroke-width="0.5"/>
<circle cx="542.15" cy="249.54" r="1.45" fill="#66a666" stroke="#2f5c2f" stroke-width="0.5"/>
<circle cx="544.30" cy="248.48" r="1.45" fill="#66a666" stroke="#2f5c2f" stroke-width="0.5"/>
<circle cx="546.45" cy="248.44" r="1.45" fill="#66a666" stroke="#2f5c2f" stroke-width="0.5"/>
<circle cx="548.60" cy="247.43" r="1.45" fill="#66a666" stroke="#2f5c2f" stroke-width="0.5"/>
<circle cx="550.75" cy="247.33" r="1.45" fill="#66a666" stroke="#2f5c2f" stroke-width="0.5"/>
<circle cx="552.90" cy="246.57" r="1.45" fill="#66a666" stroke="#2f5c2f" stroke-width="0.5"/>
<circle cx="555.05" cy="245.69" r="1.45" fill="#66a666" stroke="#2f5c2f" stroke-width="0.5"/>
<circle cx="557.20" cy="245.32" r="1.45" fill="#66a666" stroke="#2f5c2f" stroke-width="0.5"/>
<circle cx="559.35" cy="244.48" r="1.45" fill="#66a666" stroke="#2f5c2f" stroke-width="0.5"/>
<circle cx="561.50" cy="243.35" r="1.45" fill="#66a666" stroke="#2f5c2f" stroke-width="0.5"/>
<circle cx="563.65" cy="242.28" r="1.45" fill="#66a666" stroke="#2f5c2f" stroke-width="0.5"/>
<circle cx="565.80" cy="241.37" r="1.45" fill="#66a666" stroke="#2f5c2f" stroke-width="0.5"/>
<circle cx="567.95" cy="240.82" r="1.45" fill="#66a666" stroke="#2f5c2f" stroke-width="0.5"/>
<circle cx="570.10" cy="240.61" r="1.45" fill="#66a666" stroke="#2f5c2f" stroke-width="0.5"/>
<circle cx="572.25" cy="239.72" r="1.45" fill="#66a666" stroke="#2f5c2f" stroke-width="0.5"/>
<circle cx="574.40" cy="238.67" r="1.45" fill="#66a666" stroke="#2f5c2f" stroke-width="0.5"/>
<circle cx="576.55" cy="238.07" r="1.45" fill="#66a666" stroke="#2f5c2f" stroke-width="0.5"/>
<circle cx="578.70" cy="238.02" r="1.45" fill="#66a666" stroke="#2f5c2f" stroke-width="0.5"/>
<circle cx="580.85" cy="237.33" r="1.45" fill="#66a666" stroke="#2f5c2f" stroke-width="0.5"/>
<circle cx="583.00" cy="236.67" r="1.45" fill="#66a666" stroke="#2f5c2f" stroke-width="0.5"/>
<circle cx="585.15" cy="236.48" r="1.45" fill="#66a666" stroke="#2f5c2f" stroke-width="0.5"/>
<circle cx="587.30" cy="235.69" r="1.45" fill="#66a666" stroke="#2f5c2f" stroke-width="0.5"/>
<circle cx="589.45" cy="235.55" r="1.45" fill="#66a666" stroke="#2f5c2f" stroke-width="0.5"/>
<circle cx="591.60" cy="234.86" r="1.45" fill="#66a666" stroke="#2f5c2f" stroke-width="0.5"/>
<circle cx="593.75" cy="234.79" r="1.45" fill="#66a666" stroke="#2f5c2f" stroke-width="0.5"/>
<circle cx="595.90" cy="234.85" r="1.45" fill="#66a666" stroke="#2f5c2f" stroke-width="0.5"/>
<circle cx="598.05" cy="234.72" r="1.45" fill="#66a666" stroke="#2f5c2f" stroke-width="0.5"/>
<circle cx="600.20" cy="233.88" r="1.45" fill="#66a666" stroke="#2f5c2f" stroke-width="0.5"/>
<circle cx="602.35" cy="232.59" r="1.45" fill="#66a666" stroke="#2f5c2f" stroke-width="0.5"/>
<circle cx="604.50" cy="231.79" r="1.45" fill="#66a666" stroke="#2f5c2f" stroke-width="0.5"/>
<circle cx="606.65" cy="230.00" r="1.45" fill="#66a666" stroke="#2f5c2f" stroke-width="0.5"/>
<circle cx="608.80" cy="228.16" r="1.45" fill="#66a666" stroke="#2f5c2f" stroke-width="0.5"/>
<circle cx="610.95" cy="226.70" r="1.45" fill="#66a666" stroke="#2f5c2f" stroke-width="0.5"/>
<circle cx="613.10" cy="226.15" r="1.45" fill="#66a666" stroke="#2f5c2f" stroke-width="0.5"/>
<circle cx="615.25" cy="225.49" r="1.45" fill="#66a666" stroke="#2f5c2f" stroke-width="0.5"/>
<circle cx="617.40" cy="226.37" r="1.45" fill="#66a666" stroke="#2f5c2f" stroke-width="0.5"/>
<circle cx="619.55" cy="227.64" r="1.45" fill="#66a666" stroke="#2f5c2f" stroke-width="0.5"/>
<circle cx="621.70" cy="227.24" r="1.45" fill="#66a666" stroke="#2f5c2f" stroke-width="0.5"/>
<circle cx="623.85" cy="227.17" r="1.45" fill="#66a666" stroke="#2f5c2f" stroke-width="0.5"/>
<circle cx="626.00" cy="226.32" r="1.45" fill="#66a666" stroke="#2f5c2f" stroke-width="0.5"/>
<circle cx="628.15" cy="225.07" r="1.45" fill="#66a666" stroke="#2f5c2f" stroke-width="0.5"/>
<circle cx="630.30" cy="224.74" r="1.45" fill="#66a666" stroke="#2f5c2f" stroke-width="0.5"/>
<circle cx="632.45" cy="224.61" r="1.45" fill="#66a666" stroke="#2f5c2f" stroke-width="0.5"/>
<circle cx="634.60" cy="224.49" r="1.45" fill="#66a666" stroke="#2f5c2f" stroke-width="0.5"/>
<circle cx="636.75" cy="223.82" r="1.45" fill="#66a666" stroke="#2f5c2f" stroke-width="0.5"/>
<circle cx="638.90" cy="223.13" r="1.45" fill="#66a666" stroke="#2f5c2f" stroke-width="0.5"/>
<circle cx="641.05" cy="222.94" r="1.45" fill="#66a666" stroke="#2f5c2f" stroke-width="0.5"/>
<circle cx="643.20" cy="223.17" r="1.45" fill="#66a666" stroke="#2f5c2f" stroke-width="0.5"/>
<circle cx="645.35" cy="222.94" r="1.45" fill="#66a666" stroke="#2f5c2f" stroke-width="0.5"/>
<circle cx="647.50" cy="222.80" r="1.45" fill="#66a666" stroke="#2f5c2f" stroke-width="0.5"/>
<polyline points="475.30,234.40 477.50,239.70 480.20,238.00 482.80,238.00 485.40,232.90 488.10,232.90 490.30,230.10 493.00,232.90 495.60,230.80 498.10,228.00 500.90,228.00 503.70,229.10 506.20,229.10 508.40,226.50 510.50,228.00 512.60,235.90 515.20,238.00 518.00,238.00 520.70,228.00 523.30,231.20 525.90,227.40 528.60,232.90 531.40,228.60 534.00,233.30 536.50,232.90 539.30,232.30 541.40,230.10 544.20,234.40 546.80,235.90 549.30,237.20 552.10,230.80 554.90,230.10 557.00,226.50 559.60,228.00 562.60,228.00 565.30,232.90 567.50,229.50 569.60,233.30 572.40,238.70 574.50,250.00 577.10,254.60 579.60,256.80 582.40,257.20 585.20,258.90 587.70,261.50 590.50,263.60 593.00,267.90 595.20,271.30 598.00,273.80 600.20,273.80 602.35,273.80 604.50,273.80 606.65,273.80 608.80,273.80 610.95,273.80 613.10,273.80 615.25,273.80 617.40,273.80 619.55,273.80 621.70,273.80 623.85,273.80 626.00,273.80 628.15,273.80 630.30,273.80 632.45,273.80 634.60,273.80 636.75,273.80 638.90,273.80 641.05,273.80 643.20,273.80 645.35,273.80 647.50,273.80" fill="none" stroke="#d8488e" stroke-width="0.9" stroke-linejoin="round"/>
<circle cx="475.30" cy="234.40" r="1.45" fill="#cc3f87" stroke="#8e2560" stroke-width="0.4"/>
<circle cx="477.50" cy="239.70" r="1.45" fill="#cc3f87" stroke="#8e2560" stroke-width="0.4"/>
<circle cx="480.20" cy="238.00" r="1.45" fill="#cc3f87" stroke="#8e2560" stroke-width="0.4"/>
<circle cx="482.80" cy="238.00" r="1.45" fill="#cc3f87" stroke="#8e2560" stroke-width="0.4"/>
<circle cx="485.40" cy="232.90" r="1.45" fill="#cc3f87" stroke="#8e2560" stroke-width="0.4"/>
<circle cx="488.10" cy="232.90" r="1.45" fill="#cc3f87" stroke="#8e2560" stroke-width="0.4"/>
<circle cx="490.30" cy="230.10" r="1.45" fill="#cc3f87" stroke="#8e2560" stroke-width="0.4"/>
<circle cx="493.00" cy="232.90" r="1.45" fill="#cc3f87" stroke="#8e2560" stroke-width="0.4"/>
<circle cx="495.60" cy="230.80" r="1.45" fill="#cc3f87" stroke="#8e2560" stroke-width="0.4"/>
<circle cx="498.10" cy="228.00" r="1.45" fill="#cc3f87" stroke="#8e2560" stroke-width="0.4"/>
<circle cx="500.90" cy="228.00" r="1.45" fill="#cc3f87" stroke="#8e2560" stroke-width="0.4"/>
<circle cx="503.70" cy="229.10" r="1.45" fill="#cc3f87" stroke="#8e2560" stroke-width="0.4"/>
<circle cx="506.20" cy="229.10" r="1.45" fill="#cc3f87" stroke="#8e2560" stroke-width="0.4"/>
<circle cx="508.40" cy="226.50" r="1.45" fill="#cc3f87" stroke="#8e2560" stroke-width="0.4"/>
<circle cx="510.50" cy="228.00" r="1.45" fill="#cc3f87" stroke="#8e2560" stroke-width="0.4"/>
<circle cx="512.60" cy="235.90" r="1.45" fill="#cc3f87" stroke="#8e2560" stroke-width="0.4"/>
<circle cx="515.20" cy="238.00" r="1.45" fill="#cc3f87" stroke="#8e2560" stroke-width="0.4"/>
<circle cx="518.00" cy="238.00" r="1.45" fill="#cc3f87" stroke="#8e2560" stroke-width="0.4"/>
<circle cx="520.70" cy="228.00" r="1.45" fill="#cc3f87" stroke="#8e2560" stroke-width="0.4"/>
<circle cx="523.30" cy="231.20" r="1.45" fill="#cc3f87" stroke="#8e2560" stroke-width="0.4"/>
<circle cx="525.90" cy="227.40" r="1.45" fill="#cc3f87" stroke="#8e2560" stroke-width="0.4"/>
<circle cx="528.60" cy="232.90" r="1.45" fill="#cc3f87" stroke="#8e2560" stroke-width="0.4"/>
<circle cx="531.40" cy="228.60" r="1.45" fill="#cc3f87" stroke="#8e2560" stroke-width="0.4"/>
<circle cx="534.00" cy="233.30" r="1.45" fill="#cc3f87" stroke="#8e2560" stroke-width="0.4"/>
<circle cx="536.50" cy="232.90" r="1.45" fill="#cc3f87" stroke="#8e2560" stroke-width="0.4"/>
<circle cx="539.30" cy="232.30" r="1.45" fill="#cc3f87" stroke="#8e2560" stroke-width="0.4"/>
<circle cx="541.40" cy="230.10" r="1.45" fill="#cc3f87" stroke="#8e2560" stroke-width="0.4"/>
<circle cx="544.20" cy="234.40" r="1.45" fill="#cc3f87" stroke="#8e2560" stroke-width="0.4"/>
<circle cx="546.80" cy="235.90" r="1.45" fill="#cc3f87" stroke="#8e2560" stroke-width="0.4"/>
<circle cx="549.30" cy="237.20" r="1.45" fill="#cc3f87" stroke="#8e2560" stroke-width="0.4"/>
<circle cx="552.10" cy="230.80" r="1.45" fill="#cc3f87" stroke="#8e2560" stroke-width="0.4"/>
<circle cx="554.90" cy="230.10" r="1.45" fill="#cc3f87" stroke="#8e2560" stroke-width="0.4"/>
<circle cx="557.00" cy="226.50" r="1.45" fill="#cc3f87" stroke="#8e2560" stroke-width="0.4"/>
<circle cx="559.60" cy="228.00" r="1.45" fill="#cc3f87" stroke="#8e2560" stroke-width="0.4"/>
<circle cx="562.60" cy="228.00" r="1.45" fill="#cc3f87" stroke="#8e2560" stroke-width="0.4"/>
<circle cx="565.30" cy="232.90" r="1.45" fill="#cc3f87" stroke="#8e2560" stroke-width="0.4"/>
<circle cx="567.50" cy="229.50" r="1.45" fill="#cc3f87" stroke="#8e2560" stroke-width="0.4"/>
<circle cx="569.60" cy="233.30" r="1.45" fill="#cc3f87" stroke="#8e2560" stroke-width="0.4"/>
<circle cx="572.40" cy="238.70" r="1.45" fill="#cc3f87" stroke="#8e2560" stroke-width="0.4"/>
<circle cx="574.50" cy="250.00" r="1.45" fill="#cc3f87" stroke="#8e2560" stroke-width="0.4"/>
<circle cx="577.10" cy="254.60" r="1.45" fill="#cc3f87" stroke="#8e2560" stroke-width="0.4"/>
<circle cx="579.60" cy="256.80" r="1.45" fill="#cc3f87" stroke="#8e2560" stroke-width="0.4"/>
<circle cx="582.40" cy="257.20" r="1.45" fill="#cc3f87" stroke="#8e2560" stroke-width="0.4"/>
<circle cx="585.20" cy="258.90" r="1.45" fill="#cc3f87" stroke="#8e2560" stroke-width="0.4"/>
<circle cx="587.70" cy="261.50" r="1.45" fill="#cc3f87" stroke="#8e2560" stroke-width="0.4"/>
<circle cx="590.50" cy="263.60" r="1.45" fill="#cc3f87" stroke="#8e2560" stroke-width="0.4"/>
<circle cx="593.00" cy="267.90" r="1.45" fill="#cc3f87" stroke="#8e2560" stroke-width="0.4"/>
<circle cx="595.20" cy="271.30" r="1.45" fill="#cc3f87" stroke="#8e2560" stroke-width="0.4"/>
<circle cx="598.00" cy="273.80" r="1.45" fill="#cc3f87" stroke="#8e2560" stroke-width="0.4"/>
<circle cx="600.20" cy="273.80" r="1.45" fill="#cc3f87" stroke="#8e2560" stroke-width="0.4"/>
<circle cx="602.35" cy="273.80" r="1.45" fill="#cc3f87" stroke="#8e2560" stroke-width="0.4"/>
<circle cx="604.50" cy="273.80" r="1.45" fill="#cc3f87" stroke="#8e2560" stroke-width="0.4"/>
<circle cx="606.65" cy="273.80" r="1.45" fill="#cc3f87" stroke="#8e2560" stroke-width="0.4"/>
<circle cx="608.80" cy="273.80" r="1.45" fill="#cc3f87" stroke="#8e2560" stroke-width="0.4"/>
<circle cx="610.95" cy="273.80" r="1.45" fill="#cc3f87" stroke="#8e2560" stroke-width="0.4"/>
<circle cx="613.10" cy="273.80" r="1.45" fill="#cc3f87" stroke="#8e2560" stroke-width="0.4"/>
<circle cx="615.25" cy="273.80" r="1.45" fill="#cc3f87" stroke="#8e2560" stroke-width="0.4"/>
<circle cx="617.40" cy="273.80" r="1.45" fill="#cc3f87" stroke="#8e2560" stroke-width="0.4"/>
<circle cx="619.55" cy="273.80" r="1.45" fill="#cc3f87" stroke="#8e2560" stroke-width="0.4"/>
<circle cx="621.70" cy="273.80" r="1.45" fill="#cc3f87" stroke="#8e2560" stroke-width="0.4"/>
<circle cx="623.85" cy="273.80" r="1.45" fill="#cc3f87" stroke="#8e2560" stroke-width="0.4"/>
<circle cx="626.00" cy="273.80" r="1.45" fill="#cc3f87" stroke="#8e2560" stroke-width="0.4"/>
<circle cx="628.15" cy="273.80" r="1.45" fill="#cc3f87" stroke="#8e2560" stroke-width="0.4"/>
<circle cx="630.30" cy="273.80" r="1.45" fill="#cc3f87" stroke="#8e2560" stroke-width="0.4"/>
<circle cx="632.45" cy="273.80" r="1.45" fill="#cc3f87" stroke="#8e2560" stroke-width="0.4"/>
<circle cx="634.60" cy="273.80" r="1.45" fill="#cc3f87" stroke="#8e2560" stroke-width="0.4"/>
<circle cx="636.75" cy="273.80" r="1.45" fill="#cc3f87" stroke="#8e2560" stroke-width="0.4"/>
<circle cx="638.90" cy="273.80" r="1.45" fill="#cc3f87" stroke="#8e2560" stroke-width="0.4"/>
<circle cx="641.05" cy="273.80" r="1.45" fill="#cc3f87" stroke="#8e2560" stroke-width="0.4"/>
<circle cx="643.20" cy="273.80" r="1.45" fill="#cc3f87" stroke="#8e2560" stroke-width="0.4"/>
<circle cx="645.35" cy="273.80" r="1.45" fill="#cc3f87" stroke="#8e2560" stroke-width="0.4"/>
<circle cx="647.50" cy="273.80" r="1.45" fill="#cc3f87" stroke="#8e2560" stroke-width="0.4"/>
<line x1="566.40" y1="21.30" x2="578.70" y2="21.30" stroke="#7fb77f" stroke-width="0.9"/>
<circle cx="572.60" cy="21.30" r="1.5" fill="#6aa66a" stroke="#3d6e3d" stroke-width="0.4"/>
<line x1="566.40" y1="29.50" x2="578.70" y2="29.50" stroke="#e070a8" stroke-width="0.9"/>
<circle cx="572.60" cy="29.50" r="1.5" fill="#cc3f87" stroke="#8e2560" stroke-width="0.4"/>
<text x="581.50" y="23.90" font-size="8.18" text-anchor="start" fill="#222" font-weight="normal" font-style="normal" textLength="24.5" lengthAdjust="spacingAndGlyphs" stroke="#222" stroke-width="0.1">Knirps</text>
<text x="581.60" y="32.10" font-size="8.18" text-anchor="start" fill="#222" font-weight="normal" font-style="normal" textLength="57.8" lengthAdjust="spacingAndGlyphs" stroke="#222" stroke-width="0.1"><tspan font-style="italic">eve</tspan> (single-cell)</text>
</svg>
</body></html>
